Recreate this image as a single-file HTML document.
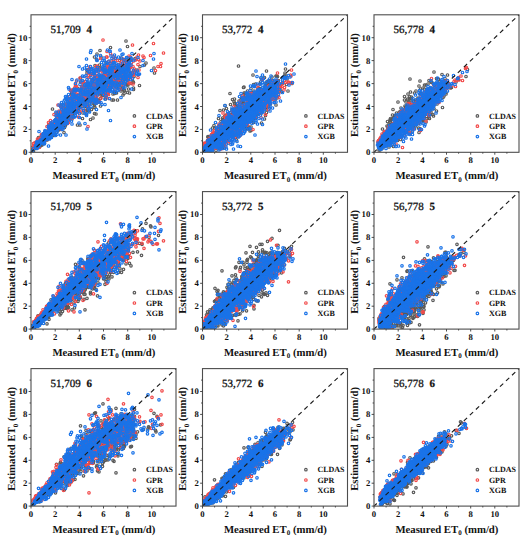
<!DOCTYPE html><html><head><meta charset="utf-8"><style>html,body{margin:0;padding:0;background:#fff;width:528px;height:550px;overflow:hidden}svg{display:block;text-rendering:geometricPrecision}text{font-family:"Liberation Serif",serif;fill:#111}.b{font-weight:bold}.t{font-size:8.7px;font-weight:bold}.g{font-size:8px;font-weight:bold}.l{font-size:10.75px;font-weight:bold}</style></head><body><svg width="528" height="550" viewBox="0 0 528 550"><defs><clipPath id="cp"><rect x="31.0" y="14.8" width="145.0" height="137.5"/></clipPath><marker id="Mk" markerUnits="userSpaceOnUse" markerWidth="10" markerHeight="10" refX="5" refY="5" overflow="visible"><circle cx="5" cy="5" r="2.50" fill="none" stroke="#5a5a5a" stroke-width="2.40"/></marker><marker id="Mr" markerUnits="userSpaceOnUse" markerWidth="10" markerHeight="10" refX="5" refY="5" overflow="visible"><circle cx="5" cy="5" r="2.50" fill="none" stroke="#f24a4a" stroke-width="2.40"/></marker><marker id="Mb" markerUnits="userSpaceOnUse" markerWidth="10" markerHeight="10" refX="5" refY="5" overflow="visible"><circle cx="5" cy="5" r="2.50" fill="none" stroke="#1a73e8" stroke-width="2.40"/></marker></defs><rect width="528" height="550" fill="#fff"/><g transform="translate(0.0,0.0)"><g clip-path="url(#cp)" fill="none" stroke="none"><path transform="scale(.5)" marker-start="url(#Mk)" marker-mid="url(#Mk)" marker-end="url(#Mk)" d="M68 294l1 0-1 3-2 1-1 2 1 0 0 1-4 1 5 0 4-5 0-2 3 0 1-1 4 0-7-1 1-1 1 0 6 0-5-1 2 0 5 0-11-1 4 0 1-2 3 0 2 0 1 0-4-1 2 0-6-1 6 0 3 0-10-1 7 0 2 0 1 0 0-1-1-1-2-1-2-1 3-1-4-5 5-1 14-13 1 1-1 3-2 1 2 2-9 2 3 0 1 0 0 1 4 0 2 0-6 1-3 1 2 0 6 0 1 0-8 1 4 0 2 0-5 1 4 0 1 0-11 1 7 1 5 0-9 1 8 0-11 1 1 0 10 0-7 1 1 0 5 0-6 2-1 1 2 1 0 3-5 1 0 2 14-15 2 0 1-3-3-1 10 0-4-1 3 0 2-1 1-1-6-1 5 0-7-1 2-1 2 0-1-1 1 0 0-2 1 0 3 0-10-2 3 0 5-1 2-1-11-1 6 0 6 0-6-1 4-1-1-2 1-2-1-1-10-1 6 0 5-5-4-26 17-8-1 2 4 2-13 12 10 0 2 0-3 2 2 3-10 1 1 5 11 3-9 1 6 0 3 0-8 1-4 2 5 0-4 2 6 0 5 0-4 1-1 1 5 1-13 1 5 0 7 0-11 1 4 0 4 0-5 3 1 2 2 0 2 0-9 1 8 0 0 1-2 1 4 0-8 1 2 1-3 4 15 0 1-10 1-3-1-1 2-1-4-1 2 0 2-7 4 0-2-4-2-1 8 0-6-2-3-1 6-2-1-2-3-1 7-1-1-2-5-1-5-2 6-1 3 0-3-1-7-2 4-1 1 0 5-1 1-3-8-6 2-10 14-18 0 1-3 5 1 3 6 0 3 11-11 4 5 2-4 2-2 1 4 0 2 2-5 1 9 1 1 1-1 2-4 1 6 0-12 1 5 2-3 4 10 1-9 1 7 0-6 1-2 2-2 2 6 2 0 1-5 1-2 1 4 2 11 12 5 0 5-13 1-11-11-3-1-5 1-1 1 0 8-4-6-1-1-1 3 0-3-3 4-1 1 0 5-1-9-1 4 0-7-1 11-2-12-1 5 0 1 0 4-1 2 0 1-1-10-1-1-2 3 0 3-1 3-3 0-4 2 0-7-7 7 0-11-4 11-1-3-3 3-7-6-2 0-8 16-17-3 2 0 5 2 26-4 1-2 3 2 1 5 3-2 4 1 1 4 1-7 1 8 1-7 2 4 0 1 1 1 1-11 1 11 0-7 2 4 1-3 1 5 0-11 3 5 0 5 1-7 3 8 0-4 8 2 0-8 1 5 6 5 1-5 1 4 1-5 6 8 11 5-3 6-8-3-1-6-8 5-4 2 0-1-6-1-2-4-1 9 0-11-4 6-2 5 0-3-1 4-1-1-1-11-2 2-3 6-1-8-1 2 0 2-3 4-1 0-1-6-3 5 0 3 0-10-1 5-3 0-3 3-2 5-1-10-3 0-1 0-2 0-4-1-2 3 0 7-26-4-3 3-12-4-5 5-6 6-7 2 13-3 16-1 5 4 1 7 6-6 13-6 2 3 1 4 0 1 4-6 1 4 2 0 2 1 4-6 1 11 1-7 3 0 1-5 2 5 1 5 2-1 4-7 1 5 1-2 2 3 1 3 0-7 6-4 5 0 2 4 8 10-14 1-4 3-6-4-3 0-4 1-1-2-1 3-3 10-1-1-1-10-1 6 0-3-1 7 0-1-1-7-2 4-2-6-1 3-4 8-1-7-2-6-1 2 0-1-4 6-2 2 0-8-1-1-2 3-3 7 0 1-1-9-2 5 0-1-2-6-6 8-3-6-7 9-30 10 22-5 8 7 6-5 4-2 1 11 1-9 2 7 0 1 0 1 0-5 2 4 2-8 5 1 3 2 0 2 1 4 0-12 3 1 2 3 0 7 0 0 1-11 2 11 0-9 1 6 0-3 1 7 0-9 2 2 1-6 1 7 1 4 0-11 1 2 0 6 1 2 0 3 1-4 2 0 2-4 9 1 2 3 1-4 1-3 1-2 12 3 0 8 0 11-10 2-3-6-5 7-1-1-1-5-1 4-1-2-2 2-1-9-1 1-3 4-1-4-3 1 0 1-2-3-1 13-2-11-2 7 0-9-3 10-1-6-1 7-2-6-2 7-3-4-10-7-1 11-6-9-3-2-7 10 0-1-1-5-4 9-34 3 11 1 23-4 4 9 0-5 7-4 5 6 5-5 5 8 3-1 5-2 3-3 3 0 1-1 2 1 6 7 2-8 1 0 2 2 0 1 8-2 7 4 1 8-7 0-3 12-5-12-6-1-2 2-10 1-9 5-4-4-23 22 9-3 4-9 3 28 3 1 10"/><path transform="scale(.5)" marker-start="url(#Mr)" marker-mid="url(#Mr)" marker-end="url(#Mr)" d="M67 287l1 4 1 0-2 3-3 1 9 0 5 0-5-3-3-1 2-2 5 0-2-1 0-1-4-1 2 0-3-1 4-1 1 0 1 0 4 0-6-1 1 0 2 0-2-1 2 0 1 0 1 0 3 0-5-1 2 0 2 0 2 0-7-1 2 0 3 0 2-1-8-1 4-1 4 0-1-3 1-3 0-2 14-24-3 8 3 7 0 1-7 2 4 0 3 0-4 1 1 0 1 0 1 1-4 2 1 0-7 1 2 0 4 0 2 0-6 1 2 0 5 0 1 0-11 1 6 0 3 0-2 1 0 1-4 1 1 0 3 0-7 1 2 0-2 1 4 1-5 1 10 1-8 2 5 0-7 2 14-11 3-2 2-2-2-1-3-1 2 0 0-1 1-1 2 0-4-2 9 0 0-1-8-1 7-1 2 0 1 0 1 0-9-1 6 0-7-1 1 0-1-1 4 0 4-1 1 0-1-1-11-1 1 0 3 0 4-2 3 0-2-2-7-1 8 0-3-3-4-3 7-12 8-19 6 3 3 2-7 7 3 1-6 2 4 1-5 4 0 1 0 1 3 0 2 0 3 1 1 0-4 3-3 1 7 0-8 1 1 0 6 0 2 0 1 1-3 1 3 3-4 1-6 1 3 0 1 0-7 1 7 0 6 1-8 1-4 1 6 0 3 0-10 1 5 0 1 0-6 1 4 0-4 1 8 4 2 2 13-11 2-2-5-2-1-2-3-1 4 0 3 0-6-1 9-1-5-1 4 0-6-1 6 0-8-1 6-1 1-1-7-1 4 0 1 0 3 0 2 0-10-1-3-1 13 0-13-1 12 0-9-1 8-1-10-1 4-1 7 0-8-1-4-2 1 0 7 0-7-1 4 0 1 0 5 0 2 0-5-1-7-4 11 0 1-2-4-1 0-3 1 0-3-2 4-8 2-7 14-31-2 7 0 3 2 1-4 3-6 4-2 1 9 1-5 1 3 1 2 2 3 2-4 2-7 6-2 2 9 0-6 1 8 0-3 1 0 2-5 1-1 1 0 1 11 1-1 1 1 0-11 1 2 2 3 0 2 0 2 0-6 1 8 0-13 3 6 1 0 2 4 0-8 1 3 0 7 0-10 2 8 1 3 4-11 1 0 2-2 1 5 7 12-2 3-10-2-1 6-3-9-7 2 0 2 0 0-2-2-2 3 0 7-3-4-1-9-1 4 0 5 0 1 0-4-2-1-2 2-2 5-2-5-2 4 0 2 0-12-1 5-1 2-1-4-2 9 0 0-3-6-2-6-3 9 0-3-2 4-2-2-3 3-2-1-7-2-1-3-8 20-23-2 5-1 8 4 3 0 1-7 4 4 1-8 8 1 0 5 3 0 1-3 3 3 1-6 4 1 0 1 0 2 2 3 1-1 4 5 2-7 1 0 1 3 0 2 1-3 2-8 1 3 2 2 0-4 1 2 0 6 0-5 1 5 0 3 0-12 3 11 0 2 1-12 1 12 0-12 2 9 1-6 2-3 1 0 1-1 1 0 4 9 1-1 3-8 6 8 32 18-48-2-1-9-2 9-2-7-4 8-1-3-2-8-1 3 0 2-2 7 0-9-1 1 0 9 0-5-1-2-2 2 0 1-1 3-2-7-1 3 0 4 0 1 0 0-2-7-3 2 0-2-1 4 0-8-1 4 0-4-1-2-1 1-2 5-2 1-1 4 0-7-1 4-3 0-1-6-1 0-3 6-1-2-1 3-1-1-1-1-1 2-2-2-1 5 0-9-3-3-1 8-3 3-1 0-2-5-1-5-1 9-6 2-1 12-52-5 37 7 18-9 4-1 3 6 0 2 2 3 3 0 3-5 1 2 1-3 1 4 1-10 2 12 1-13 1 7 2-7 1 12 0-10 2-1 2 8 0-3 3 5 0-5 1 1 1 4 1-11 1 1 0 1 0 10 1-3 1 4 0-12 1 5 1-3 1 3 0 2 0 5 0-4 1-2 1-7 4 2 1 2 1-4 1 13 3-7 7-3 7 19-6-6-4 5-4-1-2-3-1-1-7 6 0 4-5-6-1 6-2-4-1 3 0 0-1 1 0-7-1 8-1-9-1 5-1 2-2-4-1 1 0-3-1 5 0 1 0-7-2 3 0-4-1 1-1-4-1 5-2 6-1 0-1-4-1-3-1 6-2-4-1-2-1-2-1 4-1 2-1-8-1 7 0 6-1-11-1 0-2 2 0 2 0 1-4-2-2 3-3 2-3-3-3 5-1-9-8 1 0 7-7-7-4 12 9 4 5-3 2 8 2-7 7 9 1-1 5-2 3 2 0-5 1-7 1 8 1-1 3 5 0-4 1-7 1 7 2-6 1-1 1 6 1 2 0 0 1 2 1-11 1 4 0 1 1 7 0-12 1 7 0-3 1 5 1 1 2-8 2 3 0 2 1 1 2-4 2 1 0 1 1-3 4 2 0-4 1 3 0 2 6 10 0-1-8 8 0-4-2 1-4-5-1 3-2 4-2-8-3 3 0 3 0-3-2 4 0 3 0-8-2 10 0-2-2-7-1 2 0 2 0-6-2 4 0 6-1 1 0-11-1 4-6 4 0-7-3-1-2 7-2-2-2-1-6 6-2-3-4 19-28-7 22 3 2-2 7 4 4-8 1-3 1 4 2 6 2-1 4-2 1-2 4 7 6 0 4-12 1 10 0-3 1-4 2 4 0 5 0-8 1 2 2-3 1 2 0 1 8 2 0 6 2 10-13-9-5-1-3 2-5-1-1 11-1-9-2-3-5 10-4-9-7 4-2 6-1-3-5 3-4 9 2 2 3-8 7 21-11 6-24 9 46 5 0-10 8 11-14 5-21"/><path transform="scale(.5)" marker-start="url(#Mb)" marker-mid="url(#Mb)" marker-end="url(#Mb)" d="M67 297l-5 5 2 0 1 0 9-5 0-1-2-1 1-2 2 0 2 0-3-1 1 0 1 0-5-1 1 0 5 0-1-1 3 0-3-1 2 0-2-1 1 0-2-1 2 0 3 0-5-1 5 0 1 0 1 0-9-1 9 0 1 0-4-1 1 0 2 0 1 0-9-1 9 0-1-1-2-1 2-2-4-16 19-10 0 1-7 7 7 1-7 1 2 0 4 1 1 0-6 1-1 1-3 1 4 0 3 0-8 1 5 1 1 0-3 1 5 0 1 0 2 0-5 1 3 0-11 1 8 0 5 0-9 1 9 0-3 1 2 0-10 1 8 0-8 1 7 0 2 0-8 1 1 0 2 0 1 0 3 0-4 1 5 0-11 1 1 0 3 0 1 0 3 0-6 1 4 0-1 1-5 2 4 0-4 1 3 0-3 1 1 0 3 1 1 0-1 2 9 4 2-14 0-2 0-1 3 0 1 0-2-1-3-1 1 0 12-2-10-1 10 0-12-1 5 0-3-1 5 0-5-1 1 0 4 0-6-1 3 0-3-1 4 0-3-1 5 0-7-2 1 0 9 0-6-1 1 0 3-1 0-1 1 0-8-1 9 0-11-1 3 0 1 0 1 0 6-1 2-1-11-1 3 0 1 0 3 0 3 0-7-1 3 0-8-1 8 0 2 0 2 0-5-1-2-2 6-2-7-1 2-2 7-1-2-2 2-2 12-34-5 5 4 4 1 4-11 6 5 0-1 6 2 0 1 0-7 1 6 0 4 0-4 1 2 0 2 0 1 0-3 4 5 0-13 2 12 0-4 1 3 0-11 2 1 0 8 0 3 1-11 2 4 0 2 0-4 1 6 1-1 1 1 0-3 1-3 2 2 1 1 1 3 0-2 2 2 1 2 0-11 1 6 1-6 1 3 0 9 1-10 2 0 3 0 5 7 1 11 0-6-12 3-5-1-4 0-2 6 0-1-1-7-1 8 0-8-1 5-2-4-1 5 0-6-1 11 0-10-2 1-1 4 0 2 0 1 0-9-1 2 0 1 0 5 0-5-1 1 0 1-1 3-1-3-1-1-1 2 0-6-2 1 0 7 0 2 0-7-1-2-1 10 0-7-1 0-1-2-1 8 0 3 0-13-1 2 0-1-1 12 0-7-1 1 0 3 0-3-2-7-1 10-2-5-1 4-2 3 0 0-1-12-2 1 0 10-1-7-1 8-1-1-1-10-2 11 0-3-1-6-3 5 0 0-2-2-1 2-2-2-1-1-1 6-4 1-11-1-3 7-16 7 8-1 11-2 1 5 0-1 1 1 0-2 1-7 3 4 1-3 4 2 0 4 3 1 0-4 1 1 0-3 1-5 2 3 0 7 0 2 0-12 1 3 2 1 3 4 1 0 1-5 1 8 0-9 1 9 1-9 1 1 0 3 1 1 0 3 0-10 1 6 2 1 0 5 0-13 1 3 0 5 1 1 0-5 1-4 1 1 0 1 2 6 0 0 2-8 1 11 0-6 3 8 0-8 1 3 0 3 2-9 5 9 0-10 2 5 0 3 0-6 8 1 6 14-2 1-11 0-8 8-6-10-1 9-3-8-2 1 0-1-3 1-1 0-1 6-2-7-1 7 0 1 0-10-1 3 0-4-1 4-2-1-1 0-1 4 0-2-1 1-1-1-1 1 0-3-1 8 0-3-1-8-1 7-1-6-3 2 0 9-2-6-1 0-3 3-1-4-2 5 0-5-2-4-1 6 0 2-3-4-7 2-7 3-1-11-1 11-8 0-14-7-5 23-28-8 13 0 13 8 2-12 3 5 3 4 5 1 0-7 7-4 2 6 6 2 3-2 4 2 0 5 1-5 2 5 0-12 1 1 0 5 0-2 1 1 0 3 1-5 2 7 0-1 1-7 4 4 0 5 0-8 2 2 3-3 1 4 0 2 1 4 0-12 1 0 2 6 0-3 1 6 1 3 2-5 4 3 1-11 2 7 0 6 0-3 1-10 1 0 2 6 0 0 1 5 2-8 3-2 1 6 2 3 3-1 2 2 6-9 3 3 1 0 3-3 16 4 11 19-39-11-6 10-6-7-3 6 0-4-3 1 0 4 0-8-2 9 0-1-1-7-2 1-2-1-1 10-3-7-2-1-1-2-1 2 0 2 0 6 0-13-2 1 0 3 0 9-1-12-3 8-1-1-1-1-2 3 0-8-1-1-1 12-4-7-2 7-2-13-1 12 0-6-2-4-2 1 0 10-2-7-1 1-1-7-2 8-4-6-4 4 0 0-2 1-1 3-2-6-1-4-2 2 0 8 0-6-2 9-2-1-14 0-1-1-8-11-11 19 10 7 5-2 5 3 0-6 4 5 5 0 1-2 2-1 4 0 1-7 2 8 0 1 0-10 2 12 3-11 4 0 1 5 0-4 2 6 0-3 1 0 1 6 0-7 1 7 0-7 2 1 0-3 1-2 1 2 1 2 0 5 2 3 0-5 1 3 0-9 1 11 0-10 2 5 3-7 1 3 2 1 0 1 0 3 0 3 0-11 1 12 1-12 1 8 0 2 0 1 0-12 1 8 0 4 1-1 1-7 1 0 1 1 0 7 0-1 1-11 1 1 0 8 0 2 1-9 2 5 0 4 4-11 15 2 0 4 1 2 4 17 32-4-20-7-12 0-11 9-1-7-6-1-7 9-1 2-1-7-1-4-1 4 0 5 0-3-1 2 0 2-3-2-1-8-1 10-2-10-1 1 0 10-1-9-1 0-2 5-2-3-1 1 0-2-1 5 0 1 0 2 0-3-2 4 0-9-2 1-1 1 0 2 0-3-1 6 0 0-3-3-3 5 0-7-4 4 0 0-1-10-2 2-1 9 0-6-1 8 0-12-1 7 0 4-1-12-1 9 0-9-3 9 0 3-1 0-4-9-4 7 0-6-1 4-4 4-10-2-9 0-1-5-2 14 10 8 4-6 2-7 1 3 8 2 0 0 3 4 0 4 2-11 1 8 0 3 2-13 1 1 2 6 0 3 2 3 0-13 3 0 1 11 5-9 1 2 1 8 0-3 1-2 2-2 1-3 1 9 1-4 2 5 0-4 7-8 1 2 0 5 1-7 1 13 0 0 1-4 1-4 1 1 2 6 0-9 2 7 1-9 5 5 0 6 1-9 3 4 1 11 10-4-16 9-3 3-2-11-3 10-3-3-1-3-2 8-1-6-4 5-1-8-2 4 0 0-4 1 0 1 0 3 0-11-2 10 0 1 0-11-1 4-1 7 0-12-3 3 0 6-1-8-1 2 0 5-1-6-1 4 0 5 0-2-1-2-1-3-1 7 0-3-2-2-1-7-1 11-3-9-1 5-5 3-7-6-3 2-7 2-1-6-8 24 7-11 8 1 0 8 1 0 1 1 4-5 1-5 3 5 1 1 0-3 2 1 0-1 1 0 1 6 0-4 2-3 1-1 4 3 0-3 1 1 1 0 1 1 0 2 0-6 4 1 0 6 0 6 2-4 2-8 1 2 0 7 1-10 1 9 0-8 2 7 0-7 1 4 3 8 0-13 2 9 0-7 1 9 18 13-29 1 0-4-1 6 0-6-2 2-4-8-2 1-20 8-5 10 6 0 10 17 10 4-23 1-11"/></g><line x1="31.0" y1="152.3" x2="176.0" y2="14.8" stroke="#1a1a1a" stroke-width="1.15" stroke-dasharray="4.5 3.8" stroke-dashoffset="0.7"/><rect x="31.0" y="14.8" width="145.0" height="137.5" fill="none" stroke="#4d4d4d" stroke-width="1.1"/><path d="M31.0 152.3v2.4M31.0 152.3h-2.4M43.1 152.3v1.4M31.0 140.8h-1.4M55.2 152.3v2.4M31.0 129.4h-2.4M67.2 152.3v1.4M31.0 117.9h-1.4M79.3 152.3v2.4M31.0 106.5h-2.4M91.4 152.3v1.4M31.0 95.0h-1.4M103.5 152.3v2.4M31.0 83.6h-2.4M115.6 152.3v1.4M31.0 72.1h-1.4M127.7 152.3v2.4M31.0 60.6h-2.4M139.8 152.3v1.4M31.0 49.2h-1.4M151.8 152.3v2.4M31.0 37.7h-2.4M163.9 152.3v1.4M31.0 26.3h-1.4" stroke="#3a3a3a" stroke-width="0.9" fill="none"/><text class="t" x="31.0" y="163" text-anchor="middle">0</text><text class="t" x="27.3" y="155.3" text-anchor="end">0</text><text class="t" x="55.2" y="163" text-anchor="middle">2</text><text class="t" x="27.3" y="132.4" text-anchor="end">2</text><text class="t" x="79.3" y="163" text-anchor="middle">4</text><text class="t" x="27.3" y="109.5" text-anchor="end">4</text><text class="t" x="103.5" y="163" text-anchor="middle">6</text><text class="t" x="27.3" y="86.6" text-anchor="end">6</text><text class="t" x="127.7" y="163" text-anchor="middle">8</text><text class="t" x="27.3" y="63.6" text-anchor="end">8</text><text class="t" x="151.8" y="163" text-anchor="middle">10</text><text class="t" x="27.3" y="40.7" text-anchor="end">10</text><text class="l" x="52.4" y="178.9">Measured ET<tspan font-size="7" dy="2.7">0</tspan><tspan dy="-2.7"> (mm/d)</tspan></text><text class="l" transform="translate(14.9,137.0) rotate(-90)" x="0" y="0">Estimated ET<tspan font-size="7" dy="2.7">0</tspan><tspan dy="-2.7"> (mm/d)</tspan></text><text x="50.5" y="32.8" font-size="11" stroke="#111" stroke-width="0.3">51,709</text><text x="86.6" y="32.8" font-size="11" class="b" stroke="#111" stroke-width="0.25">4</text><circle cx="134.4" cy="115.9" r="1.25" fill="none" stroke="#5a5a5a" stroke-width="1.20"/><text class="g" x="145.9" y="118.6">CLDAS</text><circle cx="134.4" cy="126.2" r="1.25" fill="none" stroke="#f24a4a" stroke-width="1.20"/><text class="g" x="145.9" y="128.9">GPR</text><circle cx="134.4" cy="136.6" r="1.25" fill="none" stroke="#1a73e8" stroke-width="1.20"/><text class="g" x="145.9" y="139.3">XGB</text></g><g transform="translate(171.5,0.0)"><g clip-path="url(#cp)" fill="none" stroke="none"><path transform="scale(.5)" marker-start="url(#Mk)" marker-mid="url(#Mk)" marker-end="url(#Mk)" d="M67 287l0 4 2 0-3 5 3 0-4 1-1 1 2 1 1 0-2 1 2 0 0 1-5 1 4 0 8 0-2-2 5 0 2 0-3-1-6-1 2 0 1 0-1-1 2 0 5 0 3 0-12-1 2 0 4 0-6-1 5-2 2 0 5 0-11-1 1 0 1 0 1 0-4-1 1 0 2 0 5 0 0-1 1 0-2-1 3 0 2 0-8-1 8 0-8-1 2 0 3 0-8-1 6 0 0-1-1-1 2 0 0-1 1 0 3 0-5-1 5 0-10-1 3-1 8 0-8-1 6-1-6-2 2 0 5 0-2-1 2 0-9-1 0-1 2 0 7-3 1-2-1-12 15-35-3 16-9 14 10 0 1 0-9 6 8 0-3 1 5 0-3 1 3 0-5 4 2 1 2 0-8 1 6 0-10 1 8 0-8 1 2 0 6 0 5 0-11 1 3 0 5 1 2 0 1 0-8 1 3 0-6 1 4 0-6 1 5 0 4 0-8 1 5 0 6 0-7 2 2 0-6 1 2 0-3 1 3 0 5 0-4 1 2 0-6 2 11 0 2 0-8 1 7 0-12 1 1 0 2 0 3 0 1 0 4 0-3 1 5 0-13 1 4 0 1 0 1 0 2 0-8 1 13 0-13 1 5 0 4 1-1 1 2 0-5 1-5 1 7 0 1 0-7 1 10 3 0 3 1 0-7 4 17-5-4-3 2-2-1-2 1-6 1 0 5 0-7-2 2-1-5-2 10 0-5-2-4-2 9-1-5-1-2-1-4-1 4 0 1 0 7 0-7-1-6-1 7 0 3-1-3-1 6 0-11-3-2-2 7 0 1 0 3 0-11-2 6 0-5-1 1 0 10 0 1 0-11-1 4 0 7 0-12-1 2 0 1 0 1 0 1 0 1 0-6-1 5 0 3 0-9-2 9 0-1-1 3 0-10-1 3 0 7 0-4-1 1-1 5 0-3-2 3 0-8-1-4-3 7-2-3-1 0-1-1-3 6 0-2-2 0-1 2-1 1-2-5-10 6-3-3-6 10-24 5 12 3 4-7 6 3 10 3 3-6 3 1 0 6 0-1 1-1 1-10 2 7 2 3 0-8 2 7 1 3 0-12 1 5 1 1 1 5 0-9 1 7 0-2 1 3 0-6 1 2 1 1 0 1 0 2 0-6 2 2 0 2 0 0 1-9 1 1 0 3 0 1 1 2 0 3 1-6 1 3 0 1 0 3 0-11 1 7 1-3 2-4 1 2 1 5 0-7 2 5 0 1 1 7 1-10 1 7 0 0 1-8 1 4 1 3 0-4 1-1 2 8 0-6 1-5 1 7 0-7 1 7 1-2 2 4 0-4 1-4 14 16-6-2-5 7-2-9-4 0-2 10-1-1-3-7-3 6 0-7-4 4 0-3-2 7-3-8-1 2-1 1 0-4-1 8 0-7-1 1 0 1-3-1-1 11 0-8-1 4 0-4-1 7 0-12-1 3-1 3 0 5 0-7-1 5 0 0-1-9-4 1 0 2 0 7 0-4-1 3 0-2-2-1-3 7-1-2-1-5-1 1 0 0-1 3 0-1-2-2-1 3 0 2 0-12-2 6 0 5-1 2-1-2-1 2-1-10-1 5 0 2 0-6-3-3-2 12-1-13-1 9-4 4-3-13-1 8-66 11 42-1 1 8 7-7 4 2 0-2 3 7 4-8 2 2 0-5 2 5 0 7 2-12 3 11 0-10 1-1 1 3 1 8 0-10 2 2 0 1 1 5 0 2 0-1 2 1 0-2 1-5 1 7 0 1 0-8 1 1 1 7 0-6 2 6 0 0 2-10 1 7 1-4 1 2 0-5 1 1 1 6 1-10 1 12 0-11 1 1 0-2 1 2 0 8 1-4 2 6 0-10 1 4 1 1 2 3 0-9 4 8 2 1 0 2 0-12 1 4 0-2 1 1 0-1 3 5 1 2 0-4 1-3 1 6 0-4 2-3 2 12 2-12 2 5 0 4 0 1 0 1 1-2 1 7 4 2-1-4-7 4 0 5-9-6-2 5-1-8-2 2-1 4-1-4-4 5-1 4 0-12-1 1 0 7 0 2-1-9-1 2 0 2-2 6-2 2 0-4-1 4 0-12-1 2-2 2-2 4-1-7-2 1-1 1 0 2-1-2-2 2-2 5 0-8-1 1 0 6 0 1-2-6-1 5 0 2 0-11-1 1 0 3 0 0-2-3-1-2-2 6 0 4 0-8-1 9-2-10-1 1-1 11 0-1-2-11-1 3-1 0-1 7 0-4-5 0-1 4-3-6-5 5-8-1-19 16 6 2 3-3 5-10 4 9 0-4 8 3 1 2 0 2 1-6 3 2 1 1 1-5 1 6 4-8 2 5 0-6 1 2 1 1 0 6 0-6 2 9 0-7 2 3 0 1 0 3 2-13 1 9 0 2 0-1 1 2 0-7 2 4 0-1 1 2 1-10 1 9 0-9 1 10 0-3 1 3 0 2 2-7 1 3 1-3 2 1 0-5 1 1 0 8 1-1 1 3 1-11 3 1 1 4 1-4 1 4 1 3 1 3 1-11 1 6 0-3 1-1 1-2 5-1 3 12 9 6-8 2-7 2-6-8-3 8-4-4-1 2-1-3-2 9-1-8-2-4-1 10 0-2-5 0-2 3 0-11-1 1 0 10 0 1-2 1-2-9-1 2-1 1-1 4 0-11-1 10-3-10-1 10-1-2-1 5 0-5-1 3 0 1-5-11-1 10 0-3-3 3-2-4-2 0-1 2-1 3 0-6-1 3 0 4-2-4-2-2-1 5-2-3-1 3-1-8-7 4-13 19 10-8 2-4 7 5 0-1 7-2 1 4 1-4 4 0 1 5 0 4 0-5 1-7 1 2 0 2 1-3 2 4 1-3 3-2 2 4 1-2 2-2 1 7 0 4 2-9 4 0 1-2 1 1 0 10 2-9 8 11 2 2-14 1-4-1-8 5-1 4 0-8-2 5-3-5-1 3-1 3-6 4-3-11-6 3 0-2-8-2-1 18-14-1 8 0 4 0 3 4 5-1 11 3 13 8-15"/><path transform="scale(.5)" marker-start="url(#Mr)" marker-mid="url(#Mr)" marker-end="url(#Mr)" d="M66 286l3 0-1 1 1 1-3 3 2 0 1 0-1 1 1 0-1 1-2 1 0 1 3 0-5 1 4 0-3 1 1 0 2 0-3 1 2 2-4 1 7-4 1 0-1-1 5 0 4-1-7-2 6 0-7-1 3 0 7 0-11-1 2 0 8 0-4-1 1 0 4 0-8-1 1 0 3 0 1 0 1 0 4 0-12-1 3 0 7 0-9-1 8 0 3 0-6-1 1 0 1 0 1 0 1 0-7-1 2 0 0-1 2 0 1 0 2 0-5-1 2 0 2 0 3 0-9-1 3 0 1 0 2 0 1 0-8-1 5 0 1 0-6-1 8 0-3-1 1 0 3 0-7-1 1 0 3 0 2-1 1-1 0-1-2-1-1-1 0-1 1-3 2-2 1-3 12-16 0 4 2 2-4 2 1 0-1 1-7 4 1 0 7 1 2 0 1 0-8 2 1 0 2 0 1 0 4 0-5 1 1 0-8 1 12 0-12 2 9 0 2 0-8 1 6 0 1 0-6 1 3 0 4 0-8 1 1 0 2 0 1 0 3 0-2 1 2 0-8 1 1 0 1 0 3 0-3 1 2 0 1 0-7 2 6 0 4 0-9 1-2 1 2 0 5 1-6 1 2 0 3 0-6 1 3 0 1 0 5 0-5 1 3 0 1 0-8 1 1 0 2 0 2 0 5 0-10 1 1 0 5 0 1 0-6 1 3 0-2 1-1 2 3 1-4 1 2 1-2 1 4 4-4 1 15 1 8-6-9-2 9-3-6-2-3-1 2-1 8-1-3-1 1 0 0-2-8-1 6-2-3-1 0-1-3-1 2 0 3 0 2 0 1 0-7-1 9 0 2 0-7-1-3-1 10 0-12-1 3 0 6 0 1 0-8-1 2 0 6 0 2 0-12-1 2 0 9 0 1 0-11-1 6 0 1 0 5 0-5-1-8-1 3 0 0-1 8 0-11-1 1 0 2 0 1 0 5 0 4 0-11-1 3 0 5 0 1 0-11-1 1 0 7 0 1 0-9-1 5 0 2-1 1 0 2 0 3 0-10-1 4 0-2-1 3 0 2 0 1 0 2 0-5-2 5 0-4-1-6-1 1-1 6 0 3 0-3-1-3-1-3-1 9 0-3-1 1 0-1-1 3 0-6-2 5-3-2-2 0-4-1-2-4-7 22-13-3 10 2 3 0 2 1 0-13 1 4 1 9 0-12 1 2 0 4 0 2 0-5 1 8 1 0 1-3 1 0 1 4 0 0 1-4 3 1 0-3 1 5 0-10 1 1 0 4 0 1 0 1 0-2 1 1 0 3 0-6 1-3 1 3 0 3 0-3 1 3 0 2 0 0 1 2 0 1 0-10 1 3 0 2 0 0 1-8 1 1 0 2 0 1 0-3 1 11 0-4 1-4 1 3 0 4 0-4 1 2 1 3 0-10 1 3 0 6 0 1 0-9 1 1 0-1 1 7 0 3 0-13 1 1 2 11 0-12 1 1 0 2 0 5 0 1 0-9 1 2 0 6 0 4 0-9 1 3 0 1 1 2 0-6 1 6 1-7 1 2 1-4 2 4 0 0 1-3 1 7 1-6 9 4 2 8-8 7-4 1-1 4-2-11-2 4 0-4-2 0-1 9-1-2-2-2-2 1-1 5 0-9-1 2-5-4-1 5 0 4 0-7-1 4 0-5-1 9-1-9-1-2-1 6 0 7 0-10-1 3 0 1 0 3 0-9-1 4 0 2 0 6 0-12-1 3 0 1 0 2 0-3-1 2 0 4 0 3 0-8-1-1-1 2 0 4 0 2 0-4-2 2 0-7-1 9 0 1 0-4-2-7-1 1 0 1 0 1 0 7 0-2-1 3 0-8-1 3 0 3 0-10-1 2 0 1 0 7 0-6-1 1 0 1 0 2 0 4 0-8-1 2 0 0-1 3 0-9-1 3-1 6 0 3 0-3-2 3 0-11-2 4 0 1 0 3 0 1 0 2-1-10-2 4 0 2 0 1-2 1-1 1-1-1-4-2-3 2-6 5-12 7 4-5 2 9 0 0 5 0 1-5 5 3 0 1 0-2 1-6 1 6 0 3 3-10 1 7 0-9 1 8 0-2 1 1 0 4 0 1 0-6 1 3 0-4 1 0 1 1 0-2 2 6 0-5 1 7 0-13 1 2 0 0 1 4 0 1 0 3 0 3 1-12 2 9 0-10 2 4 0 5 0 2 1-10 2 4 0-3 1 6 0 5 0-9 1-3 1 0 1 2 0 3 0 7 0-13 1 0 1 1 0 5 0-4 1 11 0-7 1 7 2-8 2-5 1 10 0-7 2 1 1 8 0-5 1 3 1 1 0-7 1-3 3 0 7 22-2-6-15-1-2 3-5 1-1 2-1 5 0-12-2 0-2 9 0-4-1 1 0 4-2 1 0-7-1 1 0 0-1 3 0 2 0-8-1 3-1 3 0 4 0-10-1 1 0 5 0-7-1 8 0 3 0-9-1 1 0 3 0-8-1 1 0 4 0 4 0-4-1 4 0-6-1 5 0-8-1 2 0 2 0 6 0-6-1 7 0-11-1 1 0 1 0 6 0 3 0 1 0-12-1 4 0 4 0 2 0-9-1 6 0-1-1 2 0 2 0-10-1 9-1-4-1 6 0-10-1 9 0 2 0-8-1 2 0 1-1 4 0 1 0-7-1 4 0-1-1 1 0 4-1-13-1 3 0 3 0 6 0-1-1-2-2 0-5-6-1 5 0-3-2 8-1-3-3-6-1 7 0-9-1 17-14-1 7 9 2-2 2 0 1-3 1 4 0-4 1 2 2-2 1 5 0-3 1-6 1-3 1 7 0-5 2 4 1 5 2 1 0-9 1 7 0-11 1 3 0 2 0 3 0 5 0-11 1 5 0 3 1 2 0-7 1 1 0 2 0-2 1 1 0 3 0-7 2 0 1 1 0 2 0 2 0-7 1 0 1 3 0 2 0-2 2 4 2-2 1 2 0-3 1 7 0-4 1 2 0-7 2 4 0-5 1-1 3 7 0 2 0-10 1 1 0-1 2 9 0-2 1 4 11 9-6 6-10-9-2-2-1 2-1 2-3 4 0-9-2 2 0 0-2 6 0-6-2 1 0-1-3 9 0-6-2 4 0 1 0-2-1-5-1 6 0-9-1 7 0-1-1 0-1-2-2 1 0 1 0 2 0 2 0 1 0-7-1-1-2 10 0-7-1-2-1 6 0-10-1 4 0 6 0-7-1-2-1 5 0 3 0 1 0 1 0-11-1 7 0 5 0-6-1 1 0 5-1 1 0 0-4-3-2-3-2 5-3-12-13 18 2 3 6 5 0 0 1-7 1-2 1 8 0-10 2 1 1 1 0 8 0-8 1 10 0-4 1-9 1 6 1 7 0-9 1 2 0 5 0-10 1 5 0 1 0-1 1-6 1 3 0 2 0 2 0 3 5 2 1-7 2-1 1 8 1-10 1 1 0 1 0 0 2 6 1 1 1-6 1-1 2 5 1-8 7 18-12-4-3 4-7-5-5 3 0-3-5 6 0-3-1 5 0-8-1 5 0 6 0-8-4 2-1 5-1 3-1-13-1 2 0-1-4 1-15 14 15 8 3-7 1 6 0 2 1-9 9-1 5 15-14 0-1-1-13-1-2 2-10"/><path transform="scale(.5)" marker-start="url(#Mb)" marker-mid="url(#Mb)" marker-end="url(#Mb)" d="M69 291l-1 1-1 3 2 0-4 1 2 0 2 0-3 1 2 0 1 0-2 1-3 1 3 0-1 1 2 0-3 1 1 0 1 0 2 0-7 1 4 0 1 0 11 0 1 0-1-1 4 0-11-1 2 0-3-1 4 0 5 0 3 0-12-1 2 0 1 0 3 0-6-1 8 0 4 0-7-1 2 0 5 0-8-1 2 0 1 0 2 0 1 0 1 0-11-1 3 0 4 0 3 0 2 0-4-1 1 0-8-1 7 0 2 0 2 0-11-1 4 0 1 0 1 0-4-1 1 0 3 0 2 0 3 0-10-1 1 0 2 0 2 0-4-1 5 0 1 0 2 0-4-1 2 0 1 0 3 0-6-1 1 0 1 0 2 0-5-1 5 0 1 0 1-1-5-1 1 0-7-1 5 0 1 0 2 0 2-1 1 0-9-1 1 0 3 0 1 0 2-1 2-2-2-1 0-1-2-3-1-12 17-29-7 14 9 4-2 4-5 2 0 3 4 1-4 4 5 0 0 1 2 0-6 2 6 0-8 1 6 0 1 0-4 1 1 0 1 0 2 1-2 1-10 1 1 0 3 0 7 0 1 0 1 0-10 1 2 0 1 0 1 0 3 0 2 0 1 0-7 1 6 1-11 1 6 0 5 0-6 1 1 0-6 1 6 0-4 1 3 0 1 0 2 0-8 1 3 0 2 0 1 0 1 0 5 0-13 1 3 1 1 0 1 0 1 0 6 0-12 1 2 0 1 0 6 0 1 0-10 1 2 0 3 0 1 0 1 0 2 0-8 1 3 0 7 0-4 1 1 0 2 0 2 0-12 1 6 0 1 0-4 1 1 0 3 0 2 0 4 0-13 1 1 0 4 0 2 0-7 1 4 0 2 0-3 1 3 0-6 1 2 0 5 0 1 0 1 1-9 1 4 0 1 0 3 0-4 1 2 0 2 0 3 0 2 4-2 2 15-2-11-1 4 0-4-1 10-2-10-3 3 0-3-3 1 0 1 0 9 0-6-2-4-3 7 0-3-1 5-1-8-2 4-1-5-2 1 0 1 0 6 0-7-1 1 0 5 0 1 0 3 0-9-1 4 0-3-1 1 0-5-1 1 0 3 0-4-1 1 0 5 0-4-1 3 0 1 0 1 0 3 0-8-2 1 0 8 0-11-1 1 0 8 0-8-1 1 0 3 0 2 0 4 0-8-1 1 0 5 0 3 0-10-1 7 0-9-1 3 0 1 0 7 0 1 0-10-1 4 0 3 0 3 0-2-1 2 0-11-1 3 0 1 0 3 0 4-1-9-1 4 0 1 0 3 0 1 0-8-1 1 0 6 0-3-1 2 0-11-1 4 0 8 0-3-1 1 0 2 0-9-1 5 0 3 0 1 0-3-4 4 0-4-1 3 0 0-1-8-3 2 0 3 0-2-2 2 0 4-4 0-3-4-24 14 5 2 3-2 3-9 1 12 2-10 1 1 4 1 2 2 0 6 0-5 1 2 1-7 1 9 2-4 1-4 2 2 0 2 0 1 0 2 0 2 0-6 1 2 0 2 0 3 0-10 1 7 0-5 1 5 0-10 1 7 0-2 1 8 0-12 1 7 0-8 1 2 0 8 0 1 0-8 1 9 0-11 1 1 0 5 0 3 0 1 0-7 1 0 1 3 0 2 0-1 1-8 1 1 0 1 0 3 0 6 0 1 0-10 1 9 0-9 1 5 0 2 0-8 1 6 0 5 0-12 1 2 0-1 1 10 0-10 1 1 2 11 0-13 2 1 0 6 0 2 1 1 0 2 0-12 1 1 0 2 0 5 0 2 0-6 1 1 0 8 0-13 1 2 0 1 0 5 0-3 1-3 1 1 0 1 0 2 0-6 1 1 0 4 0 4 0-4 1-5 1 4 0 4 1 2 0-7 1 8 0-11 1 1 0 1 0 8 0 0 4 1 0-7 1 1 1 3 1 3 2-1 4-3 1 5 9 14-5-5-1-2-9-5-3 8-6 0-2 3-1-9-1 2-1 0-1 3 0 1-2 4-1-6-1-1-2 7 0-1-1 2-1-10-2 0-1 3 0-6-1 1 0 5-1-4-1 0-1 3 0 2 0 2 0 1 0 3 0-11-1 5 0 1 0-5-1 1-1 1 0 6 0-5-1 4 0-10-1 1 0 5-1 6 0-5-1-7-1 6 0 2 0 2 0-7-1 3 0 1 0 3 0 1 0-3-1-6-1 7 0-8-1 10 0-11-1 3 0-3-1 3 0 9 0-11-1 1 0 1 0 5 0 1 0 4 0-13-1 6 0 5 0-11-1 3 0 3 0-3-3 7 0 3 0-10-1 5 0 0-1 1 0-1-1 4 0-1-1 2 0-12-1 12 0-13-1 11 0-9-1 4 0-6-1 11 0-7-1 2 0 4 0 1 0-11-1 13 0-8-1 6 0-11-3 9 0 3-1-9-1 6 0 3 0-5-3 3-1 1-4-5-2 5-3-1-11 3-6 11-1 2 0 0 3-1 3 2 2-10 1 8 0 1 0-5 2 3 0-8 1 9 0 2 0-11 1 5 0-3 1 7 3-1 5 1 0-5 1 4 1-9 1 12 0 0 2-1 1-10 1 6 0-1 2 2 0-5 1 0 1 6 1 2 0-11 1 5 0 2 0 4 0-12 1 5 0 1 0 1 0 3 0-8 1 3 0-2 1 8 0-4 1-7 1 2 0 1 0 9 0-12 1 2 0 3 0 2 0 1 0-8 1 3 0 5 0 5 0-13 1 3 0 4 0 5 0 1 0-8 1 7 0-12 1 4 0 2 0 1 0-7 1 4 0 2 0 7 0-1 1-11 1 1 0 9 0-10 1 4 0-2 1 6 0 1 0 3 0-13 1 2 0 3 0 3 0 1 0-4 1 3 0 2 0-6 1 1 0 4 0 3 0-10 1 1 0 3 0 1 0 1 0-8 1 3 0 4 0-4 1 3 0 5 0-8 1 5 0 4 0-11 1 10 0-9 1 8 0-6 2-2 1 8 1-6 1 3 1-2 1-3 1-1 1 0 1 7 0-6 2 4 2 1 3-1 2-2 3-4 1 27 2-13-12 3-1 4-10-7-3 2 0 6-2-8-2 1 0-1-1 0-1 3 0 3 0 2 0-2-1 1 0 4-2-6-1 2 0 3 0 1-1-8-1 7-1-7-1 3 0 2 0-5-1 5 0 3 0-8-1 4 0-6-1 4 0 7 0 1 0-4-1-6-1 3 0 2-2-2-1 1 0 6 0-13-1 1 0 4 0 5-1 1-1 2 0-12-1 3 0 3 0 4 0-7-1 9 0-13-1 7 0 2 0-7-1 3-1 4 0 2 0-11-1 6 0 4 0-10-1 12 0-10-1 5 0 5 0-11-1 2 0 2 0 6 0-5-2 2 0 3 0-11-1 8 0-7-1 1 0 7 0 1 0-4-1-3-1 2 0 4 0-5-2 2 0 3 0-5-1 7 0-5-1 5 0 1 0-12-1 7 0 2 0-3-1 0-1 1 0 5-1-12-1 7-1 5 0-4-1 1-1-7-2 4 0 4 0 1 0-10-1 11-4 0-1-9-3 8-8 1 0-8-1 6-1 5-29 2 11 8 2 2 5-10 8 6 0 2 0-5 11 1 0 5 0-8 1 0 3 1 1 6 0-10 1 9 0 1 0 2 0-3 1-8 1 9 0 2 0-7 2 6 0-9 1-2 1 7 0-5 1 5 2-8 1 1 0 4 0 1 0 4 0 2 1 1 0-11 1 5 0-7 1 3 0 5 0 4 0-3 1 3 1 1 0-13 1 2 0 6 1-6 1 8 0-4 1-6 1 2 0 2 0 1 1 6 0-5 1-6 1 6 0 7 0-4 1 1 0-8 1 4 0 2 0-7 1 3 0 1 0-3 1 4 0 5 1 1 0-3 1 2 0-8 1 1 0 6 0-5 1 8 0-9 1 6 0-1 1-7 2 5 0-7 2 3 0 10 0-12 2 3 0 9 0-6 1-2 4-2 1 7 0-8 5 5 2-6 4 0 3 3 4 10 1 0-11 1-14-1-4 0-1 4 0-4-1 0-4 4 0-1-3 1 0 0-2-3-1 5-1-1-1 8-1-2-1-9-1 10 0-1-1-6-3-4-1-1-1 3 0 1 0 2 0 4 0-7-1 1 0 9 0-8-1 7-1-1-1-10-1 5-1 7-1-12-1 7 0 2 0-1-1 1 0-7-1-3-3 6 0-5-1 5 0 6 0-12-1 4 0 1 0 5 0 2-1-8-1 7-1-1-1-5-1-5-2 4 0 3 0 6 0-9-1 1-4-5-5 7 0 4-3-9-5-2-7 17 2-3 6 13 0-6 3 4 1-10 1 12 1-9 1-1 4 5 0 3 0-2 2-7 1 7 0-9 1 9 1 1 0-5 1 3 0 4 0-12 1 9 1 2 0-9 1 10 1-10 2-1 1 6 0 5 0-12 1 4 0 7 0-8 1 2 0-1 1 5 0 1 0-9 1 7 1-8 1 1 0-1 1 7 1-1 1 3 0-8 1 3 0 9 2-2 3-8 1-3 4 0 1 1 0 12 1-4 1 1 0-9 1 0 1 0 5-1 4 6 0-5 6 21-20-8-11 4-2-4-3 2-1 10 0-11-6 5 0-4-5-2-5 6-1-5-1 0-1 11-1-9-2 9-3 0-5 6-27 6 23-10 3 13 0-9 1 3 1-4 1 8 13 7-5 3-17"/></g><line x1="31.0" y1="152.3" x2="176.0" y2="14.8" stroke="#1a1a1a" stroke-width="1.15" stroke-dasharray="4.5 3.8" stroke-dashoffset="0.7"/><rect x="31.0" y="14.8" width="145.0" height="137.5" fill="none" stroke="#4d4d4d" stroke-width="1.1"/><path d="M31.0 152.3v2.4M31.0 152.3h-2.4M43.1 152.3v1.4M31.0 140.8h-1.4M55.2 152.3v2.4M31.0 129.4h-2.4M67.2 152.3v1.4M31.0 117.9h-1.4M79.3 152.3v2.4M31.0 106.5h-2.4M91.4 152.3v1.4M31.0 95.0h-1.4M103.5 152.3v2.4M31.0 83.6h-2.4M115.6 152.3v1.4M31.0 72.1h-1.4M127.7 152.3v2.4M31.0 60.6h-2.4M139.8 152.3v1.4M31.0 49.2h-1.4M151.8 152.3v2.4M31.0 37.7h-2.4M163.9 152.3v1.4M31.0 26.3h-1.4" stroke="#3a3a3a" stroke-width="0.9" fill="none"/><text class="t" x="31.0" y="163" text-anchor="middle">0</text><text class="t" x="27.3" y="155.3" text-anchor="end">0</text><text class="t" x="55.2" y="163" text-anchor="middle">2</text><text class="t" x="27.3" y="132.4" text-anchor="end">2</text><text class="t" x="79.3" y="163" text-anchor="middle">4</text><text class="t" x="27.3" y="109.5" text-anchor="end">4</text><text class="t" x="103.5" y="163" text-anchor="middle">6</text><text class="t" x="27.3" y="86.6" text-anchor="end">6</text><text class="t" x="127.7" y="163" text-anchor="middle">8</text><text class="t" x="27.3" y="63.6" text-anchor="end">8</text><text class="t" x="151.8" y="163" text-anchor="middle">10</text><text class="t" x="27.3" y="40.7" text-anchor="end">10</text><text class="l" x="52.4" y="178.9">Measured ET<tspan font-size="7" dy="2.7">0</tspan><tspan dy="-2.7"> (mm/d)</tspan></text><text class="l" transform="translate(14.9,137.0) rotate(-90)" x="0" y="0">Estimated ET<tspan font-size="7" dy="2.7">0</tspan><tspan dy="-2.7"> (mm/d)</tspan></text><text x="50.5" y="32.8" font-size="11" stroke="#111" stroke-width="0.3">53,772</text><text x="86.6" y="32.8" font-size="11" class="b" stroke="#111" stroke-width="0.25">4</text><circle cx="134.4" cy="115.9" r="1.25" fill="none" stroke="#5a5a5a" stroke-width="1.20"/><text class="g" x="145.9" y="118.6">CLDAS</text><circle cx="134.4" cy="126.2" r="1.25" fill="none" stroke="#f24a4a" stroke-width="1.20"/><text class="g" x="145.9" y="128.9">GPR</text><circle cx="134.4" cy="136.6" r="1.25" fill="none" stroke="#1a73e8" stroke-width="1.20"/><text class="g" x="145.9" y="139.3">XGB</text></g><g transform="translate(343.0,0.0)"><g clip-path="url(#cp)" fill="none" stroke="none"><path transform="scale(.5)" marker-start="url(#Mk)" marker-mid="url(#Mk)" marker-end="url(#Mk)" d="M72 300l2 0 0-3 4 0-5-3 6-1 2 0-9-1 0-1 3 0 1 0-5-2 3 0 2 0-1-1 1-1-4-1 3 0 3 0-4-1 2 0 4 0 1 0 1 0-11-1 1 0 1 0 5 0 1 0-5-1 4 0 3 0 1 0-9-1 2 0 1 0 1 0 2 0 2 0 1 0-10-1 7 0 2 0-1-1 3 0-9-1 4 0 4 0-5-1 1-2 4 0-3-1 2 0 2 0-3-1 2 0-2-4 2-2 0-3-3-7 16-21 2 2-3 1 1 1-6 2 5 1-2 4 1 2 3 0-8 2 5 0-3 1 2 0 0 1 1 1 4 1-3 1 1 1-6 1 6 0-6 3 8 0-10 1 1 0 1 0 4 0-1 1 5 0-13 1 8 0-6 1 5 0 1 0 2 0-3 1 3 0 1 0 1 0-6 1-1 1 1 0 3 0 1 0-8 1 3 0 4 0 2 0 2 0-12 1 1 0 1 0 1 0 1 0 1 0 1 0-4 1 1 0 3 0 6 0-11 1 1 0-3 1 0 2 4 0 3 0-6 1 11 0 1 0-8 1 1 0-3 1-1 1 9 1-11 2 3 0-2 1 1 0 4 2 3 0-7 3 1 1-3 1 2 0 6 3 9-1 0-11 8-1-10-7 2 0 4 0 6 0-13-2 3 0-3-1 8-2 2 0 2-1-10-1 10 0-11-1 5-1-2-3 3 0-2-1 8 0-12-1 3 0-4-1 9 0-7-1 8 0 1 0-11-1 3 0 2 0 4 0-5-1 4 0-3-1 1 0-6-1 2 0 4 0 4 0-7-1 2 0 2 0 2 0-8-1 9 0-10-1 9 0 1 0-10-2 8 0 2-1 1 0-10-1 10-1-4-1 1 0 0-1 5 0-1-1 1 0-5-1 0-2-1-1-6-1 2-1 8-1-7-1 8 0-6-1 7 0-8-3 2 0 2 0-8-1 8-4 4 0-11-7 10-15 13-11 0 7 1 12 1 2-9 2 7 3 1 0-1 1 1 1-1 1 1 0-10 1 5 0-3 1 4 1 3 0-6 1-1 3 7 1 2 0-7 1-2 2 3 0 1 0 4 0-2 3-7 1 8 1-5 2 2 1 3 0-11 1 5 0 3 0 4 1-2 1 0 1-6 1 3 0 1 0 3 0-5 1 3 0 1 0 1 0-2 2-1 1-6 1-2 1 2 0 3 1 8 0-11 2 9 0-4 1 4 0-10 1 9 0-2 1-5 1 4 0-5 1 3 0-4 1 3 1-2 2 8 0-3 2-6 5 1 0 3 1-2 7 23-15-8-2-2-3 3-2-3-3 2 0-3-2-1-3 8 0 2-1 1 0 1 0-6-2 4 0 1 0-8-1 6 0-4-2 7 0-8-3 4 0-4-1-1-3 0-1 1 0 2 0-6-2 12 0-12-1 6-1-6-1 3-1 9 0-8-1 4 0 4 0-9-1 5 0-8-3 2 0 4 0-3-2 4 0 1 0 5 0 0-1-13-2 1-1 5 0 3 0 2 0-3-1 0-1 3 0-3-1-5-2 6 0 0-1-7-1 5-1 0-2 0-1-7-3 6 0 2-2-4-2-1-2 7-1 1 0-2-1 2-2-4-1-3-5 5-4-1-26 18 14-6 10-3 4 7 10 0 2 0 1 2 0-7 1 7 1-11 1 7 0-3 1 6 0-6 3-4 1 3 0 2 0 3 0-9 1 5 0 2 2 1 0 0 1 1 1-7 1 2 0 6 0-9 1 3 0 4 1-8 1 3 1 1 0 4 0-2 1-2 2 2 0 2 0-4 1 2 1 3 0-5 1-2 1 2 0-1 1 2 0 2 0 1 0 5 0-7 1-1 1 7 0-11 1 4 1 1 0 5 0 2 0 0 1-7 2 2 0-7 1 5 0 1 0 1 1-8 1 2 0 3 0 1 0 6 1-12 1 4 0-4 1 1 1-1 2 6 1 5 1-7 2 7 2-11 2 5 0 0 3-4 3 10 1 1 9 2-8 3-13 9 0-6-3 0-1-3-1 4 0-7-4 1 0 6 0-1-1 7-1-4-5-9-2 4 0-2-1 7 0 2 0-10-1 2 0 3-1 2 0 4 0-9-1 2 0 6 0 2 0-9-1 8 0-8-1 4 0 5 0-2-1-3-1-1-1-5-1 3 0 4 0-8-1 5-1 4 0-9-1 7 0 2 0-9-1 1 0 9 0-6-1 3 0 3 0-6-1 2 0-3-1-1-1 7 0 1 0-11-1 1 0 6 0 4 0-7-2 1 0 5 0-10-2 2 0 6 0-8-1 3-1 10-1-7-1-6-1 2 0-2-1 3 0 1 0 4 0 2-5 0-1-9-3 2 0 6 0-8-1 0-9 8 0-3-2 3-6 3 0-12-8 18-1 4 3 1 0 1 1-8 3 4 9-6 3 8 0 1 0-1 2 1 0-3 1 0 1 7 1-13 3 10 0-10 1 3 1 7 0-9 3 11 0-9 1 8 0-8 1 5 1 5 0-10 2 1 1 6 0-8 1 3 1 1 0 4 0 1 0-5 1 3 1 3 1-6 1 4 1-10 2 9 0-9 1 2 0 5 0-7 2 1 0 1 0 6 0-2 1 4 0 2 0-10 1-2 1 1 0 5 0 1 0 2 0 2 0-11 1 4 0 6 0-5 4 1 0-6 1 6 1-5 1 2 0 5 2-3 3-5 1 7 1 5 0 1 3-9 4-4 1 5 0 14-15-5-5 6-9 3-4-7-1 1-1 6 0-8-2 6-2 3-5-8-1 6 0 1 0 4-1-8-2 1 0 2 0-4-1 7 0-4-1 4-1-2-2 2-1-7-1 5 0 3 0-1-1-8-2-1-1 7 0-1-1-8-2 2 0 8 0 2-1-7-1 3 0 5 0-12-1 5-1 3-3-2-2 5 0-1-3-2-5-4-1-5-13 16 5 11 1-5 7-3 7 2 0 3 2-9 2 0 1 1 0 1 0 2 3 1 0-3 1 3 0-2 2-3 1 1 1 2 0-2 1-1 3 5 1 4 3 0 3-4 4-2 3-1 20 16-39 2-1-6-1 0-7 20-8-5 5 20-11 3-14"/><path transform="scale(.5)" marker-start="url(#Mr)" marker-mid="url(#Mr)" marker-end="url(#Mr)" d="M71 289l2-1 1 0 9 0-8-1-2-1 1 0 3 0 5 0-11-1 6 0 3 0 2 0-7-1 1 0 2 0-8-1 6 0 1 0 2 0 1 0-7-1 1 0 2 0 3 0 2 0 2 0-12-1 4 0 2 0 1 0 1 0 2 0 2 0-9-1 2 0 1 0 1 0 1 0 1 0 1 0 1 0 1 0-4-1 1 0 1 0 1 0-1-1 1 0-8-1 7 0-5-1 2 0-1-1 1 0 3 0 1 0 1 0-7-1 3 0 4 0-4-1 4-1-3-1 1-2-3-1 5-5 13-10-5 1 4 1 1 1 1 0 0 2-3 1-5 1 7 0 1 0-3 1 3 0-8 1 2 0 2 0 1 0 1 0 2 0-9 1 7 0 1 0-10 1 6 0 2 0 1 0 1 0-12 1 1 0 4 0 4 0 3 0-11 1 2 0 2 0 1 0 3 0 1 0 1 0 2 0-5 1 1 0 2 0 2 0-3 1 1 0-10 1 2 0-2 1 3 0 3 0 5 0-12 1 1 0 1 0 2 0-4 1 1 0 1 0 1 0 3 0 1 0 5 0 1 0-12 1 9 0-10 1 2 0 1 0 4 0 5 0-10 1 1 0 1 0 3 0-4 1-1 1-2 1 1 0 2 0 6 0 1 1-10 1 4 0 4 0 1 0-3 1-3 1 8 6 11 0-8-7 2-6-2-2 3 0 5-1-2-1 4 0 3 0-4-1-5-2-4-1 1 0 3 0 4 0-7-1 6 0 1 0 1 0-6-1 10 0-13-1 5 0 5 0 1 0-11-1 2 0 1 0 5 0 2 0 1 0-10-1 1 0 2 0 5-1-9-1 2 0 2 0 2 0 2 0 2 0-9-1 5 0 2 0-4-1-3-1 4 0-4-1 8 0 3 0-5-1 3 0-9-1 1 0 1 0 7 0-9-1 2 0 1 0 1 0 4 0 1 0 2 0-10-1 7 0 1 0-4-1 4 0 3 0-11-1 8-1-8-1 6 0 3 0 0-2 1 0-7-1 8-1-5-1 3 0-4-1 6-1-4-2 2 0-2-4 1-1 15-15-3 2-3 1 5 1-7 3 4 0-6 2 1 0 9 0-4 1 1 0 1 1-1 1-8 1 4 0 5 2-8 1 2 0 1 0 7 0 1 0 1 0-7 1-2 2 2 0 3 0 3 0-6 1 5 0-5 2 6 0 1 0-2 1-10 1 5 0 1 1 2 0 1 0-7 1 2 0 8 0-5 1 2 0-7 1 7 0-7 1 5 0 4 0-10 1 1 0 5 0-6 1 7 0-3 1 6 0-11 1 4 0 1 0 3 0 4 0-12 1 1 0 2 0 3 1-6 1 1 0 3 0 1 0 6 0 1 0-11 1-2 1 2 1 5 0 0 1 1 0-6 2 2 0 2 0-5 1 1 0-1 1 4 0 6 1-10 1 0 2 10 3-10 1 3 3-3 1 6 20 15-28-5-4 6-3-9-2 5 0 1-1-5-1 5 0 3 0-9-1 1-1 4 0-4-3 0-2 6 0-7-1 7 0-4-1 2 0 3 0 2 0-10-1 3 0 2 0-5-1 4 0 1 0 3 0-8-1 2 0 6 0-8-1 3 0 4 0 1 0-8-1 2 0 2 0 1 0-4-1 2 0 2 0 4-1 1 0-10-1 2 0 2-1 6 0-9-1 2 0 4 0-5-1 3 0-5-1 7 0 2 0 3 0-7-1 2 0 5 0-10-1 1 0 2 0-4-1 3 0 1 0 1 0 1 0 1 0-8-1 9-1-7-1 6 0-4-1 3 0 2 0 2 0-5-1 2 0-6-1 2 0 5 0-3-2 2 0 1 0 4 0-8-2-5-1 9 0-4-2 7-1 1 0-12-1 10-1 1-2 1-1-5-1 5-4-8-1 3 0 17-8 2 3-5 2-1 2 3 0-10 3 10 0 3 0-12 1 2 0 7 0-10 3 6 0 3 0 4 0 0 1-1 1 1 0-13 1 5 1 3 0-1 1 2 0 3 0-6 1 1 0 4 0 1 0-10 1 3 0 2 0 2 0 3 1 1 0-11 1-1 1 3 0 1 0 1 0 2 0 3 0 2 0-13 1 3 0 7 0 3 0-12 1 1 0 5 0 1 0-6 1 6 0 1 0 1 0-5 1 8 0-8 1 1 0 1 0 2 0 2 0-10 1 6 0 6 1-12 1 4 0 2 0 2 0-6 1 5 0 1 0-6 1 2 0 3 0 5 0-13 1 1 0 5 1-6 2 11 2 2 0-13 2 9 0-5 1 8 1-9 1 7 2-5 3-4 9 14 3 1-2 10-17-12-6 7 0-5-1 1 0 1-3-3-1 3 0-4-1 8 0-8-1 3-1 0-3 2-1 5-1-6-1 1 0 7 0-10-1 1 0 6-1-6-1 0-1 1 0 2 0 2 0-5-1-2-1 2 0 7 0 3 0-13-1 10 0 2 0-10-1 4 0 1 0 2 0 2 0-8-1 1 0 9 0-6-1-7-1 3 0 4 0-1-1 3 0 1 0-9-1 10 0 2 0-11-1 2 0 1 0 2 0 3 0 1 0 2 0-11-1 1 0 2 0 3 0-8-1 3 0-2-1 5 0 6-1 1 0-3-1-4-1 4 0 1 0 1 0-8-1 4 0 3-1 1 0 0-1-1-1 1 0-2-1-5-2 8 0-11-3 8 0 1 0 1 0-3-1-4-1 5 0 3-1-4-5 14-27 4 12-6 7-5 2 8 3 2 0-7 1 5 0-5 1 1 0 7 1-4 1-5 1-1 1 4 0-3 1 8 0-11 2 2 0 8 0 1 0-10 1 2 0 5 0-9 1 1 0 3 0-4 1 10 0 2 0 1 0-11 1 6 0 1 0-9 1 4 0 3 0 3 0 2 0-7 1 4 0 3 0-11 1 11 0-12 1 13 1-13 1 4 0 5 0-2 1-4 1 4 0 0 1-7 1 2 0 2 0 4 0-7 1 1 1 1 0 2 0 4 0 1 0-9 1 4 0 2 0 1 0 5 0-7 1 1 0 4 0-11 1 11 0-11 3 1 0 5 1-4 1-1 1 1 0 2 0-4 1 3 0-1 5 1 0-3 4 4 1 0 5 10-21 10-5-3-1-7-4 1 0-1-1 2-1 3 0 1-2-6-1 3 0 2 0 1-2 3-1 3 0-8-1 1 0 5 0-5-1 8 0-11-1 4-2 7 0-12-1 5 0 1 0 1 0 4 0-12-1 3 0 3 0-6-1 12 0-4-1 2 0 2 0-9-1 7 0-9-1 3 0 7 0-7-2 1-1-4-1 2 0 1 0 3 0 4 0 1 0-5-2 0-1 5 0 1 0-4-1-2-1 1 0 5-1-4-1 1-1 2-1 14-7-2 2-6 2 4 3-3 3 6 0-11 1 2 0 0 1 6 1-8 2 6 0 3 0 3 1-8 2 4 0-2 2-4 1-2 1 6 1-5 1 4 1-4 1 1 0 2 0-3 3 2 0-2 1 15-17 6-3-7-3 11-5 14-11-5 3-7 5 8 0-5 1-2 12 14-12 6-24 2-2"/><path transform="scale(.5)" marker-start="url(#Mb)" marker-mid="url(#Mb)" marker-end="url(#Mb)" d="M69 290l5 8 3 0-3-1 1 0-4-2 1 0 5 0-3-1 4 0-5-1 3 0 6 0-9-1 3 0 2 0 2 0 3 0-10-1 4 0 2 0 1 0-8-1 1 0 1 0 5 0 4 0-8-1 1 0 1 0 1 0 1 0 2 0-8-1 3 0 2 0 1 0 3 0 1 0-10-1 2 0 1 0 1 0 6 0-13-1 6 0 3 0 1 0 3 0-8-1 5 0 1 0 2 0-6-1 2 0 2 0-5-2 1 0 2 0 1 0-1-1 3 0 1 0-7-1 1 0 5 0-1-1-1-1 1 0 1 0 1-1-1-1 1 0-4-1 0-1 2-1 1 0-3-1 4-2 0-1 10-18-1 5 3 0 1 0 1 2-4 1 4 0-3 1 1 0 0 1-7 1 4 0 5 0-8 1 1 0 2 0 1 1 3 0-8 1 4 0 1 0 4 0-8 1 1 0 1 0 2 0-9 1 4 0 7 0-7 1 6 0-2 1 4 0-11 1 6 0 1 0 4 0 1 0-12 1 2 0 6 0-6 1 2 0 4 0 3 0-2 1 2 0-7 1 3 0 5 0-13 1 2 0 3 0-5 1 2 0 1 0 2 0 2 0 1 0 1 0 3 0-10 1 5 0 1 0 2 0 2 0-11 1 4 0 1 0 1 0 1 0 1 0-6 1 4 0 5 0-10 1 1 0 1 0 6 0-10 1 1 0 5 0-6 1 2 0 2 0 1 0 1 0 1 0 5 0-9 1 2 0 2 0 1 0-7 1 2 0 2 0-5 1 5 0 5 0-5 1 7 0 1 0-11 1 1 0 1 0 6 0-10 1 0 1 3 0 1 0 4 0-8 1 1 0 3 0-4 1 1 0 7 0 3 0-9 6 20-4 5-1-8-2-1-5 2-3 3-1-6-1 4 0-4-1 0-1 2 0 1 0 2 0-1-2 3-1-9-1 8 0 4 0-4-1 1 0-7-1 1 0 1 0 8 0-9-1 7 0 2 0-13-1 5 0 4 0 4 0-12-1 2 0 8 0-11-1 1 0 1 0 2 0 1 0 2 0 2 0-9-1 1 0 2 0 2 0 2 0 3 0-10-1 3 0 1 0 5 0-6-1 3 0 1 0 6 0-11-1 3 0 3 0-7-1 3 0 5 0 1 0 3 0-12-1 2 0 3 0 1 0 1 0 1 0 2 0-11-1 6 0 6 0-8-1 2 0 1 0 1 0 2 0 1 0-7-1 6 0 3 0-1-1-12-1 2 0 1-1 3 0 2 0 2 0 2 0-8-1 4 0 1 0-7-1 7 0 2 0-10-1 3 0-3-1 3 0 3 0 6 0-7-1 1 0 3 0-10-1 4 0-2-1 1 0 2 0 2 0 1-1-2-1 6-2-3-1-3-1 7-1-9-2 4-1 1 0 3 0-7-2 2-1 1-6 5-1 7-11 5 2-3 4-4 1 2 0 6 4-12 1 7 0 2 0 2 0-7 1 4 0 4 0-11 1 4 1 5 0 1 0 2 0-8 1 1 0 4 0 1 1-3 1 3 0-10 1 4 0-2 1 2 0 4 0 1 0 3 0-4 1-7 1 6 0 2 0 2 0 1 0-13 1 1 1 1 0 2 0 6 0 3 0-12 1 5 0 1 0 4 0-6 1 5 0 3 0-13 1 4 0 3 0-4 1 10 0-12 1 2 0 8 0-8 1 2 0 3 0 1 0 1 0 3 0-10 1 4 0 5 0-4 1 2 0-7 1 4 0 1 0 3 0-4 1-5 1 3 0 3 0-6 1 1 1 2 0 2 0 1 0-6 1 2 0 2 1 7 0-11 1 3 0-5 1 3 0 7 1-9 1 1 0 4 0 1 0-7 1 3 0 1 0-3 1 2 0 5 0 1 0-8 1 9 0-9 1 2 0 8 1-11 1 10 0-10 2 1 2 4 0 1 1 1 0 5 0-12 2 2 1 7 1 0 7 16-5-11-2 8-7 5 0-11-1 4 0-6-3 1-1 12-1-12-1 0-1 5-2-2-2 1 0 4 0 4-1-7-1 1 0 5-1-8-1-4-1 8 0-8-1 6 0-5-1 5 0 4 0 3 0-11-1 1-1 1 0 2 0-4-1 3 0 1 0 1 0 1 0-7-1 2 0 7 0 1 0-9-1 4 0 2 0 5 0-8-2 3 0 1 0 4 0-6-1 1 0 3 0-8-1 2 0 1 0 5 0-4-1 2 0 3 0-7-1 3 0 4 0-2-2-6-2 3 0 2 0 1 0-7-1 3 0 1 0 2 0 1 0-8-1 1 0 2 0 5 0 1 0 1-1-8-1 6 0-10-2 5 0 5 0-2-1 4 0 1 0-1-1 1 0-12-1 6 0 6 0-7-1-6-1 12 0-3-1 2 0 2 0-5-2 3 0 2 0-10-2 7 0 1 0-9-1 0-1 11-1-11-1 7 0 3 0 1-2-7-1 7 0-11-2 25-29-1 4 1 3-8 2 8 6-13 1 13 1-5 1 3 2-11 2 12 0-3 2-5 2 5 0 3 0 0 2-4 1 5 0-9 1 3 0 2 0-6 1 9 0-4 1-3 1 6 0-9 1 2 0 2 0 5 0-9 1 2 0 1 0 2 0-7 1 1 0 11 0-4 1-2 1 2 0 2 0-10 1 4 0 8 0-11 1 2 0 2 0 7 0-7 1 5 0 3 0-12 1 4 0 2 0 2 0 3 0-9 1 5 0 1 0 2 0 2 0-4 1-6 1 3 0 1 0 2 0-3 1-6 1 1 0 3 0 5 0 2 0-8 1 4 0 2 0 1 0 2 0 1 0-9 1 2 0 3 0 3 0-9 1 1 0 4 0 4 0-11 1 6 0 2 0 3 0-10 1 3 0 1 0 2 0 1 0-5 1 3 0 5 0-12 1 8 0-7 2 2 0 2 0 0 1 3 1 2 0-3 1 6 0-12 1 0 2 7 0 1 1-3 2-6 3 7 0-2 1-2 8 10 1 4 0 6-7 1-3-10-1 6-1-6-3 0-4 4-3 4 0-3-1-5-3 2-1 5 0-4-1 2 0-5-1 0-1 6 0 4 0-7-1 7 0 1 0-8-1 1-2 7 0-9-1 5-1 5 0-11-1 2 0 2 0-5-1 1 0 2 0 1 0 1 0 1 0 1 0-6-1 7 0 1 0-9-1 6 0 1 0 1 0-2-1-6-1 5 0 8 0-4-1-6-1 1 0 2 0 4 0 2 0-12-1 2 0 4 0 4 0 0-1-5-1 1 0-4-1 4 0 3 0 2 0-10-1 2 0 9 0-5-1 1 0 4 0 1 0-9-1-2-1 2 0 1 0 5 0 1 0-5-1 4 0-2-1 3-1-11-1 2 0 4 0 2 0 2 0 2 0-12-1 1 0 3 0 1-1 6 0-11-1 6 0 5 0 1 0-5-1 6 0-1-1-2-1-3-3 3 0-5-1 6 0 2 0-8-3 0-1 7 0-8-1 8 0 0-1-4-2 5-1-8-2 8-1 9-20 5 7-11 5 5 2-1 2 1 0-6 1 3 0 8 0 1 0-13 1 2 2 1 0 8 0-11 1 13 0-9 3 4 0 3 0-1 1-10 1 0 1 3 0 2 0 7 0-7 1-3 1 3 0 2 0 1 0 1 0 2 0 2 0-6 1 4 0 2 0-8 1 2 0 4 0-10 1 6 0 3 0 3 0-11 1 9 0-11 1 2 0 2 0 3 0 5 0-11 1 2 0 2 0 5 0 1 0 1 0-2 1-10 1 3 0 5 0 2 0 3 0-13 1 11 0 0 1 2 0-12 1 3 0 3 0-4 1 2 0-5 1 5 0 3 0-6 1 11 0-13 1 6 0-5 1 1 0 2 0 7 0-11 1 12 0-12 1 1 0 3 0 1 0 8 0-10 1 2 0 1 0-4 1 5 0-6 1-1 1 7 0-5 1 1 0 9 0-10 1 1 0 3 0 6 0-11 1 2 0 5 1-6 1-2 1 12 0-4 1-6 4 1 0 1 0 1 7 13-4-4-15 2-3-2-4 8 0-4-1 1 0 5 0-3-3-7-1 3 0-3-1 3 0 3 0 6 0 1 0-12-1 3 0-2-1 2-2 4 0-2-1 2 0 5 0-12-1 2 0 3 0-2-1-1-1 2 0-4-1 2 0 4 0 5 0-11-1 2 0 5 0 1 0-5-1 2 0 2 0 3 0-3-1-4-1 8 0-9-1 6 0 2 0 1 0-1-1 2 0-7-1 5-2 1 0 1-1-5-1-2-1 5 0 2 0-5-1 2 0 2 0-2-1-9-1 9 0-1-1 3-1-2-1-8-1 9-2-10-1 6 0-2-1 1-3 1-7 13-3-4 6 0 1 11 1-7 2-5 1 0 1 8 0 3 0-5 1-7 1 1 0 6 1 2 0-1 1 3 0-9 1 2 0-2 1 3 0 4 2-4 2 7 0-11 1 2 0 2 0 1 1-6 1 3 0-2 2-1 1 1 0 7 1 5 0-13 1 1 0 5 0-3 2 4 1-7 1 3 0 1 0 0 2-4 3 1 0 1 9 12-26 4-2-4-4 7-1 1-1 3-16 9 5-1 1-5 12 15-24 9-2"/></g><line x1="31.0" y1="152.3" x2="176.0" y2="14.8" stroke="#1a1a1a" stroke-width="1.15" stroke-dasharray="4.5 3.8" stroke-dashoffset="0.7"/><rect x="31.0" y="14.8" width="145.0" height="137.5" fill="none" stroke="#4d4d4d" stroke-width="1.1"/><path d="M31.0 152.3v2.4M31.0 152.3h-2.4M43.1 152.3v1.4M31.0 140.8h-1.4M55.2 152.3v2.4M31.0 129.4h-2.4M67.2 152.3v1.4M31.0 117.9h-1.4M79.3 152.3v2.4M31.0 106.5h-2.4M91.4 152.3v1.4M31.0 95.0h-1.4M103.5 152.3v2.4M31.0 83.6h-2.4M115.6 152.3v1.4M31.0 72.1h-1.4M127.7 152.3v2.4M31.0 60.6h-2.4M139.8 152.3v1.4M31.0 49.2h-1.4M151.8 152.3v2.4M31.0 37.7h-2.4M163.9 152.3v1.4M31.0 26.3h-1.4" stroke="#3a3a3a" stroke-width="0.9" fill="none"/><text class="t" x="31.0" y="163" text-anchor="middle">0</text><text class="t" x="27.3" y="155.3" text-anchor="end">0</text><text class="t" x="55.2" y="163" text-anchor="middle">2</text><text class="t" x="27.3" y="132.4" text-anchor="end">2</text><text class="t" x="79.3" y="163" text-anchor="middle">4</text><text class="t" x="27.3" y="109.5" text-anchor="end">4</text><text class="t" x="103.5" y="163" text-anchor="middle">6</text><text class="t" x="27.3" y="86.6" text-anchor="end">6</text><text class="t" x="127.7" y="163" text-anchor="middle">8</text><text class="t" x="27.3" y="63.6" text-anchor="end">8</text><text class="t" x="151.8" y="163" text-anchor="middle">10</text><text class="t" x="27.3" y="40.7" text-anchor="end">10</text><text class="l" x="52.4" y="178.9">Measured ET<tspan font-size="7" dy="2.7">0</tspan><tspan dy="-2.7"> (mm/d)</tspan></text><text class="l" transform="translate(14.9,137.0) rotate(-90)" x="0" y="0">Estimated ET<tspan font-size="7" dy="2.7">0</tspan><tspan dy="-2.7"> (mm/d)</tspan></text><text x="50.5" y="32.8" font-size="11" stroke="#111" stroke-width="0.3">56,778</text><text x="86.6" y="32.8" font-size="11" class="b" stroke="#111" stroke-width="0.25">4</text><circle cx="134.4" cy="115.9" r="1.25" fill="none" stroke="#5a5a5a" stroke-width="1.20"/><text class="g" x="145.9" y="118.6">CLDAS</text><circle cx="134.4" cy="126.2" r="1.25" fill="none" stroke="#f24a4a" stroke-width="1.20"/><text class="g" x="145.9" y="128.9">GPR</text><circle cx="134.4" cy="136.6" r="1.25" fill="none" stroke="#1a73e8" stroke-width="1.20"/><text class="g" x="145.9" y="139.3">XGB</text></g><g transform="translate(0.0,176.8)"><g clip-path="url(#cp)" fill="none" stroke="none"><path transform="scale(.5)" marker-start="url(#Mk)" marker-mid="url(#Mk)" marker-end="url(#Mk)" d="M69 294l-4 3 4 0 0 1-5 3 6 0 2-3 0-3 0-1 8 0-8-1 3 0 4 0 3 0-4-1-5-1 4 0 2 0-3-1-1-1 1 0 5 0-7-1 2 0 1 0 5-1 1 0-5-1 2 0 2 0-2-1-2-1 4 0-2-1 2-3 1-1-7-1 5-2 16-17-1 2 1 1 0 3-6 2 5 1 0 1 1 0-7 1 3 0 2 0-4 1 1 0 2 0 3 1-10 1 3 0 1 0 1 0 5 0-5 1 1 0 4 0-12 1 5 0 4 0-7 1 10 0-10 1 10 0-13 1 5 0-5 2 2 0 4 0 4 0-10 1 5 0 1 0 2 0 5 0-7 1 5 0-8 1 3 0 0 1-6 1 1 0 2 0-2 1 1 2 8 6 4-9 1-8 4-1 1-2-5-1 3-4 2-1 1 0 1 0-5-2 4 0 1 0 0-1 0-1-1-1 2 0-3-1 0-1 2 0 1 0-4-1 1 0-2-2-4-1 1 0 11 0-7-1-2-1 5-1 1 0 2-1-3-1-4-6 18-16 5 2-3 2-2 2 2 0 0 1 1 1 0 2 2 0-11 1-1 1 8 0-4 1 3 3-6 2 1 1 4 0 1 0 2 0 1 1 1 0 1 1-2 1-7 1 1 0-5 2 1 0 11 2-9 1 1 0 9 1-4 1 2 0-9 1 1 0 10 0-6 1-4 1 1 0-2 1 9 1-10 1 4 0 1 3 7 0-3 4-2 3 9-13 4 0 1-1-2-1 5 0-8-1 0-1 6 0-9-2 2-1 7-1-9-1 1-3 5-1 1 0-7-2 6-2 1 0-4-1 4-1 1 0-1-1-5-3 9 0-6-2 8 0-9-1 1 0 7 0-2-2-3-1 0-2-7-4 12 0-8-1 8 0-8-2 6-1-9-5 6 0 1-1 5-4-8-1 8-4 12-34-8 26 6 1-7 2 8 2 1 1-10 4 6 5 2 0 2 0 2 0-1 1-11 3 0 4 7 0 1 0-5 1-3 1 7 0-7 1 4 0-4 4 9 1 1 1-9 4 0 1 1 0 4 0-1 6-3 2 10 0-12 1-1 5 8 0 1 10-5 4 12-17 2-4 3-4-6-2 3-3 1-2-3-2-1-1 11 0-4-1 2 0-8-1 3 0 1-1-2-1 4 0-5-4 1 0 3 0 2 0-6-1-1-1 3 0 5 0-4-3 6-2-9-1 9 0-10-6 0-3 5-2 4-2 1 0-9-1 3-1 7-1-10-1-2-2 4-2 3-2-3-3 4-3-4-5 5-14 12-4 0 2 1 12-2 4-5 1 7 2 3 1-1 2 2 5-11 3 4 1 6 0 1 0-2 2-10 1 4 1-5 2 8 3 3 0-11 1 3 1 4 4-7 1 10 0-7 1 7 1-3 1 2 2 2 0-7 1 1 0 3 0-3 2 4 1-6 3-1 2-2 4 13 1 0 3-13 1 2 0 4 8-6 2 2 21 25-28-3-13-7-1 3-1-5-2 6-2-6-1 4 0-3-4 6 0-8-1 2 0 3-1-5-3 2-1 6-1-4-1 3-2-4-1 3 0 5 0 1 0-7-1 7 0-12-2 13 0-3-1-2-1-8-1 4 0 7 0-11-1 9 0-1-2 4-1-11-4 2 0 3 0-2-1 0-1 4 0 0-1 5-1-12-1 12 0-1-2-10-3 6 0 4-3 1-5-9-4 9-4-5-1 3 0 2-3-7-4 14 7 2 2-3 2 7 0-6 3 1 0-5 2-2 1 2 0 9 3 2 1-5 1-7 1 1 1 1 1-2 1 4 0-3 1 7 1 1 0-1 3-3 4 3 0-4 1-5 1 2 2 2 0-4 1 12 0-4 1-7 2 12 0-13 2 2 1 10 2-11 1 10 0-11 8 14 3 2-6 0-4 6-1-5-4 4 0-4-1 6-3 2-5 1-1-9-3 10 0-8-2 5-1-9-1 5-2 4-1-2-1-3-1-5-1 10-2-10-3 9 0-3-1-5-1 1 0 0-2 10 0-9-1 2 0-1-2 4 0-4-2 8-1-12-1 9 0-6-2 2-3 2 0 5 0-4-3 2-4 0-1-3-16 11-4 1 4-3 1 3 1 2 7-3 1 8 0-6 4 4 3-8 3 11 0-2 1 2 0-9 1 1 0-1 1 1 2 2 0-6 3 9 0-5 1 8 1-5 1-4 1 0 2-3 2 5 1-5 1 5 0 4 3 3 0-11 1 0 3 10 0-2 2-10 2 5 0-2 10 10 0-13 9 19-9 4-6-7-1 7-17 0-1 1 0-6-2 3-1 0-3 5-1-5-2 3-3-4-1 7 0-8-2 7-2-11-2 2 0-1-1 9-4 1-1-10-3 5-1-6-1 9 0-5-3 8 0-2-3-1-6-10-1 20-10-4 10-2 11 5 7-2 6 2 12-1 1 0 3 3 10-7 1 10 4 4-27 9-1 4-17-5-7 18-33-7 11-1 31-1 22 15-36 4-21-1-2 16 19"/><path transform="scale(.5)" marker-start="url(#Mr)" marker-mid="url(#Mr)" marker-end="url(#Mr)" d="M67 290l4 1 0-3 3 0-3-1 3 0 0-1 2 0 1 0 5 0-9-1 4 0 1 0 2-1-7-1 2 0 2 0 4 0-5-1 3 0-3-2 4 0-4-1 4 0 1 0 1 0 0-2 1 0-1-1 1-4 13-15-1 1-2 1 1 1 2 2-4 1 3 0-1 1 3 0-4 1-7 1 7 0 3 0 1 0-1 1 0 1-7 1 1 0 4 0-7 1 8 0-8 1 2 0 4 0-9 1 4 0 2 0 1 0 1 0-4 1 7 0-11 1 3 0 1 0-3 1 1 0 1 0 3 0 1 0-7 1 3 1-2 1 2 0-3 1 1 0-1 4 14-8 11-1-4-3-5-3 3-4-3-1 4-1 2 0 3 0-8-1 4 0 3 0-7-1 8 0-8-1 2 0 6 0-8-1 9 0-11-1 6 0 1 0 1 0 0-1-7-1 7 0-8-2 1 0 3 0 1 0 1 0 4 0 1 0 0-1-3-1 2-1-2-1 3-3-1-1 0-1 2 0-4-5 11-20 4 7-2 1 4 0-7 1 3 2 4 0-7 1 8 0-3 1-8 2 9 0 2 0-7 2 4 0-6 1 8 0-8 1 4 1-5 1 8 0 1 1-10 1-1 1 4 0 1 0 5 0-8 1 5 0-2 1-6 1 3 0 1 0 4 0-8 1 4 2 6 0-7 1 1 0 4 1 3 0-11 2 5 0-3 1 5 0-7 1 4 3-4 2 25 8-10-6 1-7 7-2-1-1-2-3-2-1-4-2 1 0 8-2-7-1 4-2 3 0 2 0 1 0-7-1 0-1 7-1-2-1 3 0-10-1-2-1 3 0 3 0 1 0-1-1 1 0 2-1-4-1 6 0-9-2 2-1 1 0 1 0 1 0 5 0-6-1 2 0-2-1-1-1 0-1 5 0-9-1 10 0-6-1 3 0-4-1 6 0-5-1 2 0 3-1-8-2 1 0 5-7-3-2 7-2-3-1-1-11 17-7-4 2 2 3 1 7 0 3-6 1 1 0 4 0 2 1-4 2 2 0-3 2-6 1 3 0 9 0-10 1 1 0 2 0 7 0-6 2 4 1-8 3 3 0-1 1 5 2 1 1-10 1 5 0-3 1 2 2-4 1 6 0-3 1 4 0-4 1 5 1-8 1 8 0-3 7-6 2 10 1-6 1 1 2-5 1 0 1 11 4-8 6 5 15 18-23-6-8-2-8 7-3 1-1-12-4 9-2 4 0-11-2 4 0 3-1-2-1-5-1 1-3 2 0-3-1 1 0 6 0 2 0-11-2 4 0-4-1 0-1 8 0 2 0 3 0-13-1 4 0 5-2 1 0-7-1 5 0 3-1-7-1 2-1 6-1-5-1 4-1-11-1 8 0-2-1 6 0-6-4 1 0 5 0 0-2-2-4-6-2 4-1-4-8 9-1 13-10-2 2-2 6 5 0-13 1 1 2 8 2 3 1-3 1 2 1-2 1 4 0-13 1 2 2 9 0 0 2-10 1 8 1 1 1-10 1 12 1-12 1 1 1 10 0-1 1 2 0-11 1 10 0-10 1 2 0 2 0 0 1 1 1 3 3-9 1 5 0 4 0 1 0 3 0-5 1-8 1 9 0-1 1 5 0-13 2 8 0-7 3 8 1-3 1-4 2 7 0-9 2 0 2 19 16-3-14 6-5-6-7 0-3 3-1-5-8 3-2 6 0 0-1 4 0-3-1-7-1 7 0-8-3 2-1 0-2 8 0-1-1 1 0-8-3 5 0-6-1 1 0 6-1-9-1 8 0-7-1 8 0-10-1 8 0 2-1-1-2-5-2 5 0-4-1 6 0-9-1 3 0 2 0 5-1 1 0-8-4-2-1 1-2 6 0-8-6 8-3-3-5 7-17 7 9-3 6 8 4-2 1 3 1-4 3-5 1-3 1 12 3-11 1 3 1 1 1 2 0-8 1 11 0-4 2 3 0-8 1 7 0-7 1-1 1 1 0 0 1 3 1-2 1 2 0 3 1 5 0 0 1-10 1 2 0-2 2 3 1-6 2 10 2-9 1 3 3 2 0 3 0-1 1-8 1 11 2-8 5-3 2 6 0 5 0-9 1 4 0 0 1 12 15-1-22 10-2-10-3 2-3 6-1-7-4 7 0 1 0-9-1 3 0 2 0-5-2 7 0-2-1-8-3 1 0 10 0 2-2-12-3 7 0-5-1 5 0 2-1-9-1 9 0 2 0-8-2-3-1 1 0 1 0 0-1 4 0 6 0-8-1 6 0-8-2 3 0 3 0 4 0-8-3 8 0-6-1 4-3-4-1 6 0-11-1 5 0 5 0 0-5-7-2 0-2 4 0 0-10 3-4 6 4-1 1 0 3 7 3 0 4 3 0-12 1 9 1-6 1 6 1-3 2 4 0-2 1-5 1 4 0-4 1 6 0-9 2 5 1-4 1 2 0 0 1 1 0 2 1 2 1-8 1 2 0 5 0 3 0-3 1 1 1 4 2-7 1-4 1-1 2 3 0 2 0 4 0-10 2 13 2-1 2-11 3 9 0-9 1 0 4 11 1 12-17 3 0-10-2 2-1 0-2-3-1 2-3-3-1 5 0 1 0-6-1 10 0-11-1 9 0 3-1-10-2 1 0 2 0-1-1 2 0-2-1 9 0-11-1 8 0-9-1 1 0 0-1 6 0-8-1 8 0-8-1 2 0 8 0 3 0-12-1 10-1 2-1-12-1 6 0 4 0-11-1 2 0 1 0 8 0-11-2 10-4-4-1-2-1 8 0-4-1-1-1 3-2 3 0-9-3-1-26 14 19 7 0 1 0-11 3 2 1 5 1 3 3-10 5 1 6 1 1 2 2-1 1 4 0-6 5 5 1-5 1 3 2-3 7 1 0-1 1 6 0-5 1 7 7-8 8 19-29-6-5 8-2-3-6 3 0-5-3 6 0-3-1-2-6-3-3 4-2 4-4-7-1 23 13-5 4 2 0-4 9 4 10 18-8-10-5 6-1-4-2 0-10 20-35 2 11-3 16-4 25 2 0 12-6"/><path transform="scale(.5)" marker-start="url(#Mb)" marker-mid="url(#Mb)" marker-end="url(#Mb)" d="M69 291l-1 5 1 1-1 1-2 1 1 0 1 0-5 1 1 0 2 0 1 2 7-3 2 0-4-1 7-1-8-1 1 0 4 0 1 0-7-1 5 0-3-1-2-1 2 0 1 0 2 0-1-1 1 0 7 0-9-1 3 0 1 0 2 0 3 0 1 0-10-1 2 0 4 0 3 0-10-1 1 0 4 0 2 0 1 0 1 0-2-1 2 0-4-1 2 0 1 0-4-1 4 0 2 0-5-1 1 0 2 0 1 0 1 0 1 0-6-1 1 0 1 0 1 0 1 0-3-1 1 0 1 0 1-1 2 0-1-1 1 0-1-1 15-25 0 5-5 3 2 0 3 0-4 2 1 1 3 1-5 1 2 0 2 0-7 2 3 0 1 0 0 1 2 0-2 1 2 0-8 1 2 0 5 0 1 0 1 0 1 0-6 1 3 0-2 1 5 0-6 1 4 0-10 1 8 0-9 1 1 0 3 0 2 0 4 0-8 1 2 0-4 1 1 0 2 0-2 1 1 0 1 0 4 0 1 0-8 1 1 0 2 0 2 1 0 1 4 0-8 1-1 1 5 0-5 3 3 4 14-17 4 0-7-1 6 0-6-1 3-3 0-1-2-1 1 0 1 0-2-1 1 0 4 0-6-1 2 0 1-1 2 0 1 0 1 0-4-1 6 0 2 0-11-1 6 0 2 0 2 0 1 0-1-1-8-1 3 0 1 0 5 0-8-1 2 0 1 0 3 0 1 0 3 0-9-1 3 0 6 0-4-1-7-1 2 0-3-1 8 0 3 0-4-1 1 0 3 0-7-1 3 0-7-1 0-1 9 0 1-1 1 0-2-1 1 0-1-1-4-2 7 0-1-2 0-1-4-1 4 0-3-1-1-5 15-25 3 7-8 1 8 8-4 4 5 0-6 1 3 0 2 1-2 2-2 1 2 1 1 0-7 1 1 0 2 0 4 0-5 1 3 1 4 1-12 1 8 0-8 1 9 0-9 1 5 0 6 0-12 1 2 0 1 0 1 0 6 0-5 1 4 0-8 1 0 1 2 0 1 0 4 0 4 0-4 1 2 1 3 0-12 2 2 0-2 1 4 0 7 0-8 1 1 0-5 3 2 0 9 0-11 2 12 1-10 2 3 0-3 6 12-12 4-4-1-3 6-2-5-1 4 0 3 0-9-2-2-1 1 0 5 0 6 0-3-3 4 0-9-1 7 0-11-1 4 0 1 0 2 0-5-2 3 0 7 0-4-2 2 0-8-1 11 0-13-1 6 0 4 0 1 0-10-1 1 0 1 0 9 0 1 0-12-1 2 0 2 0-1-1 0-1 3-1 1 0 3 0-5-1 2 0 5 0-11-1 2 0 7 0 2-1-10-1 7-1-9-2-1-1 2 0 7-1 1 0 3 0-12-3 11-1 0-2-5-3 5-7 14-23-1 1 1 6-8 3 9 5-11 1 0 4 9 1-11 2 7 0 6 0-9 1-2 1 10 0-5 2 1 0 4 0-8 1-1 1 3 0-3 2 3 1 1 0-5 1 2 0 1 0 8 0-13 2 7 0 1 0 3 0-11 1 4 0 1 0 2 0 5 0-12 2 11 1-11 1 1 0 6 0 1 0 4 0-9 1 8 0 1 0-11 1 6 0 1 1-8 1 8 0 4 0-11 1 1 1 1 0 1 1 3 1-6 1 4 1 4 0-4 3-5 4 2 0 9 3 2 0-13 1 1 5 9 10 10 13-2-27 0-8-2-4-1-2 8-1-7-2 3-2 0-1 7 0-6-2 2 0-6-1 11-1-11-3 2 0 3 0-4-1 7 0-4-1 3 0-9-1 4 0 1-1 7 0-7-2 5 0-10-2 7 0 2 0 3 0-11-1 5-1 1-3 4-1-3-2 4 0-11-1 3-1 1 0 5 0-2-1 0-2-7-2 3-2 9-1-3-4-4-1-2-6 3-5 5-1-5-1-3-1 3-5 1-1 19-7-5 1 4 7-2 2-3 1 2 1-9 1 0 1 3 1 2 0 8 1-9 2 4 0 2 2 3 1-8 1 5 0-3 1 5 1-2 2-4 1 3 0-1 1-1 3 4 0-11 1 3 0 7 0-3 1 4 0-4 2 2 0-6 2 3 0 5 0 1 0-9 1 6 0 2 0-10 1-1 3 2 0 1 0 4 0-7 1 3 0 10 1-7 5-5 1 1 0 5 0-2 1-1 2 3 0-7 1 1 0 1 1-2 2 13 1-12 1 2 2 8 1 14 7-11-5 1-4-1-2 4-1-3-1-1-1 6-2-3-1-3-2 9 0-3-1-4-3 1 0 2 0 8-1-10-2-3-1 4-1 6-2-1-2-3-2-6-1 2 0 3 0-1-5-1-1 8 0 2-1-5-3-5-2 3-1 2 0 1 0-9-1 5 0-5-1 7 0-5-2 9 0-1-1 1-1 1 0 0-1 1 0-13-1 1 0 4-1-4-1 4 0 4-3 1 0 2 0-5-1 5-2-3-1 0-2 2 0-11-1 13 0-12-1 10-1-8-1 2-1-1-1 6 0 3-6-8-4 22-27 0 10-2 9 1 2-7 5 8 1-13 3 11 0-9 3 1 0 7 0-4 1 6 0-2 2-6 1 2 0 3 1-9 1 3 0 2 0 3 0-5 1 5 0-8 1 9 0 1 3 2 0-7 1 1 0 3 0-1 1 4 0-5 1 2 1 1 0 1 0-3 3 1 2-1 3-7 1 1 0 4 0 5 0 2 0-3 1-10 1 1 0 3 0 4 0 4 0-5 1 4 2-10 1 10 0-4 1 2 3 4 0 0 1-5 1 2 0-4 1 1 2 3 0-5 3 6 2-1 2 2 6-8 13-4 2 4 24 16-31-5-17 12-5-13-2 5 0 3 0-1-2 1 0-1-4-7-1 8-1-1-1 4 0-2-1 4-1-5-1 3-2-4-2 6-1-8-1 1 0 6 0-12-1 3 0 4 0-6-1-1-1 8 0 1 0 1 0-9-1 1 0 2-1 7 0 1 0-12-2 9 0 1 0 1-2 2 0-1-1-9-1 3 0 6-1-4-1 1 0 1-1 2 0-7-2 3 0 4 0 1 0-13-5 12 0-11-3 9-1 1 0-3-2-7-1 1 0 7 0-1-1 2 0-2-1-4-2 9-5-2-1 2 0-1-5-9-34 18 23 2 1 0 1-3 1-2 3 6 0-2 2-3 1 4 0 0 1-9 2 8 0 2 0 1 0-10 1-1 2 0 1 2 1 2 0 2 1 7 0-7 2 7 0-10 1 2 0 6 0-7 2 3 0 0 1 5 3-5 1 2 0-4 2 1 0 4 1-7 1-1 1 1 0 0 2 6 0 2 0 1 0-10 2 6 0-3 2 1 0-5 1 1 1 5 0 4 0 1 0-11 1-1 1 9 3 3 2-12 2 7 0-2 1-4 4 1 0 0 2 4 0 2 0-7 1 10 5-5 4 3 0-5 5 7 1-5 2 4 4 5-16 5-5 2-5-5-2-2-1-1-2 13-1-11-6 7 0-4-3 5 0-5-2 2 0-2-1 2 0 5 0-12-2 3-2-2-2 6-1 1 0-6-1 7 0-9-1 3-1 1 0 6 0 1 0 1 0-12-3 10-1-9-1 1 0 11-1-12-1 11-1 1-1-7-3-4-3 6 0-4-1 4-1-2-3 7-2-8-2 6-2-6-13-1-5 5 0 12 1-1 2 1 2-1 4 5 6-5 2 3 0-8 3 10 1-9 2 11 2-4 5-2 2-5 1-1 1-1 3 4 0 9 1-10 2 1 0-4 2 10 2-7 2 2 3-5 1 5 3-3 12 0 1 18-30-3-21 5-29 8 11 2 15 5 1 4 11 11 13-4-19 16-29 0 4-6 13 11 8-12 4 1 12 8 21 4-40"/></g><line x1="31.0" y1="152.3" x2="176.0" y2="14.8" stroke="#1a1a1a" stroke-width="1.15" stroke-dasharray="4.5 3.8" stroke-dashoffset="0.7"/><rect x="31.0" y="14.8" width="145.0" height="137.5" fill="none" stroke="#4d4d4d" stroke-width="1.1"/><path d="M31.0 152.3v2.4M31.0 152.3h-2.4M43.1 152.3v1.4M31.0 140.8h-1.4M55.2 152.3v2.4M31.0 129.4h-2.4M67.2 152.3v1.4M31.0 117.9h-1.4M79.3 152.3v2.4M31.0 106.5h-2.4M91.4 152.3v1.4M31.0 95.0h-1.4M103.5 152.3v2.4M31.0 83.6h-2.4M115.6 152.3v1.4M31.0 72.1h-1.4M127.7 152.3v2.4M31.0 60.6h-2.4M139.8 152.3v1.4M31.0 49.2h-1.4M151.8 152.3v2.4M31.0 37.7h-2.4M163.9 152.3v1.4M31.0 26.3h-1.4" stroke="#3a3a3a" stroke-width="0.9" fill="none"/><text class="t" x="31.0" y="163" text-anchor="middle">0</text><text class="t" x="27.3" y="155.3" text-anchor="end">0</text><text class="t" x="55.2" y="163" text-anchor="middle">2</text><text class="t" x="27.3" y="132.4" text-anchor="end">2</text><text class="t" x="79.3" y="163" text-anchor="middle">4</text><text class="t" x="27.3" y="109.5" text-anchor="end">4</text><text class="t" x="103.5" y="163" text-anchor="middle">6</text><text class="t" x="27.3" y="86.6" text-anchor="end">6</text><text class="t" x="127.7" y="163" text-anchor="middle">8</text><text class="t" x="27.3" y="63.6" text-anchor="end">8</text><text class="t" x="151.8" y="163" text-anchor="middle">10</text><text class="t" x="27.3" y="40.7" text-anchor="end">10</text><text class="l" x="52.4" y="178.9">Measured ET<tspan font-size="7" dy="2.7">0</tspan><tspan dy="-2.7"> (mm/d)</tspan></text><text class="l" transform="translate(14.9,137.0) rotate(-90)" x="0" y="0">Estimated ET<tspan font-size="7" dy="2.7">0</tspan><tspan dy="-2.7"> (mm/d)</tspan></text><text x="50.5" y="32.8" font-size="11" stroke="#111" stroke-width="0.3">51,709</text><text x="86.6" y="32.8" font-size="11" class="b" stroke="#111" stroke-width="0.25">5</text><circle cx="134.4" cy="115.9" r="1.25" fill="none" stroke="#5a5a5a" stroke-width="1.20"/><text class="g" x="145.9" y="118.6">CLDAS</text><circle cx="134.4" cy="126.2" r="1.25" fill="none" stroke="#f24a4a" stroke-width="1.20"/><text class="g" x="145.9" y="128.9">GPR</text><circle cx="134.4" cy="136.6" r="1.25" fill="none" stroke="#1a73e8" stroke-width="1.20"/><text class="g" x="145.9" y="139.3">XGB</text></g><g transform="translate(171.5,176.8)"><g clip-path="url(#cp)" fill="none" stroke="none"><path transform="scale(.5)" marker-start="url(#Mk)" marker-mid="url(#Mk)" marker-end="url(#Mk)" d="M69 289l-3 3 1 1-2 2 2 1-3 2 2 0-1 1 2 0-2 1 3 0-4 1 9-1 5-1-4-1 8 0-11-1 5 0 3-1-8-1 6 0 1 0-5-1 2 0 1 0 2 0-2-1-3-1 6 0-3-1 2 0-8-1 5 0 3 0-4-1 5 0-7-1 9 0 2 0-12-1 7 0 3 0-10-1 7 0 2 0-9-1 6 0-2-2 6 0-5-1 2 0 3 0 1 0 1 0-2-1 1-1-7-1 2 0-4-2 2 0-5-1 4-1 1 0 8 0-6-1 2-3 4 0-11-1 4 0 1 0 2-1-2-3 5-1 1-3 4-39 6 4-2 2 2 5-1 2 5 1-1 3 0 3-5 2-2 2-1 1-2 1 8 0-2 1 2 4 0 1-6 2 8 0-8 3 7 0-6 1-4 1 4 0 4 0 4 0-9 1-2 1 7 0 1 0-6 1 4 1 1 0 4 0-3 2 2 0-12 1 3 0 4 0 0 2 5 0 1 0-10 2 1 0 4 0 1 0-2 1-4 1 2 0 7 1 1 0-13 1 1 0 3 0 1 0 1 0-5 1 6 0-3 1 5 0-4 1 5 0 2 0-8 1 2 0 6 0-11 1 12 0-11 1 2 0 5 0-7 2 2 0 1 0 7 1-10 2 1 0 0 1 7 0-7 2-1 1 1 0 5 0 5 0-11 2-2 2 2 0 5 1-6 1 8 0-6 3 17-3-3-2 5-3-2-1-3-1 1-4 9 0-10-5 6-1-4-1-4-1 7 0-4-1 5-1-1-2-3-2 7 0-9-1 7 0-8-1 2 0 7 0-10-1 1-1 6-1 3 0-10-2 3-1 1 0 1 0 1 0 3 0-2-2 3 0-4-1-7-2 5 0 1 0 5 0-4-1-7-1 1 0 5 0 2 0 2-1 2 0-11-2 9 0-7-1 10 0-6-3 3 0 2 0-3-1 1-1 1-1-6-1 0-2-2-1 6 0-3-3-3-1 8 0-1-1 3-1-11-2 2 0 6-1-6-1 2 0 5 0-2-1-1-1 5 0-2-1-5-1 7-9-10-33 20 10 4 9-8 5 6 0 1 2-11 1 7 1 5 2-10 2 6 1 4 2-12 1 11 1-1 2-4 2 4 1-9 5 3 2 0 3-5 1 3 0 9 0-1 2-3 1-5 3 2 0 3 0 0 1 5 0-10 2-1 1 3 0 2 0-1 1-1 1 7 1-7 1 7 0-5 2-7 1 2 0 4 0 6 0-7 2 0 1 0 1-1 1 2 0 7 0-7 1-1 4-4 3 3 4 6 2-2 3 13 8-4-11-2-1 7-1 3-1-11-9 8 0-1-1 1-4-1-2 3-4-6-1-1-1 1-1-2-1 9 0-10-1 2 0 7-2-8-2-2-1 9 0 3 0-1-1-7-3 4 0-5-1 4 0-5-2 7 0-9-1 8-1-2-1-3-2 5-1-3-2 5 0-2-1-5-1 3 0 4-2-6-1 3 0-4-3 8 0-5-2-1-1 3-3 4 0-12-2 11-5-6-1-1-1-1-4-1-6 9-11-9-3 10-1-9-1 6-9 14-19 3 13-1 2-8 4 8 0-6 5 7 5-5 2 5 4-2 4-5 1 1 1 2 4-7 2 0 1 10 0 1 0-9 1 1 1 3 0 1 1-7 1-1 2 10 0-8 1 3 0 2 0-2 1 5 0-9 1 0 1 7 0-5 1 9 0-5 1 0 3-3 2 1 0 6 4-7 2 9 0-4 2-9 2 1 0 3 0-1 2-3 4 3 0 5 0-8 1 3 0 5 0 0 4-1 1 4 0-5 1 3 4 3 0-9 1 8 0-2 5-9 1 7 2-3 2 1 4-3 9 8 0 15-4 0-7-1-12-8-3 2-1 6-1 0-4-8-1 4 0 3-1-9-1 5-2 8 0-13-1 7-1-4-3 10-3-9-1 5 0-5-4 3 0-1-1 1 0-6-1 0-1 7-1-5-1 8 0-11-2 9-1 4 0-9-1 1-2 6-1-8-2 3 0-6-2 3 0 5 0 2 0-2-1 5 0-3-1-5-2-4-2 8-1 2 0-5-1 7-1-11-1 2 0 7 0-9-1 1 0 8-1-1-1-8-1 11 0-4-1-9-2 3-1-2-2 11 0-1-1 2-2 0-1-8-1 6 0-1-2 2-7-6-6-2-2 4-9-5-12 20-4 4 0-11 6 4 9 0 6 0 3-1 5-3 2 9 1 2 0-12 1 1 0 6 2-2 1 1 0 3 0-5 1 1 0-3 1-1 2 10 0-7 1 8 1-9 2 6 0-9 1 11 0-9 3 4 1 4 0-5 1 3 0 4 0-2 1 1 0-7 1 4 0-5 1-1 1 4 1-5 2 5 0 2 1-4 4-1 1 0 1 9 0-3 1 1 0-11 2 8 0 1 0-5 1 7 0-11 1 3 1 4 0-2 1 7 0-9 2 1 0 5 0-6 1 10 2-10 1 4 1-1 1 4 0-1 1-4 1 7 0-9 1 3 0 0 1 3 2-2 2 1 1-3 6 8 3-6 5 5 3-10 8 3 0 19-11-6-2-2-1 5-2-7-6 1-13 0-1-1-1 5 0 0-6 5-1-8-1 0-2-2-1 5 0 6-1 1-1-6-5-3-2-2-1-1-1 4-2 2 0-3-1 4-2 5 0-2-2-7-1 4 0-1-1-4-1 7-2 3 0-11-1 11 0 1 0-9-1 1 0 4-2-1-3 5 0-13-1 6 0 0-1 2 0-2-2-6-1 5 0 3-2 4-3 0-4-9-4 3 0 3 0-9-1 4 0 2 0-6-5 10-17 9-6-2 28-2 2 6 0 4 4-6 1 5 0-5 1-5 1 1 3-1 3 7 0 2 1-1 3 1 0 1 0-3 2-4 2 6 1 4 1-7 6 3 0-2 1-1 1 1 0-2 9 1 0 1 0 3 1-6 1 5 2-4 1-5 1 1 3 3 2 20-12-4-5-3-7 2-3 6 0 2 0-3-1-7-4 7 0-5-2 0-5 6-1-9-1 3-1 1 0-1-3-5-2 4-1-3-1 6 0 2-2-7-2 10-1 1-1-10-12 3-30 10 36 10 5 1 11-9 5 12-25"/><path transform="scale(.5)" marker-start="url(#Mr)" marker-mid="url(#Mr)" marker-end="url(#Mr)" d="M68 282l0 3 1 1-1 1-1 1 0 1-1 1 2 0-2 1 3 0-5 1 3 0 1 0-3 1 2 0 2 0 0 1-5 2 5 0-4 1-2 1 4 0-3 1 2 0-1 2 16-4-10-1 4-1-5-1 4 0 2 0-6-1 2 0 4 0 1 0-7-1 8 0-8-1 2 0 8 0-9-1 2 0 4 0 2 0 2 0 2 0-13-1 1 0 2 0 5 0 1 0 1 0-2-1-3-1 3 0 3 0 1 0-8-1 3 0 2 0 3 0-11-1 4 0 1 0 1 0 1 0-3-1 1 0 7 0-13-1 3 0 2 0 2 0 1 0-1-1 1 0 4 0-8-1 2 0 1 0 1 0 3 0 1 0-2-1-8-1 1 0 2-1 8 0-5-1 2 0 0-1 2 0-2-2 2 0-2-4 11-26 4 10-2 2 4 0-1 1-9 1-1 2 6 0 1 0 1 0-5 1 4 0 2 1-9 1 9 0 2 0-11 1 2 0 1 0 2 0 1 0 1 0-4 1 6 0-7 1-2 1 1 0 2 0 1 0 6 0-11 1 12 0-12 2 2 0 2 0 2 0 4 0-11 1 11 0 1 0 1 0-8 1-3 1 7 0 1 0 3 0-9 1 2 0 1 0-6 1 3 0 1 0 3 0 1 0 3 0 1 0-11 1 1 0-1 1 2 0 7 0-11 1 2 0 2 0 3 0-4 1 2 0 1 0-6 1 4 0 1 0 3 0-3 1-3 1 4 1 7 0-11 1 4 0 1 0-5 1 6 0-5 1 3 0 0 1 1 1 1 0-7 2 4 0-4 1 1 4 15-6 10-2-13-1 7-1 0-2 1-1-7-1 6 0-5-3 9 0-10-1 3 0-4-1 7-1-6-2 3-1 4 0-7-1-1-1 4 0 0-1 5 0-1-1-8-1 2 0 4 0-6-1 1 0 5 0 5 0-11-1 3-1 5 0-8-1 4 0 6 0 2 0 1 0-10-1 4 0-3-1 0-1 2 0 3 0-9-1 4 0 9 0-4-1-5-1 3 0 1 0 1 0 4 0-10-1 4 0 3-1-5-1 3-1 5 0-3-1-5-1 5 0-3-1 2 0 4 0-1-1-8-1 9 0-10-1 1-2 8-1-1-1 1 0-9-4-1-3 10-4 15-7-13 4 2 0 4 1 2 0 1 1 2 0 0 2-5 1 1 1 2 0 2 0 1 0-3 1-5 1 9 0-6 1-1 1-6 1 3 0-3 1 3 0-1 1 9 0 2 0-6 1 6 0-9 1 1 0 5 0 1 0-11 1 1 0 1 0 8 0-9 1 6 0-4 1 2 0 2 0-5 2 5 0 6 0-5 1 2 0 1 0 2 0-13 2 3 1 3 0 4 0-8 1 4 0 5 0-11 1 4 0 8 0 1 0-10 1 2 0 5 0 1 0 1 1-12 1 5 0-5 1 3 0 1 1 4 0 5 0-9 1-2 3 10 0-7 2-3 2 0 1 6 0-5 5-2 6 10 7 6-19 2 0-2-1 1-4-1-3 8-1-8-2 5-1 2-1-8-1 0-1-2-2 7 0 3-1-9-1 8-1 1-1 0-1-7-1 1 0 5-1-5-2 1 0-2-1 1 0 2-1 1 0 4 0-11-2 3 0 6 0-6-1 1 0 8 0-12-1 6 0-5-1 8 0 1-1-4-2 1 0-2-1 2 0 2 0 2 0 2 0 0-1-1-2-6-2 4 0 1 0 2 0-8-1-5-1 4 0 9-1-9-1 6-2-6-1 9 0-8-1 2-1-7-1 2 0 11 0-2-1 1 0 1 0-4-7 2-19 16-1-9 6 1 3 8 3-8 2 2 0-2 2 3 1-1 1 5 0-4 1 0 2 2 0 3 1-11 1 8 0 0 1 0 1-6 1 7 0-10 1 6 0 6 0-13 1 0 1 6 0 4 0 1 0 1 0 1 0-13 1 2 0-1 1 2 0 7 0-9 1 4 0 7 1-11 1 9 0 1 1-11 1 5 0 3 0 2 0 2 0-11 2 5 0 4 0 3 0-4 1-7 2 8 0-10 1 6 0 5 0 2 0-13 1 9 0-5 1 2 0-5 1 1 0-2 3 3 0-3 1 2 2 4 1-3 1 5 0 0 2-7 1 3 0 7 0-11 1 2 0-1 2-1 1 4 1 4 0 4 0-10 2-1 4 2 5-2 2 23-3-10-20 9-5-7-1 2-4 3 0 3 0 2 0-7-1 4 0 3 0-8-1 5-1-7-1 6-1 5 0-10-1 3-1 4 0-10-1 1 0 11 0-12-1 12 0 0-1-10-1 3 0 4 0-6-1 1 0-3-1 6 0 5 0-9-1 2 0 2 0 1 0-6-1 0-1 2 0 6 0-6-1-2-1 3 0 2-1 3 0 1 0 2 0-9-1 1 0 4 0-8-1 2 0 9-1-1-2-11-1 2 0 4 0 1 0 3 0-3-1 6-1-4-3 3 0-5-1 3 0-8-1 4 0 1 0 6 0-13-1 5 0 7 0-5-2 1 0 1 0-5-1-2-1 11 0-8-1-2-1 5-3 5-6-2-1-6-2 2-1 2-9 14 3-5 2 9 0-7 2-2 3 8 2-7 1 7 2-8 1 7 0-1 1 3 1-9 1 3 0 2 0 4 1-13 1 11 0-1 1-3 2 6 0-8 2 6 0 1 0 1 1-8 1 4 0 1 1-5 1 3 0 1 0 3 0-9 1 5 0-6 1 3 0 5 0 3 0-13 2 4 0 6 0 3 0-6 1 2 0-8 1 1 0 3 0-4 1 3 0 5 0-9 1 9 0 4 0-10 1 4 0 3 0-5 1 5 0-10 1 3 0 5 1 5 2-11 1 5 1-4 1-2 1 6 0 6 0-11 2 2 0-4 1 0 5 3 0 6 0-7 1 0 6 13-9-1-6 2-2-2-3 11-1-3-1-5-1 4-3-4-1-1-2 11 0 0-2-11-1 0-2-2-1 1-1 4 0 3 0-5-1 9 0-11-1 2 0 9 0-7-1-5-1 4 0 1 0 2 0 2 0 2 0-6-1 3 0-5-2 7 0-6-1 4-1 5 0-7-1 1 0 4 0 2 0-9-1 1 0-3-1 5 0-3-1-3-1 2 0 8 0 1 0-6-1 4 0-9-1 5-1 4-1 2 0-12-1 8 0-7-1 7-1 1-2 1-2-7-5 4 0 5 0 1 0-4-3-5-1 12-35 2 33 1 0 7 0-1 1-9 1 5 0 2 0-3 1 4 3-5 2 2 0-4 1 10 0-12 1 7 1 1 0 1 0 2 1-1 1-8 1 4 0 3 0-5 1-4 1 3 0 1 0 3 1 2 0-9 1 1 2 6 0-3 2 5 0-9 2 3 0 1 1-1 1-4 3 11 1-11 1 9 0-9 2 2 0 1 3 4 14-7 1 17-16-3-4 13 0-13-6 2-2 1 0-3-2 6-2-6-1 2-2 0-1 1 0 7-1-6-1-1-1 4 0 0-2-3-1-1-3 3-2-5-2 4 0 7 0-12-24 19 13-5 3 5 0 1 0 6 1-9 8 3 1-5 3 9 2-8 8 8 34 4-53 4-4-3-8 1 0"/><path transform="scale(.5)" marker-start="url(#Mb)" marker-mid="url(#Mb)" marker-end="url(#Mb)" d="M69 286l0 7-5 1 4 0-1 1 1 0 1 3-3 1 1 0-1 2 2 0-4 1 15 0 1 0-9-1 10 0 1 0-10-1 7 0-6-1 0-1-3-1 2 0 3 0 3 0-3-1 6 0-8-1 1 0 4 0 1 0 1 0 1 0 2 0-12-1 3 0 7 0 1 0-11-1 5 0 2 0 4 0-12-1 3 0 2 0 1 0 3 0 1 0-5-1 4 0 2 0 1 0-6-1 3 0 4 0-9-1 1 0 3 0 3 0-9-1 6 0 2 0-3-1 2 0 2 0 2 0-13-1 1 0 4 0 2 0 4 0-2-1 1 0 3 0-10-1 10 0-2-1 2 0-9-1 6 0 1 0-4-1 2 0 1 0 2-1-6-1 2 0 1 0-2-1 3 0 3 0-5-1 1 0 4 0-4-6 3-2 10-34 5 0-1 12-6 5 7 3-1 1-3 1-3 1-3 1 4 0-2 1 2 0-5 1 5 0 1 0 4 0-5 1 2 1 0 1 2 0 0 1 2 0-7 1 6 0 1 0-9 1 2 0 1 1 1 1 3 0 1 2-9 1 4 0-2 1 4 0 1 1-9 1 5 0 1 0 5 0-8 1-4 1 1 0 4 0 3 0-8 1 5 0 7 0-12 1 1 0 10 0-5 1 1 0 5 0-8 1 3 0-6 1 1 0 1 0 2 0 1 0 1 0 2 0 0 1-7 1 2 0 4 0-7 1 3 0 1 0 1 0 1 0 2 0-7 1 1 0 0 1 2 0 3 0-7 1 3 0-1 1 1 0 1 0-2 1 1 0 3 0-6 1 4 0 0 1 1 0 4 0-6 1 3 0-3 7-4 2 24-7-5-1-1-2-4-1 0-1 13 0-11-1-2-2 6-1 4-1-5-2-5-3 10 0-10-1 2 0 8 0-8-1 1 0 1-1 6 0-9-1 2-1 5 0 1 0-4-1-1-1 7 0 2 0-13-1 1 0 2 0 5 0-8-1 5 0 7 0-12-1 2 0 8 0 1 0 1 0-4-1 1 0-9-1 3 0 1 0 7 0-6-1 2 0 3 0-5-1 2 0-7-1 2 0 5 0-3-1-4-1 3 0 9 0-10-1 3 0-5-1 2 0 3 0 4 0 4 0-8-1 1 0 1 0 1 0 4 0-12-1 2 0 6 0 2-1-10-1 2 0 1 0 5 0 4 0-7-1 4 0 4 0-8-1-2-2 4 0-3-1 7 0-6-1 2 0 3 0 3 0-3-1 2 0-11-2 1 0 1 0 3 0 4 0-6-1 1 0-2-1 7 0 0-1 2 0 1 0-7-4 6 0-2-1-5-2 7-2-5-1 3 0 1 0-3-1 9-28-1 10 7 3 2 1 0 3-8 1 10 0-6 1 0 2-3 1-1 1 9 0-4 1 5 2-13 2 3 0 0 1 10 0-5 1 1 0 1 0 3 0-12 1 3 0 2 0-2 1 1 0-5 1 5 0-1 1 7 0-11 1 6 0 1 0 1 0 1 0 4 0-13 1 7 0-7 1 1 1 9 0-7 1 1 0-3 1 1 0 5 1 6 0-13 1 8 0 5 0-13 1 1 0 3 0 3 0-5 1 8 0 2 0 1 0-9 1 8 0-8 1 2 0-5 1 1 0 2 0 1 1-3 1 1 0 7 0 3 0-13 1 2 0 4 0 2 0 1 0 1 0-10 1 3 0 9 0-7 1-1 1 1 1 3 0-4 1 1 0 0 1-5 1 2 0 1 0 3 1 3 0 2 0 1 0-7 1 1 0 2 0 4 0-9 1 6 0-6 1 2 0 7 0-8 1 1 0-1 4-4 2 1 0 4 1-4 1 1 0 5 1-5 3-2 1 1 1 5 0-1 1 3 0 7 16 2-23 1-2 6-12 0-3-6-2 4-1-5-3 0-1 2 0 6 0-7-1 3 0-7-1 6 0-6-1 8-1 5 0-11-1 1 0-1-1 8 0 2 0-12-1 4 0 7 0-7-1-1-1 7 0 3 0-10-1 3 0-1-1-1-1 5 0-6-1 2 0 6 0-7-1 4 0 2 0 1 0 2 0-10-1 10 0-12-1 5 0-5-1 3 0 4 0 4 0-11-1 3 0 8 0-7-1 3 0 1 0 2 0 1 0-10-1 8 0 1 0-7-1 5 0 3 0 1 0-6-1 2 0 4 0-8-1-3-1 7 0 3 0-12-1 7 0-3-1 1 0 5 0-9-2 3 0 3-1 1 0-2-1 2 0-3-1 3 0-2-1 5 0 2 0-2-1-3-2 1-1-7-2-1-3 11-1-7-4 5-42 4 7 10 18-6 4 4 1-4 1-1 1 7 6-7 1 2 0 1 0 0 2 4 0 1 1 1 0-11 1 6 1 2 0-3 1 1 0 6 0-2 1-9 1 10 0 1 0-11 1 4 0 4 0 1 0-8 1 9 0-8 1-4 1 2 1 2 0-4 1 7 0 4 0-3 1 1 0-9 1 1 0 11 0-10 1 2 0 1 0-4 1 0 1 9 1-7 1 5 0 1 1 3 0-7 1 5 0 1 0 1 0-9 1 6 0 2 0-3 1-8 1 10 0-6 1 9 1-13 1 1 0 3 0 5 0-6 1 9 0-6 1 5 0-7 1 6 0-9 1 6 0 5 0-6 2 5 0-11 2 4 0 0 1 2 0 5 0 1 0-10 1 8 0-6 1 8 1-12 1 2 1 0 2 2 1-3 1 1 1-1 2 1 0 6 2 1 0-1 2 0 2-1 1-5 1 1 4 5 18 9-27 2-3-3-4 4 0-3-4-3-2 1-1 0-1 1-2 7 0-9-2 13 0-9-3 6 0-8-1 5 0-4-1 0-1 10 0-12-2 4 0 5 0-7-1 0-2 1 0 1 0 1-1 5 0-10-1 4 0 3 0 1 0-7-1 5 0-5-1 9 0-5-1-3-1 6 0-9-1 0-1 6 0 3 0-8-1 3 0 4 0 2 0 2 0 1 0-12-1 1 0 6 0 2 0-3-1-7-1 1 0 3 0-3-1 9 0 1 0 1 0-12-1 2 0 4 0 4 0-7-1 2 0 2 0-5-1 9 0 1 0-9-1 2 0-5-1 10 0 3 0-13-1 2 0 3 0 8 0-12-1 2 0 6 0 3 0-12-1 4 0 6 0-7-1 1 0 3 0 6 0-8-1 0-1-1-3 2 0 6 0 1 0-13-2 4-1 7 0-8-2 3 0 3 0-5-1-4-2 10 0-1-1 4-2-9-9 1 0 1-2 4 0-8-1 8-10 6-11 10 1-2 4 3 4-2 2-3 1 5 5-10 2 4 2 3 0 2 0-9 1 1 0 6 0-7 2 5 1 1 0-7 1 4 0 3 0 1 0-7 1 1 2 5 0-9 1 5 1 3 0 1 1 3 0 1 0-11 1 2 0 6 0 1 0-10 3 4 0 1 0 3 0 1 0 2 1-11 1 3 0 3 0-4 1 1 0 7 0 2 0-2 1-6 2 6 0-5 1 5 1-8 1 8 0-5 1-3 1 10 0-9 1-2 1 6 0 2 0-7 1 2 0 1 0 7 0-10 1 6 0-6 1 2 0 5 0 1 0 2 0-11 1 1 0 2 1 4 1 3 0-8 1 5 0-8 1 4 0 3 0-8 1 0 2 4 0 4 0 5 0-7 1-6 1 6 1 3 0-5 2 5 0-8 1 2 0 1 3 2 0 3 0-2 1-6 1 2 0 3 3-6 4 0 13 5 2 13-25-3-3 0-1 0-3 0-3 1 0 2 0 8-1-1-1-3-2 1-1-1-1 2 0-10-1 1-1 3-1 2-2 1 0 5 0-5-2 6-2-11-1 2 0 1 0 1 0 4 0 0-2-6-1 4 0 4 0-11-1 6 0-4-1 5 0-8-1 1 0 11 0-2-1 1 0-9-1 9 0-7-1 2 0 1 0 1 0 3 0-3-1-8-2 6 0 2 0 1-1 4 0-5-1 1 0 1 0-7-1 6 0 1 0 2 0-5-1 1 0 3 0-7-1 7 0-7-1 5 0 4-1-7-2 7 0-12-2 2 0 10-1-11-1 6 0 3 0-5-1 1 0 4-1-4-1-5-1 1 0-2-1 11 0-5-1-5-1 6 0-1-2-5-2 6-3 10-15 2 7 4 0-5 3 1 4-4 4 3 0-5 1 3 0 5 2-3 1-1 1-4 1 9 0 4 1-11 1 3 0 7 0 1 0-3 1 2 0-12 1 1 0 11 0-6 1 1 0 4 0-5 1-4 1 3 0 6 0-9 1 4 0 2 0-4 1 6 0-7 1 4 5 6 0-9 1 8 0 1 0-12 1 9 0 3 0-5 1 1 0-9 1 10 0 3 0-12 1 3 0 1 0-3 1 1 2 5 0-4 6 9 0-9 1-1 1 10 0-5 1-3 2 6 0-4 2-2 14-5 14 15-29-1-7 0-4 4-3 4-1 0-2 0-1 4-2-12-1 9-3 1 0-8-3 3-1-5-1 3-1 8-1-8-1 4 0 6 0-11-3 6-2-5-1 4 0 3 0-2-2 4 0-8-1 3 0 5 0-10-1 7 0 4-1-10-1 8-1-10-3 4-1-3-1 4 0-3-10 10 0 1 6 4 0 3 2-5 3 0 1 9 0-11 4 1 2 4 0-4 2 12 0-10 4 1 0-3 3 1 7-1 8 16-15 2-5-4-20"/></g><line x1="31.0" y1="152.3" x2="176.0" y2="14.8" stroke="#1a1a1a" stroke-width="1.15" stroke-dasharray="4.5 3.8" stroke-dashoffset="0.7"/><rect x="31.0" y="14.8" width="145.0" height="137.5" fill="none" stroke="#4d4d4d" stroke-width="1.1"/><path d="M31.0 152.3v2.4M31.0 152.3h-2.4M43.1 152.3v1.4M31.0 140.8h-1.4M55.2 152.3v2.4M31.0 129.4h-2.4M67.2 152.3v1.4M31.0 117.9h-1.4M79.3 152.3v2.4M31.0 106.5h-2.4M91.4 152.3v1.4M31.0 95.0h-1.4M103.5 152.3v2.4M31.0 83.6h-2.4M115.6 152.3v1.4M31.0 72.1h-1.4M127.7 152.3v2.4M31.0 60.6h-2.4M139.8 152.3v1.4M31.0 49.2h-1.4M151.8 152.3v2.4M31.0 37.7h-2.4M163.9 152.3v1.4M31.0 26.3h-1.4" stroke="#3a3a3a" stroke-width="0.9" fill="none"/><text class="t" x="31.0" y="163" text-anchor="middle">0</text><text class="t" x="27.3" y="155.3" text-anchor="end">0</text><text class="t" x="55.2" y="163" text-anchor="middle">2</text><text class="t" x="27.3" y="132.4" text-anchor="end">2</text><text class="t" x="79.3" y="163" text-anchor="middle">4</text><text class="t" x="27.3" y="109.5" text-anchor="end">4</text><text class="t" x="103.5" y="163" text-anchor="middle">6</text><text class="t" x="27.3" y="86.6" text-anchor="end">6</text><text class="t" x="127.7" y="163" text-anchor="middle">8</text><text class="t" x="27.3" y="63.6" text-anchor="end">8</text><text class="t" x="151.8" y="163" text-anchor="middle">10</text><text class="t" x="27.3" y="40.7" text-anchor="end">10</text><text class="l" x="52.4" y="178.9">Measured ET<tspan font-size="7" dy="2.7">0</tspan><tspan dy="-2.7"> (mm/d)</tspan></text><text class="l" transform="translate(14.9,137.0) rotate(-90)" x="0" y="0">Estimated ET<tspan font-size="7" dy="2.7">0</tspan><tspan dy="-2.7"> (mm/d)</tspan></text><text x="50.5" y="32.8" font-size="11" stroke="#111" stroke-width="0.3">53,772</text><text x="86.6" y="32.8" font-size="11" class="b" stroke="#111" stroke-width="0.25">5</text><circle cx="134.4" cy="115.9" r="1.25" fill="none" stroke="#5a5a5a" stroke-width="1.20"/><text class="g" x="145.9" y="118.6">CLDAS</text><circle cx="134.4" cy="126.2" r="1.25" fill="none" stroke="#f24a4a" stroke-width="1.20"/><text class="g" x="145.9" y="128.9">GPR</text><circle cx="134.4" cy="136.6" r="1.25" fill="none" stroke="#1a73e8" stroke-width="1.20"/><text class="g" x="145.9" y="139.3">XGB</text></g><g transform="translate(343.0,176.8)"><g clip-path="url(#cp)" fill="none" stroke="none"><path transform="scale(.5)" marker-start="url(#Mk)" marker-mid="url(#Mk)" marker-end="url(#Mk)" d="M80 302l-5-1 2 0 5 0-7-1 2 0 4 0-8-2 1 0 4 0 3 0 2 0-8-1 1 0-2-1 6 0 3 0-8-1 1-1 1 0 1 0 1 0 2 0-1-1 1 0-5-1 1 0 5 0-5-1 1 0 3 0 2 0-10-1 4 0 3 0-4-1 2 0 4-1 0-1-6-1 1 0 3 0-3-1 6 0-6-1 3 0 2 0-10-1 3 0 3-1 4 0 1 0-3-2-4-1 6 0-1-1 2 0 0-19 11-45 1 24 1 1-3 4-3 3 2 2 1 6 4 1-4 3-4 1 3 1 4 1-2 1-6 1 1 0 4 0 2 0-1 1-8 1 7 5 3 0-6 1-1 1 5 0-10 1 3 1 2 0-3 3 4 0 3 0-8 1 6 0 4 0-11 1 3 0 5 0-8 1 4 0 5 0 1 0-10 2 3 0 8 0-11 1 6 0 5 0-5 1-5 2 2 0 7 0-8 1 1 0 2 0 5 0-9 1 2 0 2 0 7 0-11 1-1 1 8 0 5 0-6 1-4 1 5 0 1 0 2 0-6 1 7 0-7 1 3 0 4 0-11 1 2 0 3 0 7 0-13 1 1 0 3 1 4 0 1 0-7 1 2 2-3 1 2 0 5 0-6 1 5 0 7 0 2-2 4-1 6-1-3-1-9-1 7-2 6-3-4-2-9-1 0-1 4 0 3-1-6-1 8 0-1-4-4-1 2 0 7 0-3-1-2-1 2-3-8-1 7 0 2 0 2 0-8-1-3-1 9 0 1 0-12-2 5 0 1 0-2-2 3 0 5-4-6-1 0-3 1 0 2-1-6-1 10 0-1-1-6-1-6-2 7 0 3 0 3 0-12-1 0-1 12-1-1-2-8-2 4 0-7-1 5-2 1 0 4-9 1 0 0-1 0-6-2-22 13-45-3 41 2 20-7 1 0 4 10 1 1 1-5 2-4 1 5 2 5 2-4 2 3 2-1 2 1 0-12 3 8 0 2 0 1 1-5 1 4 0 1 0 1 1 0 1-1 1-1 2 2 0-7 1-1 2 1 0 5 0-6 1 3 0 3 0-3 1-6 1 2 1 2 0-1 1-3 2 7 1 3 0 0 2 2 0-13 1 3 0 2 0-2 1 4 0-6 2 3 0 6 1 1 0-8 1 7 0-9 1 6 2-3 1 8 1-11 1 2 0 10 0-7 2 5 0-4 2 1 1-8 1 9 0 2 0-8 9-1 1 2 3 4 1-4 3 3 1 10-4-1-5 5 0-4-1 7 0-5-2 1-1-4-4 4-1 3-6-9-2 1 0 8-1-7-1 5 0-1-5 1-1 1 0-7-2 5 0 5 0 0-1 1 0-8-2 4-1-8-1 11 0-9-1 3-1 2 0-6-1 1 0 5-1 1 0 1-2-2-1 2-1 2 0-7-1 7 0 0-1 1 0-11-1 1-1 6 0-2-2-1-1 1 0-6-1 4 0-3-1 3 0 2 0 2 0-8-5 10-1 2-1-6-1 4 0-9-1 4 0 5 0 1-1-9-5 1 0 2-1 4-1-6-1 1 0 0-5 9 0-5-4-8-2 6-4 6 0-4-5-1-4-5-12 1-1 8 0 5 8 6 0-3 2 3 0 5 0-12 1 7 0-8 8 13 2-2 1 1 0-9 2 7 0-7 3 7 0-9 1 3 0-4 1 1 1 10 0 0 2-11 3 11 0-4 2 1 0 4 0-9 2-2 1 1 0 2 1 5 0 2 1 2 0-11 3 4 0 7 0-12 1 9 1-2 1 1 0-8 3 1 1 1 0 0 2 8 0-3 1-6 1 1 0 1 1 6 0-9 1 5 0 1 0 5 0-9 1 6 0 2 0-3 2-8 1 5 4 2 0-6 1 10 3-10 2 12 0-12 2 4 0-3 1 5 1 5 0-9 5-2 1 11 1-10 3 6 2 2 2-1 1-6 1-3 1 0 2 13 13 7-23-4-7 6 0-7-4 1-2 5 0 1-1-1-3-4-2-2-1 10-1-8-2 1-2-2-1-1-1 2 0 5 0-3-2 3-1 5-2-11-1 4-1 4 0 0-1-6-1 4-1 5-2-1-1-10-1 9 0 2 0-11-2 2-1 3 0 2 0 3 0-9-2 5 0-6-1-2-1 6 0 6-2-12-1 4-1 2-1 2 0-5-1-2-2 10-1 1 0-9-1 8-1 1 0-3-2 4 0-3-1 1-1-9-1 9 0-9-3 2 0 8 0-5-1 1 0-1-1 1 0-8-2 3-1 8 0 1 0-9-1 9-1 1-1-12-3 11-2-5-5-5-1 2-1 8-8-1-10-2-4 7-24 11 22-5 7 1 1-7 14-2 1 6 0-6 1 2 1 7 1-8 1 1 0 8 0-9 1 4 0-5 1 4 1 1 0-1 1 0 1 6 0 1 0 0 1-11 1 1 0 2 1-1 1 5 1-5 1 8 0-3 1 4 0 2 2-13 1 1 1 1 0 3 0 1 0 4 0 3 0-9 1 9 1-1 1-7 2-3 1 0 1 10 0-2 1-3 2 4 0 2 0-9 2 6 0 0 2-1 1-5 1-3 1 6 1-6 1 1 0 1 1 1 0 4 2-2 2-5 1 4 0 3 0 1 1-4 2 2 0 2 0 1 0-1 1 4 1-12 1 3 3 8 8 9-15-2-8 5-4-10-2 10 0 1 0-9-2 3-2-4-3 3-1 4 0 5 0-4-1 2-2-9-1 11-2-9-3 2 0-1-1 6 0-7-1 0-1-3-1 9 0 3 0-11-1 0-1 1 0 7-1-4-3 3 0 1 0-10-1 9 0-5-1-1-1 7-2 0-1 2 0-7-2 1 0 1 0 2 0-4-2 7 0-7-2 7 0-5-4-1-1-2-2 1 0 2-7 15-14 2 0 1 9 2 12-3 2-10 1 0 1 12 0-3 4-8 2 7 0 3 0-7 1 1 0-3 3 5 0-6 1 8 0-3 1 0 1-6 1 0 1 1 0 1 0 0 1 7 0-4 2 1 0-5 2 9 2-7 1 3 0-6 2 4 13 22-27-11-6 2-4 2-4 6-6 0-2 0-2 7-28 8 18-5 3-7 31 18-36"/><path transform="scale(.5)" marker-start="url(#Mr)" marker-mid="url(#Mr)" marker-end="url(#Mr)" d="M82 295l-6-2 6 0-10-1 3-2 2 0 0-1 5 0-10-1 2 0 1 0 2 0-2-1 4 0-7-1 7 0 1 0-4-2 1 0 4 0 2 0-7-1 3 0 2 0 2 0-8-1 2 0-1-1 4 0 1 0 1 0 1 0-9-1 2 0 1 0 2 0 1 0-4-1 2 0 1 0 1 0 2 0-3-1 4 0-4-1 2 0-5-1 1 0 3 0-3-2 3 0 3 0-4-1 4 0-4-1 3-4 1-3-1-3-1-1 6-23 9 0-3 2 3 1 1 3-6 5 6 0-7 4 1 0 2 1 4 0-11 1 10 0-1 1 0 2-7 1 5 1 1 0-6 1 1 0 1 0 7 0-5 3 1 0 2 0 2 0-9 1 4 0 3 0 1 0-11 1 8 0 3 0-10 1 2 0 8 0-11 1 1 1 2 0 5 0-2 1 1 0-5 1 1 0 3 0-7 1 3 0 2 0-5 1 7 0 4 0-11 1 2 0 2 0 8 0-10 1 9 0-10 1 8 0 1 0-10 1 3 0 4 0 5 0-11 1 11 1-12 1 1 0 5 0 1 0-7 1 4 0 1 0 3 0 4 0-6 1 4 0 1 0-7 1 2 0-3 2 5 1-5 1 2 2 5 0-3 2-1 1-1 1-5 2 13 5 4-12 10-7-12-2 7 0 1-2-9-2 6-2 1 0 3 0-1-1-4-1 6 0-3-1 1 0 1 0-8-1 5 0 5 0-10-1 1 0 6 0-6-1 4 0-4-1 1 0 1 0 1 0-6-1 0-1 3 0 2-2 1 0 1 0-7-1 5 0 8 0-12-2 3 0 1 0 3 0 5 0-12-2 4 0-3-1 10 0 1 0-12-1 11-1-6-1 6 0-11-1 11 0 1 0-13-1 1-1 1 0 6 0-5-1 2 0 4 0 3 0 1 0-7-1-5-1 3 0 3 0 3 0-1-2 3 0-11-1 1-1 2 0 4-1 2 0 2 0-3-5 4-2-10-1-2-10 24-13-8 3 3 2 7 1-13 3 1 1 6 2 5 0-5 1 1 0 0 1-4 6 5 0-1 1 5 0-8 1 1 0 3 0 4 0-7 1 3 0-3 1-3 1 2 1 0 1 2 0 0 1 2 0 2 0-8 1 2 0 5 0 1 0-6 1 5 0 3 0-11 1 2 0 1 0 1 0 5 0-5 1 7 1-1 1-5 1-6 1 1 0 2 0-2 2 3 0 1 0 1 0-4 1 5 0 5 0-12 2 8 0-9 1 2 0 2 0 6 0-9 1 1 0 2 0 6 0-7 1 1 0 3 0 2 0 2 0-11 1 7 0 2 0 3 0-10 1 11 0-9 1 5 1-3 1 4 0-3 1-6 1 2 0 5 0-3 1 5 0 2 1-12 1 1 0 3 2-4 2 0 1 4 5 2 4-6 12 18-22 9-2-10-7-1-1 4-1-5-2 6 0-1-1 2 0 2 0-9-1 7 0-7-1 1 0-2-1 3 0 1-1 6 0 1 0-11-2 2 0 7 0-2-1 1 0 5 0-1-1-9-1 1 0-3-2 0-1 12-1-6-1 0-1-4-1 1 0 2 0 1 0-4-1 1 0 7 0-11-1 10-1-9-1 4 0-5-1 5 0 2 0 2 0 3-1-12-2 6 0 6 0-9-1 3 0 7 0-9-1 3 0-2-1 6 0-9-1 6 0 4 0-1-1 2 0-13-1 1 0 10 0 1 0 1 0-8-1 3-1 1 0 2 0-11-1 11 0 2 0-9-1 3 0-5-1 5 0 1 0 3 0-3-1-6-1 2 0 6 0 0-2-5-2 6 0 2-1-12-2 9-1-9-1 8-1-2-4 4-1-7-2 9-3-4-4 13-64-3 48 5 1 1 9-4 2 1 0-1 4 1 8-6 1 2 0 8 0-2 1 3 1-11 3 6 0 2 0 3 0-11 1 4 0 5 1-6 1 6 0-11 1 8 0 5 0-9 1 4 0-1 1-5 1 5 0 2 0 1 0 3 0-11 1 3 0 7 0-12 2 2 0 2 0 2 0 3 0 2 0-8 1 3 0-6 1 1 0 0 1 1 0 3 0 5 0 3 0-3 1 1 0-8 1 7 0-9 1 5 0-4 1 1 0 3 0 0 1-6 1 7 0-5 1 8 0-10 1 3 0 5 0-5 1 1 0 2 0 1 0 2 0-2 1 1 0 3 0-11 1 2 1 4 0 7 0-7 1-3 1 1 0 5 1 4 0-13 1 9 0-8 2 1 0 2 0 1 0 4 0-5 1 9 0-8 1 1 0 0 1 2 1-5 1 5 0 1 3-1 2-6 8 7 21 11-7 0-1-4-26-1-4 0-4 3-2 1-1 2-1-4-1 7 0-5-1 1-2-4-2 9 0-9-1 2 0 2-1-2-1-4-1 0-2 1 0 6 0-1-1 7 0-10-1 4 0 4-1 2 0-11-1 1-1 1 0 4 0 4 0-6-1 3 0 4 0-13-1 2 0 5 0 0-1-7-1 5-1 3 0 1 0 3 0 1 0-2-1-8-1 8 0 2 0-13-1 3 0 3-1 1 0-7-1 4 0 4 0-7-1 3 0 3 0-2-2 5 0-8-2 11 0-11-2 7-2 4 0-1-2-10-1 1 0 7 0-8-3 5-1 4 0-6-1 2-1 3 0-3-1 2 0-2-1-4-3 5-3 5-9-8-2 5-1 9 4 7 1-12 3 7 6 4 0-9 2 1 0 6 1 4 0-11 1 1 1 7 0 2 0-7 1 1 0 2 1 1 0 1 0 2 0-9 1-2 1 8 0 2 0-6 1 1 0 7 0-7 1 1 0 4 0 2 0-9 1 1 0 8 0-12 2 8 0 1 0-8 1 5 0-6 1 1 0 7 0-8 1 4 0 3 0-8 1 7 0 6 0-11 1 3 0 4 0 2 0-6 1 3 0 3 0-8 1 3 0-2 2 3 0 2 0-9 1 5 0 1 0 3 0-3 1-6 1 3 0-3 1 3 0 1 1-4 1 5 0 1 0 5 0-8 1 2 0-3 1-1 2 0 3 2 0-2 1 5 5-4 1 7 11 5-22 4 0-2-7 1 0 9-1-11-1 3 0 5-1-9-1 7 0-7-1 2 0-2-1 1-1 4 0 3-1-6-1 1 0 3 0-5-1 2-2 3 0 1 0 1-1-4-1 6 0-10-1 6 0 2 0-4-1 1-1 5 0 2 0 1 0-10-1 3 0 4 0 3 0-6-1 1 0-2-2 4 0 1 0-3-1 4 0-2-1-8-2 5 0 2 0-4-1 3-1 2-1-6-1 2 0 5 0-6-1 8 0 0-1-7-3 7-3-5-9 0-2 13 4-2 3 4 1 2 0 2 0-10 1 8 0-11 1 6 1 4 0-4 2-2 1 3 0-4 1-1 1 3 0 5 0 1 0-3 1-2 1 5 0 1 0-4 1 5 0-7 1 2 0-4 1 9 0-10 1-3 1 7 0-7 2 6 3 1 1-3 2-1 13 15-10-4-7 6-2-6-9 8 0-1-3-1-1 0-1-6-4 12 0-12-1 9 0-1-3 4-1 5-3 7 1-10 4 1 17 18-2 2-19-5-12 1 0-3-3"/><path transform="scale(.5)" marker-start="url(#Mb)" marker-mid="url(#Mb)" marker-end="url(#Mb)" d="M78 302l1-1-6-1 5 0-3-2 5 0-5-1 4 0 3 0-6-1 7 0-10-1 1 0 2 0 3 0-3-1 3 0-5-1 3 0 1 0 3 0-7-1 4 0-4-1 3 0 1 0-4-1 4 0 3 0 2 0-9-1 2 0 2 0 5 0-9-1 5 0-2-1 4 0-8-1 1 0 7 0-6-1 1 0 1 0 3 0 3 0-5-1 1 0 3 0-6-1 1 0 2 0 0-1 2 0 1 0 1-1-3-1 0-1 2 0-7-1 7 0-2-1 2-1 1 0-3-2 3 0-2-4-3-3 2 0 1 0 2-2-2-1 2-1 14-35 0 1-5 1 1 4 4 1-4 1-1 2-2 6 1 0 6 7-3 1 1 0 2 0-1 1-4 4 4 0-11 2 4 0 8 3-8 1 1 0 1 0-7 1 9 0 1 0-6 1 6 0-9 1 9 0 2 0 1 0-12 1 4 0-1 1 1 0 6 0 2 0-8 1 3 0 4 0 1 0-12 1 3 0 1 0 1 0 1 0-2 1 3 0 5 0-13 1 6 0-6 1 6 0 5 0-9 1 3 0 1 0 3 0-9 1 1 0 7 0 3 0-10 1 1 0 3 0 4 0-7 1 4 0 3 0-9 2 1 0 3 0 1 0 1 0 2 0-7 1 2 0 2 0 5 0 2 0-10 1 11 0-11 1 1 0 6 0 4 0-11 1 4 0-5 1 3 0-4 1 6 0 2 0-6 1 2 0-4 1 2 0 11 0-10 1 1 0 2 0-4 1 5 0 3 0-9 2 8 1 2 0-6 1 3 0-7 2 0 1 3 0-4 1 3 0-3 2 2 0 11 0-10 1 4 0 2 1-5 1 15-3 3-9 4 0-8-1 1 0-2-1 5 0 2-1-4-1 3 0 2 0-8-1 0-1 1 0 1-1-4-1 10 0-10-1 2 0-3-1 7-1 2 0-9-2 4 0-4-1 3 0 1 0 3 0 3 0-9-1 7 0 2 0-8-1 1 0 6 0 2 0-8-1 1 0 4 0 1 0 2 0-11-1 2 0 4 0 7 0-13-1 3 0 8 0 1 0-12-1 1 0 10 0 1 0 1 0-6-1 3 0 3 0-12-1 7 0 2 0-10-1 1 0 1 0 0-1 3 0-2-1 3 0 2 0-6-1 2 0 3 0 3 0 1 0-7-1 4 0 2 0 3-1-9-1 1 0 1 0 4 0 3 0-4-1 1 0 1 0-7-1 2 0 2 0 3 0 1 0-7-1 4 0 2 0-2-1-8-1 1 0 1 0 5 0 1 0-1-2-6-1 10 0-2-1 3 0-11-1 4-1-1-1 2 0 3 0-6-1 6 0-9-1 4 0 6 0-8-2 1-1 3 0 1-2-3-1 3 0 0-1 2 0 3 0-3-1-4-1 3 0 2 0-1-1-1-2 1-1 0-2 3 0-1-4 0-1-6-4-6-6 10-19 10-20-2 29 5 1-2 3 4 2-7 3 9 0-2 1-10 2 8 1 0 2-6 1 8 0-11 1 5 0 6 1-1 1-6 1 3 0 5 1-3 2-4 2 5 2-9 1 1 0 7 0-7 1 5 0 4 0-5 1 4 0-8 1 1 0 4 0-7 1 7 0 6 0-10 1 4 0-5 1 7 0 1 0 2 0 0 1-12 1 6 0-4 1 6 0 4 0 1 0-13 1 2 0 8 0-8 1 3 0 6 0-11 1 2 0 2 0-4 1 8 0-6 1 10 0-10 1 7 0 2 0-9 1 11 0-13 1 3 0-1 1 8 1 3 0-8 1 5 0 2 0-10 1 8 1-9 2 4 0 4 0 2 0-7 1 1 0 5 0-9 1 2 0 1 0-3 2 3 0-4 1 1 0 11 0-9 2 7 0-2 1 5 0-4 1 3 0-12 1 2 0-1 1 0 8 11 0 1 0-8 2 3 1-2 2-3 4 5 1 4 0-2 1-9 2 14 1 6-2-7-2 8-14-3-4 4-1 2 0-11-1 2-1 4-1-4-1-2-1 2 0 2 0-3-5 2 0 5-1 3 0-9-1 5-2 2 0-2-1-5-1 4-1 5 0-4-1 1 0-7-1 1 0 2 0-4-1 2 0-1-1 10 0-11-1 7 0-1-1 6 0-8-1 6 0-6-1-4-1 8 0-8-1 3 0 1-1 5 0 3 0 1 0-12-1 1 0 4 0-3-1 6 0 4 0-11-1 2 0 4 0 5 0-11-1-2-2 7 0 1 0-6-1 4 0 3-1 1 0 3 0-11-1 7 0-2-1 1 0 3 0-7-1 1 0 1 0 6 0-11-1 3 0 3 0 5 0-10-1 4-1 2 0 3-1-8-2 3 0 4 0 2 0-10-1 10 0-3-1 1 0 3 0-10-1 3 0 2-1 1-3-5-1 8 0 1 0-9-1 5 0-2-1 0-1 1 0-8-1 13-1-3-1-10-2 3 0 0-1 1 0 7-3-10-2 6-1 0-2 2 0-1-5 0-6 5-1-5-9 12-8 7 1-1 13-2 1 0 2-4 2 0 1-4 1-2 2 11 1-9 1 3 0 4 0 3 0-10 2 8 0-7 2 3 0 1 1-3 1 1 1-2 1 2 0-5 1 1 0 9 0 2 0-10 1 6 1 4 0-12 1 8 1-6 1 5 0 3 0 1 0 1 0-5 1-5 1 3 0 3 0-7 1 3 1 1 0 8 0-11 1 7 0-9 1 9 0 2 0-1 1 2 0 1 0-6 1-5 1 10 2-7 1 2 0 2 0 2 0 1 0-10 1 0 1 7 0 4 0-12 1 4 0 5 0 1 0 2 0-13 1 1 0 5 0 6 0-3 1-9 1 4 0 1 0 2 0 1 0 1 0-7 1 3 0 6 0-8 1 5 0 2 0-10 1 6 0 6 0-1 1-5 1 6 0-12 1 0 1 2 0 2 0 0 1 7 0-10 1 2 0 5 0 0 1-7 1 10 0-7 2-3 1 1 0 2 0 7 0-9 1 0 1-2 3 1 0 8 0-2 2-1 2-5 3 0 4 3 0 7 0 0 10 1 8 1 1 4-20-3-4 13-6-5-2-8-1 2-4 4 0 2 0-4-2-3-2 8-1-4-1 6 0-9-1 0-1 6-1 4-1 1 0-6-1 3 0-10-1 2 0 10 0-4-2-5-1 1 0 5 0 2 0-3-1 1 0-6-1 4 0 1 0-8-1 1 0 11 0 1 0-12-1 10 0-9-1 3 0 1 0 6 0-12-1 2 0 7 0 1 0 1 0-5-1 6 0-10-1 5 0 3 0 1-1-3-1 2 0-5-2 3 0 2 0 2 0 1 0-13-1 5 0 3-1-8-1 12 0 1 0-7-1 4 0 2 0-2-1-5-1 3 0-5-1 2 0 6 0 1 0-11-1 12 0-12-1 2 0 2 0 7 0-6-1 2 0-3-1 3 0-7-1 5 0 1 0 1 0 5 0-2-2 1 0 0-1-10-1 1 0 6-1-6-1 5 0 3 0 1 0-12-1 12 0-11-1 3 0 3 0-5-2 3 0-2-1-2-1 5-1 2-1 4-2-6-1 3 0 2-2 2-2 0-3-7-3 2-3-3-1 10-13 4 11-3 1 1 0 8 3-3 1 1 0-5 2-2 2 6 0 4 1-3 1 4 0-8 1-1 1-3 1 1 0 6 0 5 0-1 2-9 1 3 1 2 0 3 0-11 1 13 0-8 1 5 0-5 1 4 0-4 1 1 0 6 0 0 1-7 1 1 0-2 1 4 0 0 1 3 0-1 1 2 0-12 1 5 0 3 0-5 1 7 0-10 1 3 0 10 0-12 1 7 0 2 0-6 1 2 0-4 1 1 0 2 0-5 1 4 0 7 0-9 2 7 0 3 0-8 1 6 0 3 0-8 1 0 1 1 0-2 1 1 0-5 1 6 0 4 0-10 1 0 1 1 0 9 0 2 0-3 2-9 1 6 0-5 1 7 0 1 0-9 1 3 1 7 0-8 2 8 0-10 1 2 0 6 0 1 0 4 0-11 3 5 1-3 2 1 6-5 1 9 2 10 1 3-18-8-4 1-1 9-3-10-1 4-1-2-1 9 0-11-1 11 0-7-1 2 0-6-2 0-1 2 0 9 0-8-1 3 0-4-1 5 0 4 0-10-1 2-1 5 0-3-2 1 0 5 0-10-1 3 0 3 0 2 0-9-1 2 0 1 0 4 0 1-1-3-1 7 0-11-1 5 0 6 0-9-1 1 0 2-1 5 0-11-1 1 0 5 0 7 0 0-1-2-1-11-1 3 0 5 0 4 0-10-1 5 0 3 0-3-1 2-2 2 0 2 0-12-1 2-4 0-1 3 0 2 0 2-1-5-1 5 0-9-1 8 0 1-2-10-2 13 0 0-2-12-1 3 0 7-1-3-2 6-19 11 11-4 1 3 3-9 2 1 0 2 2 4 0 1 0 0 3-3 4 5 1-7 1 1 1 6 0-9 1 5 0 1 0 3 0 1 2-3 1-5 1 6 0-4 1 4 0-7 1 4 0 3 0-9 1 1 0 9 0 1 1-10 1 5 1 4 0-8 1 2 0 4 3-4 1-3 3 2 0-4 2 10 0 2 0-7 1-5 4 2 14 6 0 8-27 9-5-8-3-2-1 7-2-8-1 6-1 1 0-7-2 1 0-1-1 1-3 0-1 10 0-6-1 8-1-7-1-1-2-4-7 7-4 2-28 12 25 4 0-2 9-2 4 1 0 1 0-5 3 12 0 5-7-3-9"/></g><line x1="31.0" y1="152.3" x2="176.0" y2="14.8" stroke="#1a1a1a" stroke-width="1.15" stroke-dasharray="4.5 3.8" stroke-dashoffset="0.7"/><rect x="31.0" y="14.8" width="145.0" height="137.5" fill="none" stroke="#4d4d4d" stroke-width="1.1"/><path d="M31.0 152.3v2.4M31.0 152.3h-2.4M43.1 152.3v1.4M31.0 140.8h-1.4M55.2 152.3v2.4M31.0 129.4h-2.4M67.2 152.3v1.4M31.0 117.9h-1.4M79.3 152.3v2.4M31.0 106.5h-2.4M91.4 152.3v1.4M31.0 95.0h-1.4M103.5 152.3v2.4M31.0 83.6h-2.4M115.6 152.3v1.4M31.0 72.1h-1.4M127.7 152.3v2.4M31.0 60.6h-2.4M139.8 152.3v1.4M31.0 49.2h-1.4M151.8 152.3v2.4M31.0 37.7h-2.4M163.9 152.3v1.4M31.0 26.3h-1.4" stroke="#3a3a3a" stroke-width="0.9" fill="none"/><text class="t" x="31.0" y="163" text-anchor="middle">0</text><text class="t" x="27.3" y="155.3" text-anchor="end">0</text><text class="t" x="55.2" y="163" text-anchor="middle">2</text><text class="t" x="27.3" y="132.4" text-anchor="end">2</text><text class="t" x="79.3" y="163" text-anchor="middle">4</text><text class="t" x="27.3" y="109.5" text-anchor="end">4</text><text class="t" x="103.5" y="163" text-anchor="middle">6</text><text class="t" x="27.3" y="86.6" text-anchor="end">6</text><text class="t" x="127.7" y="163" text-anchor="middle">8</text><text class="t" x="27.3" y="63.6" text-anchor="end">8</text><text class="t" x="151.8" y="163" text-anchor="middle">10</text><text class="t" x="27.3" y="40.7" text-anchor="end">10</text><text class="l" x="52.4" y="178.9">Measured ET<tspan font-size="7" dy="2.7">0</tspan><tspan dy="-2.7"> (mm/d)</tspan></text><text class="l" transform="translate(14.9,137.0) rotate(-90)" x="0" y="0">Estimated ET<tspan font-size="7" dy="2.7">0</tspan><tspan dy="-2.7"> (mm/d)</tspan></text><text x="50.5" y="32.8" font-size="11" stroke="#111" stroke-width="0.3">56,778</text><text x="86.6" y="32.8" font-size="11" class="b" stroke="#111" stroke-width="0.25">5</text><circle cx="134.4" cy="115.9" r="1.25" fill="none" stroke="#5a5a5a" stroke-width="1.20"/><text class="g" x="145.9" y="118.6">CLDAS</text><circle cx="134.4" cy="126.2" r="1.25" fill="none" stroke="#f24a4a" stroke-width="1.20"/><text class="g" x="145.9" y="128.9">GPR</text><circle cx="134.4" cy="136.6" r="1.25" fill="none" stroke="#1a73e8" stroke-width="1.20"/><text class="g" x="145.9" y="139.3">XGB</text></g><g transform="translate(0.0,353.8)"><g clip-path="url(#cp)" fill="none" stroke="none"><path transform="scale(.5)" marker-start="url(#Mk)" marker-mid="url(#Mk)" marker-end="url(#Mk)" d="M67 299l1 0-2 1 3 0-2 1-4 1 9-6 7 0-8-1 2 0 2 0-5-1 2 0 3 0 3 0-6-1 1 0 8 0-10-1 7 0-4-1 1 0 2 0 3 0-7-1 3 0 1 0 3 0-5-1 7 0 1 0-5-1 1 0 1-1-3-1-2-1 4 0 2 0 1 0 1-2-2-2 1 0 1-1 7-14 6 0 1 0-3 4 1 0-7 2 6 0-5 1 7 0-6 2 3 0-7 1 10 0 0 1-11 1 2 0 4 0 2 0-8 1 3 0 5 0-8 1 4 0 1 0-3 1 2 0 8 0-12 1 1 0 2 0-2 1 3 0 3 0-8 1 1 0 3 0-4 1 1 0 2 1-1 2 13-7 3-2-4-1 4 0 9 0-8-1-5-1 7-1-7-3 3 0 0-1 10 0-9-3 1 0-4-1 1 0 1-1-3-3 1 0 4-1 8 0-12-1 2 0 0-1 5 0 4 0-2-1-7-1 7 0-1-2-3-1 3 0 3-3-4-2 2-1 1 0 0-2-2-1 0-6 14-23-1 3 4 0-11 1 10 6 2 3-3 3-2 3 3 2-6 1-1 1 2 1 4 0-1 1-1 1 0 1 2 0 0 1 3 0-12 1 10 3-4 1 1 1-8 1 7 1 1 0 5 2-13 2 1 0 0 2 7 0-1 1 2 0 1 0-7 1 2 2-4 2 6 0 5 4 5 3 6-9-3-3-6-1 9-4-7-3 7 0-9-2 2 0 7 0-9-2 11 0-7-1 7 0-11-2 1 0 5 0-1-2 2 0-1-1 0-1-5-1 2-2 1 0 2 0-2-1 9 0-3-3-8-1 3 0-3-1 0-2 10-1-10-1 0-1 9 0-3-1 0-1 5-1-8-1 4 0-4-1 4 0-1-4 3-1 1-1-4-1-2-4 4-3-8-2 7-2 2-4 14-18-9 7 11 12-13 4 2 0 0 6 3 0 3 1 1 2-7 4 6 0 2 0-7 2 4 0 3 0-9 2 3 0 1 0 6 0-3 1-8 2 10 0 1 0-9 1 2 0 1 0 4 1-6 1 0 3 5 0-4 1-4 1 7 1 3 2 1 1-11 1 6 2 6 0-9 1 1 0 1 2 2 4-7 1 10 3-4 1-3 2-3 4 27-14-11-5-2-2 8-2-4-3 1-4 4 0-3-4-6-4 11 0-6-1 4-2 3 0-3-2 2 0 1 0-4-3-5-1 7-1-10-3 6 0 3 0-4-2 4 0 2-1 2-4-10-1 7-1-10-1 9-2 1-3-5-6 0-1 6-3 1-3 0-2 1-8-4-4-2-21 11 9 5 3-5 5-1 12-2 1 5 1 7 0-9 2 9 1-11 5 6 2-7 2 0 2 10 0 2 1-12 1 6 3-4 2 3 0-6 2 6 1 1 0-4 7 7 1 0 1-7 1 7 1-10 2 9 1 4 4-10 7 2 2 2 2 4 1-5 5 21 0-2-8 1-3-7-5 0-3-5-1 13 0-8-10 8-2-11-1 5 0 1 0-5-1 10 0-11-1 5-3 3-1-6-2-2-1 11-1-10-1 9-1-11-3 6 0-3-1 1 0 1 0 1-1 2 0 1 0 1 0-5-3-5-2 4-2-2-4 1-3 4-2 4-2-9-2-3-1 2 0 11-3-13-5 7-36 2-1 15-18-4 34 5 5 0 3-11 2 7 4 2 3 2 2-9 3 9 3-3 1 1 1-8 1 5 2 2 0-7 2 9 0 2 1-7 2 8 0-11 1 2 1 4 8-5 2 2 2 0 1-3 1 11 0-13 3 13 0-5 4-5 1-1 4 2 1-2 2 4 0 1 0-3 4 0 3 8 0-9 2 5 6-6 1 9 0-2 3 0 6-7 11 12-23 2-1 4 0 2-7 2 0-6-2-3-10 3-5 7-2-5-1 6 0-2-1 0-1-10-1 1 0 9 0-9-1 11-1-2-1-5-2 2 0 4-2-9-1 3 0 3-1 1 0-3-1 5 0-6-1 6-1-2-1 1-2-4-1-1-2-3-3 4-1 2 0 2 0-3-2 4-1 1 0-10-4 11-1-8-4 1 0 3-7-9-8 7-4 5-17 10-3 4 19-8 3 9 8-4 1 0 3 1 0 1 5-2 2-6 2 3 0-1 1 6 1-1 2-3 2 1 0-2 3-6 1 8 1-1 2 0 4-7 2 6 1-3 1 6 4-6 1 3 0 6 1-5 1-3 1 4 1-6 1 2 3 9 2-7 1 1 2-7 1 13 0-12 5 1 0 9 4 1 3-10 9 2 2 4 23 15-49-5-1 7-3-2-1-5-1 7-1-1-3 0-1-4-2-2-2 3 0 6 0-13-1 6-3 5-2-11-1 1-1 10-3-4-5 0-1 6-1-7-1 2 0-5-12 6-1-7-2 2 0 8 0-9-2-3-7 5-3-1-8 21 3-11 1 8 9-1 2 4 2-1 5-7 1 1 2-1 1 1 1 6 0 0 3 3 1-1 2-8 2 3 2 5 0-5 8 6 1-1 2-9 4 4 0 4 13-2 1 5-16 6-1-3-6 3-1-6-6 9 0-8-1 0-5-1-14 1-2 2-9 0-14 18 40 9-1 2-3-1-1 11-27 6 6 7 17-10 11 1 3"/><path transform="scale(.5)" marker-start="url(#Mr)" marker-mid="url(#Mr)" marker-end="url(#Mr)" d="M69 290l-1 1 1 0-4 3 1 1 9-3-4-3 3 0 4 0-5-1 10 0-10-1 1-1 4 0 2 0-9-1 1 0 2 0 1 0-3-1 1 0 1 0 4 0 2 0-2-1 3 0 1 0-2-2 2 0-5-1 2 0 1 0 1 0 2 0-1-1-1-1 1-1 1-3 11-16-2 4 2 0 2 1 1 0 0 1-1 1 0 1-8 1 2 0 4 0-5 1 2 0 1 0 2 0-10 1 1 0 2 0 3 0 3 0 1 2 2 0-4 1 4 0-8 1 0 1 1 0-2 1 1 0-4 1 6 0-4 1 1 0 4 0-5 3-1 1-1 11 14-16 12-2-6-2-5-3 9 0-9-3 8 0-5-1 2 0-4-1 2 0-3-1 3 0 2 0-4-2 6 0-4-1 4 0-2-1 7 0-12-1 5 0 1 0 1 0 4 0 1 0-10-1 5 0 1-1 2 0-4-1-4-1 1 0 4 0-6-1 7 0 3 0-10-3 2 0 5 0 3 0-6-3 5 0 0-1 0-1-3-2 1-2 0-3-2-2 3-1 14-23-9 10 11 1-3 2 2 0-11 2 5 4 4 0 1 0 2 1-10 1 3 0 3 2 5 0-11 1 4 0-1 2 1 0 2 0 2 0-5 1 6 0-8 2 8 0 1 0-11 1 1 0 10 0 1 0-11 1 2 0 9 1-13 1 4 2 4 0-6 1 2 0 1 0 3 0-5 1-2 1 4 1 2 0-2 1 7 0-11 1 1 0 7 0 3 0-11 1 3 0 4 0 2 0-4 1 3 0-3 2 4 2-10 1 6 3 2 3 7 7 12-11-10-8 4 0-3-2 8-3-8-1 8-6-4-2-4-1 4 0 1 0 1 0-10-1 3 0 1-1 0-1 1 0 6-1 2 0-8-1 1-3 3 0 1 0-8-1 2 0 1 0 1-1-1-1-1-2 8-1-8-1-3-1 4 0 4 0 2-1-6-2 5 0 2 0-8-1 2-3 6-2-2-1 3-5 0-16 11-13-1 6 1 6 3 3-3 1 1 0-4 5 2 2 1 0 1 0-8 1 8 0-5 2 5 3-6 1-5 1 8 0 5 0-5 1 5 0-13 1 11 0-11 2 12 0-12 1 5 0 2 0 2 1-5 2 1 0 7 3-12 1 5 0-5 1 1 1 7 2-7 1 2 1 7 2-9 1 2 1 4 0-7 6 3 8 2 6-2 4 11-26 1-4 8-3-9-1 10-3-1-1-5-2 8-1-12-2 13 0-13-3 4 0 3 0-5-2 5-3 2 0-7-4 7 0 2 0-6-2 2 0 5 0-9-1 3-1 1 0 1 0 1-1-6-1 1 0 3 0-2-1 5 0 2-1-12-2 3 0 4 0 3-1-3-1 5 0-6-2 1 0 1 0 4 0 1 0-8-3 6 0 0-4-1-1 2-7 0-1 12-49-1 30-3 12 5 2 0 5-10 2 2 0 6 2-6 1 8 1-6 1 3 0-3 1 3 0 5 0-8 2 5 0-6 1 2 2 6 0-3 1 4 0 0 1-2 1-6 2 4 0 2 0-10 1 6 0 3 0-5 1-5 1 4 1 8 0-4 2 2 1-8 1-1 1 1 0 1 0 5 0-5 1 5 6 2 1-6 2-2 1 6 0 4 0-4 1-5 2 2 1 3 0 3 2 0 4-11 1 2 1 5 1 1 0-2 2 2 5-7 6 9 43 7-59 1-10 6 0-4-7-6-1 10-1-3-3-7-1 1 0 5 0 3 0 4-1-5-1-2-4 1-3 6 0-9-1 3-2 4 0-5-1 7 0-9-3 8 0-9-1 8-1 1 0 1 0-11-1 5 0 4-3-7-2-2-2 3-1-4-2 11-1-9-6 1 0-1-1 10-3 0-1-10-1 1 0 8-1-8-1 3-4-5-8 9-15 16 7-3 8-8 2 6 1-4 3-1 10 3 0 1 0 5 0-10 1 4 0 5 0-7 1 5 0 4 0-9 2 8 0-3 1-6 1 6 0 2 0-9 1 2 3 4 0 5 0-5 1 4 1-7 1 2 0 6 0-13 1 0 1 5 0 5 0 2 0-5 1 6 0-13 1 2 0 5 0-6 1 6 2-3 1 1 5 4 0-9 2 1 0-1 3 2 0 3 2 1 1-6 1 3 3 1 0 4 3 0 7-3 6-5 20 1 0 13-29 5-9 1-3 2-5 4 0-11-2-1-4 9 0-6-1 5 0-3-1 3 0 3-2-7-1-2-3 2-1 1 0 0-1-5-1 12 0-9-2 4-1 5 0 1 0-3-3 3 0-4-1 0-1 0-4 4 0-11-1 1 0 6 0 3-1-10-1 4-2 7 0-12-1 5 0 1-1 2 0 2-1-11-2 12 0-3-2-5-1 9-1-5-1 5 0-13-1 11-1-4-2 2-8-4-3 2-9 5-1-6-24 9 31 7 4 2 0-7 7 5 1 3 1-11 1 10 4 3 0-5 2 2 1 1 0-10 1 7 0-5 1 3 1 4 0-9 1 2 0 1 0 6 0-3 2-7 1 1 0 11 0-10 3 4 0-3 1 2 0 7 1-8 2 1 0-4 1 1 0 9 1-8 5 0 1 3 0 3 0-5 3 7 0-11 3 4 0 3 0 3 2 0 1 1 4-8 1-3 9 2 5 4 2 0 9 11-18-1-9 8 0-10-6 13-1-11-1 10 0-8-3 9-5-6-1-1-2-5-1 2 0 2-3 1 0 4 0 3 0-2-1-7-1 7 0-10-1 2 0 4 0 0-1 2 0 1-1 3 0-9-1 2 0 1 0 2 0 3-2 1 0-7-1-2-3 1 0-2-1 4-1 0-6 4-6-3-2 1-3 3-2-3-21 13 26 5 1-13 1 4 1 9 1-1 2-10 2 3 0 6 1-11 1 6 2-2 2 4 0 1 0-3 1-2 1 4 0 1 0 1 2-5 1 4 0-8 1 6 0 6 0-9 1-4 1 8 0-6 2 1 0-1 1-2 1 11 0 0 1-8 1 5 0-8 1 12 2-8 1 2 1 5 0-8 1 4 3 2 1-6 2-2 1 8 1-6 2-1 5 15-16 1-2 8-20-9-7 0-2-1-2 11 0-13-12 14 21 10 1 13 13 2-8-3-28 2-26 11 40 1 1 8 13-2-19 2-48"/><path transform="scale(.5)" marker-start="url(#Mb)" marker-mid="url(#Mb)" marker-end="url(#Mb)" d="M69 295l0 3-1 1 0 1-3 2 8-5 3-1-2-1 8 0-10-1 3 0-4-1 1 0 2 0 0-1 5 0-6-1 4 0 2 0-5-1 5 0 0-1 2 0 1 0-8-1 1 0 4 0 2 0-4-1 3 0 2 0 1 0 0-1-6-2 4 0 1 0-2-1 3 0-5-1 4 0-3-3 4 0 0-2-6-8 20-14-1 8-4 2 5 0-6 1 5 0 1 0-7 1 7 0-8 2 5 0 1 0 1 0 0 1-9 1 3 0 2 0 2 0 3 0-13 1 3 1 5 0 1 0-6 1 2 0 5 0 3 0-11 1 4 0 1 0 1 0 3 0 1 0-7 1 4 0 1 0 1 0 2 0-8 1 2 0 3 0-9 1 1 0 1 0 5 0 1 0-8 1 11 0-10 1-1 1-1 2 2 0-2 1 1 0 1 0-1 1 1 0 3 0-5 2 4 0 2 0 3 0 4 0-13 1 8 1 1 1-3 1 10-9 1-2 1-1 5-4-5-1 4 0-1-1-6-4 1 0 5 0-3-1-4-1 3 0 3 0 1 0 4-2-11-1 6 0-4-1 4 0 3 0 2 0 2 0-13-1 4 0 1 0-1-1 1 0-2-1 6 0 1 0-8-1 3 0 3 0-4-1 8 0-5-1 1 0 1 0-4-1 2 0 3 0 3 0 0-1-7-1 1 0 1 0-4-3 1-2 4 0 1-1 2 0-3-1-2-2 4-1-2-4 14-16 4 0-3 1-3 1 1 1 1 1-1 1 5 0-3 1-4 2-5 2 3 0 1 1 7 0-1 1-8 1 3 1-5 1 7 0-1 1-4 1 6 1 3 1-7 1 8 0-8 2 6 0 2 0-12 2 9 0 1 0 2 0-11 1 0 1 5 0 2 0 3 0-5 1 1 0-4 1-3 1 10 0-11 1 4 4-3 1 6 0-7 1 11 0-7 1 4 0-5 1 2 0 5 1-4 4-2 1-1 1 7 0-10 5 19-5-5-5 7 0-1-7 5-1-6-1 4-3-6-2 9 0-5-2 2-1 3-1-12-3 1 0 9 0-3-3 1 0-3-1 2 0 2 0-8-2 1 0 1 0 0-1 3 0 1 0 5-1-7-1-2-1 0-1 5 0 2-1 3 0-9-1-3-1 4 0 4-1-6-1 6 0-5-1 8 0-7-1 3 0 1 0-8-1 4-2 2 0 1 0-7-1 9 0 3 0-1-1-8-1 1-1-1-4 6 0-5-1 6 0-5-3 2-1 2 0-7-1 8-1 1 0-9-1 4-3-1-2 7 0-4-2 0-5 1-3 7-34-2 4 11 14-1 7-4 3 3 1-3 2 2 0 3 1 1 0-10 1 9 0-2 1-9 1 4 3 6 1-11 4 9 1 0 1 1 0-1 1-2 1-3 1-3 1 1 0 4 1 1 0 1 0 0 4-7 1 2 0 9 0 1 0-10 1 4 0-6 1 10 0 1 0-6 1 3 1-3 1-5 1 6 0 1 0-6 1-2 1 3 0 1 0 6 1 3 0-11 1 2 0 2 0-5 1 11 0-10 1-2 1 2 0 5 0 4 0-9 1 8 1 2 2-11 1 10 0-5 1-6 2 0 1 2 0 3 1 4 0 2 0-2 2 4 0-10 4 8 2-10 2 6 1-7 1 1 8 19-15-5-12 6-1-6-3 2-2 9 0-12-1 10 0-9-5 8-1-8-1 2-1-2-1 12-1-12-1 2 0 4 0-5-1 11 0-11-1 7 0-9-2 3 0 5 0-1-1 1 0 2 0-5-1 1 0 1 0 4 0 2 0-1-1-4-1-7-1 5 0 7 0-11-2 5 0 3-1-4-1 5 0-3-1 3 0-7-1 0-1 4-1-3-1 6-1 2 0-11-1 2-2 2 0 6-1 1-2-6-1 0-1 4 0 0-1-5-5 3 0 2 0 2 0-12-1 6-3-7-5 5 0-4-4 7-1-1-8 20-25-11 16 11 7-5 2-8 5 12 3-5 2 5 0-8 1 0 2 4 0 0 1 1 0-4 4 4 0-6 1 1 0-4 1 12 1 1 0-13 1 9 0 0 1 4 0-11 2 5 2 2 0-8 1 9 0 3 0-12 2 2 0 9 0-10 1 6 0 5 0-3 2 3 1-8 1-1 1 8 0-12 1 4 1 2 0 2 0-1 1 1 0-6 1 11 0-8 1 6 0-5 1 4 0-7 1 5 0 2 2 3 1-6 1 2 0-6 1 3 5-4 3 5 0-5 4 0 1 1 0 6 11-9 2 4 1-1 6 13-1 0-5 0-13 11-2-10-2-3-2 3-4-1-1 3-1-4-1 9-1 0-1-5-3 6 0-4-2-6-4 3-4 5-1-6-1 10 0-1-2-3-1 4-1-11-1-2-1 4 0-2-1-1-1 10 0-5-1 3-1 3 0-12-1 13 0-11-5 4 0-6-1 6 0 1 0-4-1 3 0-1-1 1 0 2 0-8-2 6 0 3 0 1-1-6-1 4-1 0-1-6-1 6-1 2-1-2-3-3-4 7-3-8-6 0-1 5-1 3-2-2-1 2-3-10-12 14-18 10 18-12 6 0 9 13 4-11 2-2 1 1 4 0 4 8 0 3 0-12 1 3 0 8 0-8 2 2 0 6 2-10 2 2 1 10 0-6 1 5 0 1 0-3 1-8 1 1 0 2 0 4 3-1 1 2 0-3 1-6 2 1 0 2 0 2 0 3 0-1 1-6 1 1 0 1 0 1 0-2 1 6 1 2 0 1 1-9 3-2 3 9 5-3 1 4 0-7 3-3 1 4 0 6 0-10 3 1 0 8 0-7 1 10 3-8 2 8 0-12 4 9 1 1 0-2 1-3 1 1 2-2 1 2 4-4 10 2 4 18-19-9-5 11 0-1-3 0-2-10-3 12-4-9-2 0-2-1-2-1-1 2 0 3-3-1-4 1-2-6-1 2 0 11 0-9-2-1-3 0-1 1-1 4-2 2-1-2-1-8-2 1-2 1 0 1-1-1-1 7 0-4-1 1 0-6-1 4-1 2 0 5 0-11-1 2 0 4-1 7 0-2-1-8-1-3-3 2-1-1-1 7 0 2 0 1 0-9-1 3 0 7 0-4-3 1 0-3-1 6 0 1-1-12-1 1 0 7-1 3-1-11-1 12 0-10-3 10-3-11-9 6-3 3-4-2-4-1-4 14 14 0 3 4 0-1 5-7 1 6 3 2 1-8 2 9 1-2 1 2 2-11 1-2 1 9 1-6 1 1 0 9 0-10 2 2 2 6 0 1 1-11 1 7 0 2 0-3 1 5 0-12 1 1 1 12 0-7 2-6 1 13 5-13 1 7 0-5 1 4 0 1 0 6 0-1 1-12 1 4 0 1 0-4 1 5 1 2 0-8 4 0 1 6 0-5 1 7 1-5 1-3 3 6 2 1 1 6 2-7 3-1 6-4 5 6 2 6 0-11 3-1 1 18 0 1-12 2-4-5-7 3-3-3-3-3-1 13-1-8-1-2-1 7-1-10-1 7 0 5-2-10-4-2-1 9 0 1 0-8-2 0-1 1-3 5 0-2-5-2-1 0-3 0-2 2 0 7 0-9-2 1-1 5-2-10-1 8 0-1-1 5 0-5-1 1-3-6-1 8 0-8-2 3-1-4-1 3-2-1-1 2 0 8 0-9-1 7 0-5-4 7-8-7-1 13-32 8 28-2 3-9 11 10 0-7 1-2 1 6 3-7 1 0 1 3 0 7 1-6 1 1 2-2 2 3 0-4 2 6 0-10 1 8 0-5 2 7 0-9 1 10 0-2 1-5 3-4 1 6 0-6 2 1 0 12 0-10 1 1 0 6 0-7 2 4 0-7 1 1 0 7 0 5 0-2 1 2 1-11 2 2 0-3 1 7 3-6 3 8 0-9 1 6 1-5 2 2 0 0 2-1 2 5 3-8 1 1 1 0 5 13 18 1-27 4-6-1-1-4-5 2-5-2-5 0-5 6 0-3-2-2-1 5 0 7 0-11-1 7-6-9-1 4-1-4-6 1-8 7 0-8-9 21 28 1 10-6 3 4 2-2 1 22 10-11-3 0-6 12-5-1-5-5-10 4-2-9-50 22 10-1 38-6 6-2 3 5 4 6 17 4-3"/></g><line x1="31.0" y1="152.3" x2="176.0" y2="14.8" stroke="#1a1a1a" stroke-width="1.15" stroke-dasharray="4.5 3.8" stroke-dashoffset="0.7"/><rect x="31.0" y="14.8" width="145.0" height="137.5" fill="none" stroke="#4d4d4d" stroke-width="1.1"/><path d="M31.0 152.3v2.4M31.0 152.3h-2.4M43.1 152.3v1.4M31.0 140.8h-1.4M55.2 152.3v2.4M31.0 129.4h-2.4M67.2 152.3v1.4M31.0 117.9h-1.4M79.3 152.3v2.4M31.0 106.5h-2.4M91.4 152.3v1.4M31.0 95.0h-1.4M103.5 152.3v2.4M31.0 83.6h-2.4M115.6 152.3v1.4M31.0 72.1h-1.4M127.7 152.3v2.4M31.0 60.6h-2.4M139.8 152.3v1.4M31.0 49.2h-1.4M151.8 152.3v2.4M31.0 37.7h-2.4M163.9 152.3v1.4M31.0 26.3h-1.4" stroke="#3a3a3a" stroke-width="0.9" fill="none"/><text class="t" x="31.0" y="163" text-anchor="middle">0</text><text class="t" x="27.3" y="155.3" text-anchor="end">0</text><text class="t" x="55.2" y="163" text-anchor="middle">2</text><text class="t" x="27.3" y="132.4" text-anchor="end">2</text><text class="t" x="79.3" y="163" text-anchor="middle">4</text><text class="t" x="27.3" y="109.5" text-anchor="end">4</text><text class="t" x="103.5" y="163" text-anchor="middle">6</text><text class="t" x="27.3" y="86.6" text-anchor="end">6</text><text class="t" x="127.7" y="163" text-anchor="middle">8</text><text class="t" x="27.3" y="63.6" text-anchor="end">8</text><text class="t" x="151.8" y="163" text-anchor="middle">10</text><text class="t" x="27.3" y="40.7" text-anchor="end">10</text><text class="l" x="52.4" y="178.9">Measured ET<tspan font-size="7" dy="2.7">0</tspan><tspan dy="-2.7"> (mm/d)</tspan></text><text class="l" transform="translate(14.9,137.0) rotate(-90)" x="0" y="0">Estimated ET<tspan font-size="7" dy="2.7">0</tspan><tspan dy="-2.7"> (mm/d)</tspan></text><text x="50.5" y="32.8" font-size="11" stroke="#111" stroke-width="0.3">51,709</text><text x="86.6" y="32.8" font-size="11" class="b" stroke="#111" stroke-width="0.25">6</text><circle cx="134.4" cy="115.9" r="1.25" fill="none" stroke="#5a5a5a" stroke-width="1.20"/><text class="g" x="145.9" y="118.6">CLDAS</text><circle cx="134.4" cy="126.2" r="1.25" fill="none" stroke="#f24a4a" stroke-width="1.20"/><text class="g" x="145.9" y="128.9">GPR</text><circle cx="134.4" cy="136.6" r="1.25" fill="none" stroke="#1a73e8" stroke-width="1.20"/><text class="g" x="145.9" y="139.3">XGB</text></g><g transform="translate(171.5,353.8)"><g clip-path="url(#cp)" fill="none" stroke="none"><path transform="scale(.5)" marker-start="url(#Mk)" marker-mid="url(#Mk)" marker-end="url(#Mk)" d="M67 286l1 5 0 2-4 3 3 0 2 0-2 1 2 0-3 1 1 0-1 1 1 0 1 0-2 1 1 0-5 1 1 0 4 0 2 0-7 1 8-1 1 0 0-2 0-1 2 0 10 0-13-1 3 0 2 0-1-1 3 0 2 0-7-1 3 0-3-1 3 0 1 0 5 0-11-1 8 0-6-1 2 0 1 0-4-1 5 0 5 0-7-1 5 0 1 0 1-1-2-1 2 0 2 0-2-1-9-1 8 0 1 0 1 0-5-1 3 0 2 0 1 0-1-1 0-1-3-1 2 0 0-1-1-1 3 0-2-1 1-2 0-1 4-24 8 10 3 0-1 1 0 1-2 1-3 1 1 1 5 0-5 1 4 0 1 0-1 3-7 1 6 0-7 1 8 0-6 1 2 1 1 0 1 0 2 0-12 1 6 0 2 0 2 0 1 0-8 1 3 0 1 0-6 1 4 0 3 0-6 1 2 0 4 0-6 1 9 0 2 0-12 1 6 0 5 0-11 1 11 0-8 1 2 0 1 0 2 0 4 1-12 1 2 0 4 0-7 1 1 0 2 0 2 0 4 0-9 1 2 0 3 0-1 1 2 0-6 1 8 0-7 1 1 1 22-6-6-1-3-1-1-1 1-3 0-1-1-2 3 0 3 0 1 0 5 0-5-1-3-2 1 0 3 0-6-1 1 0 7 0-2-1-7-1 2 0-2-1 1 0 3 0 2 0-5-1 1 0 1 0 1 0 7 0-10-1 2 0 7 0-11-1 2 0 1 0 2 0 1 0 5 0 1 0-8-1 1 0 5 0 1 0-3-1-5-1 8 0 1 0-7-1 3-1 3 0 1-1-6-1 2 0 3 0 1 0-9-1 1 0 1 0 1 0 1-1 1 0 1 0 1 0-4-1 7 0-2-1 1-2-7-1 5 0-6-1-1-2 5 0 3 0-5-1 4-1 1-3 2-2-3-2 11-8 6 2-2 1 0 1 1 0-5 1 3 0-1 3 4 0-3 1-2 1 2 0 3 0-1 1-8 1 8 0-4 1 3 0-8 2 6 0-8 1 2 0 1 0-1 1 2 0 8 0-13 1 1 0 1 0 5 0 4 0-7 1 9 0-12 1 4 0 1 0 2 0-7 1 2 0 1 0 5 0 3 0-8 1 7 0-11 1 11 1-9 1 0 2 2 2-4 1 2 1 5 0-7 2 2 2 10 0-6 1 14-15 2 0-8-1 3-1-2-1 7 0-8-1 3 0 9 0-4-1-6-1 9 0-10-1 0-1 5 0 6 0-12-1 0-1 1 0 2 0 1 0 3 0-6-1 4 0-3-1 1 0 2 0 1 0-2-1 4 0-7-1 4 0 1 0 5 0-10-1 8 0 2 0-4-1 0-1 5 0-7-1 6 0-4-1 3 0 3 0-9-1 2 0 3 0-4-1 2 0-7-3 6 0 1 0 5 0-8-1 1-1 7-1-6-2 2 0-4-2 1 0 7 0-4-5 19-30-8 1 8 11 0 6-5 1-2 1 2 1 1 1 1 0-3 1 1 0 2 0-7 2 7 0-7 1 3 1 7 0-4 1 1 0 3 0-7 1 0 2 7 1-9 1 1 0 2 0 5 0-10 1 3 0 7 1-9 1 2 0 5 0 2 0-12 3 7 0 1 0 5 0-6 1 3 0-3 2 6 0-12 1 1 0 1 0-1 2 3 0-2 1 6 0 1 0-5 1 7 3-8 3-4 1 2 0 1 0 2 0 1 0-6 2 5 5 12-13 0-5-1-2 7 0-4-1 4-1 2 0-9-1 1-1 5 0-6-1 1 0 4 0-6-1 1 0 6 0-4-1 8 0-7-3 4 0 2 0 0-1-2-1-9-1 12 0-8-1 2 0 6-1-10-1 4 0 4 0-6-1 4 0-6-1 2 0 1 0 3 0 2 0-8-1 2 0-4-1 5 0 8 0-4-1 2 0 2 0-10-1 2 0 1 0 3 0-1-1 5 0-8-1 7-1-2-1 1 0 2 0-13-2 12 0-2-2-9-2 5-1 2-1 3 0-1-1 1-2 0-4 2-6 13-7-7 4 1 4 5 2-9 1 5 0 6 1-2 1-8 1 1 1 4 0 1 0-8 1 1 0 2 0 9 0-1 1-6 1 2 0 2 0-8 1 5 1 1 0 5 0-13 1 1 0 5 0 3 0 4 0-11 1 3 0 1 1 3 0 3 0 1 0-8 1 8 0-11 1 10 1 1 0-5 1 1 1-5 1 5 0-5 1 8 0 1 0-12 2 5 0 6 0-11 1 2 0 5 0 5 0-3 1 2 0-5 1 2 0-3 1-5 3 7 1-8 1 1 0 10 0-8 4 2 1 2 1 6 4 4-13 5-2-2-3 3-2-4-1 0-2-4-1-1-1 0-2 6 0-5-2 3 0 2 0-4-1 0-1 5 0 3 0 1 0-6-1 4 0-8-1 1-1 1 0 6 0-2-1 4 0-11-1 3 0 3-2 3 0 1 0-7-2 0-1 3 0-2-1 6 0 3 0-3-1-3-1 5 0-6-1-5-1 2 0 4 0-5-1 4 0 6-1-1-2 2 0-12-1 9 0-1-1 2 0 2-1-1-1-3-1 2-2-1-3-2-1-2-7 19-2 0 3 2 4-10 4 0 2 3 0 3 1 1 0-3 1 1 0 0 2-8 1 1 0 3 0 5 1 1 0-7 1 6 0 2 0 1 0 1 2-5 1-6 1 3 1 6 0 1 1-10 1 3 0-1 1 5 0-8 1 6 1-6 2 4 1-2 1 2 1-2 1-2 1 1 9 2 0 12 0 4-12 5-7-9-3-2-1 5-2-3-2 4-1 1-1-6-5 2-1 1-1 2 0 2 0-5-2 1-1 1 0-1-2 7 0-2-1-7-2 0-1-1-1 2-3 9-2-9-3 18-8-2 9-5 1 9 7 4 0-8 3-3 3 11 10 1-1 5-19-1-15"/><path transform="scale(.5)" marker-start="url(#Mr)" marker-mid="url(#Mr)" marker-end="url(#Mr)" d="M68 288l1 2 0 1-3 1 2 0 1 0-2 1-4 1 1 0 3 0-1 1-3 3 2 0 3 3 13-5-11-2 4 0 0-1-4-2 5 0-3-1 2 0 1 0 4 0-9-1 1 0 1 0 1 0 1 0 2 0 1 0 0-1 1 0 2 0-8-1 2 0 5 0 1 0 1 0 1 0-7-1 1 0 4 0-2-1 1 0 1 0-6-1 1 0 3 0 1 0 2 0-1-1 1 0-8-1 1 0 5 0 1 0 2 0-7-1 5 0 3 0-8-1 2 0 1 0 2 0 3 0-5-1 5 0-5-1 4 0-2-1 2 0 1 0 0-2-1-1 0-2 1-4 10-7 2 0-4 2 5 0 0 1-8 2 6 0 3 0-3 1 2 0 1 0-8 1 8 0-4 1 1 0-6 1 1 0-1 1 4 0-6 1 5 0 1 0 1 0 1 0 1 0-11 1 1 0 3 0 2 0 2 0 4 0-6 1 1 0 1 0 5 0-13 1 3 0 2 0 4 0-7 1 1 0 2 0 1 0-2 1 3 0 6 0-12 1 6 0-6 1 1 0 2 0 1 0 4 0-7 1 3 0 4 0-8 1 3 0-4 1 1 0 1 0 3 0-2 1 2 0 1 0-6 1 8 2-6 1-2 5 19-14-5-1 5 0 0-1-5-1 2-1 5 0-6-2 10 0-8-1-3-1 2 0 1 0 5 0-5-1 2 0 2 0 3 0-9-1 2 0 5 0-8-1 1 0 2 0-3-1 2 0 1 0 3 0 3 0 2 0 1 0-11-1 2 0 1 0 5 0 1 0-8-1 2 0 2 0 1 0 4 0-11-1 4 0 1 0 3 0 1 0 4 0-7-1 1 0 2 0 1 0-5-1 5 0-6-1 4 0-3-1 2 0 3 0 3 0-8-1 3 0 1 0-2-1 2 0-3-1 2 0 1 0 1 0 1 0-3-1 3 0 1 0-8-2 2 0 0-1 2 0 4-5 14-15-5 2 5 2-9 1 8 0 2 0-8 2 3 0 3 1 1 0-5 1 2 0 2 0 1 0-3 1 1 0-2 1 4 0 1 0-5 1-6 1 5 0-1 1 2 0 1 0 1 0 1 0 1 0-6 1 2 0 1 0-8 1 5 0 2 0-5 1 4 0 2 0-9 1 1 0 4 0 1 0 3 0 1 0 1 0 2 0-10 1 3 0 3 0 4 0-13 1 2 0 2 0 8 0 1 0-13 1 1 0 1 0 1 0 3 0 3 0-7 1 2 1-1 1 2 0-5 1 1 0 1 0 2 0-3 1 3 0-2 1 0 1 9 0-8 1 3 0 0 1-6 2 4 11 12-12 4-7-6-1 1-2-1-2 0-1 1 0 4 0-4-1 4 0 3 0-5-1 4-1-4-1 1-1 6 0-8-1 0-1 9 0-7-1 5 0 3 0-12-1 11 0 2-1-11-1 1 0 1 0 3 0-7-1 1 0 6 0 2 0 1 0-9-1 7 0 1 0 1 0-9-1 5 0 1 0 2 0-9-1 1 0 7 0 1 0 1 0 1 0-8-1-3-1 4 0 2 0 3 0-7-1 2 0 1 0 1 0 2 0 5 0-3-1 1 0-7-1-2-1 1 0 2 0 3 0 3 0 1 0-3-3 3-1-2-1 3-1-6-1 3-1-2-11 19-12-2 6-6 3 5 0 1 5-10 2 7 0-5 1-3 1 6 0 6 0 1 0-2 1-5 1-3 1 2 0 4 0 4 0-7 1 1 0 1 0 2 0 3 0-9 1 2 0 4 0-10 1 1 1 8 0 1 0-10 1 1 0 4 0 2 0-5 1 5 0 6 0-5 1 2 0 2 0-11 1 9 1-10 1 1 0 1 0 2 0-4 1 2 0 6 0-8 1 1 0 1 0 1 0 2 0-3 1 4 0 3 0 2 0-11 1 2 0-1 1 8 0-8 1 1 0 7 0-9 1 1 0-1 1 2 0 2 0 2 0 5 0-6 2 2 0 5 0-6 2-5 2 5 0 6 4 8-2-6-2 2 0 0-11 3-1-4-1 1-1-2-1 0-2 4 0 3 0 1-1-7-2 4 0-5-2 7 0-6-1 3 0-3-1 4 0 6 0-9-1 3 0 1 0-6-1 4 0-3-1 3 0 5 0 1 0 3 0-12-1 3 0 4 0 5 0-13-1 4 0 3 0 1 0 4 0-9-1 2 0 2 0 2 0 2 0-8-1 5 0 1 0 3 0 0-1 1 0-3-1-7-1 2 0 6 0 1 0-9-1 3 0-4-1 2 0 8 0 1 0-9-1 5-2 0-1 2 0-6-1 8 0 0-1-7-1 7 0-11-1 6 0 1 0-3-1 3-1 3 0-5-1 4 0 2-1-4-8 17-7-8 2 7 0-10 1 9 3-1 3 3 1-11 1 3 0-3 1 3 0 6 0-8 1 2 0 6 0-9 1 2 0-1 1 6 0-7 1 3 0 4 0 4 0-10 1 2 0-3 1 4 1 1 0 4 0-8 1 5 0 4 0-4 1 4 0 1 0-9 1 2 0 6 0-9 1 6 0-6 1 3 0 1 0-3 1 2 0 1 0 1 0 5 0-3 1-5 1 9 0-11 2 6 0 2 0-6 1-4 1 5 0 5 0-7 1 1 0 4 3 2 1-6 8-4 2 27-10-12-8 1-1 0-3 7 0-9-1 8-1-8-2 2-1 10 0-11-1-1-1 4 0 5 0 1 0-4-1 3 0 3 0-9-1-2-1 7 0 2 0-2-1 1 0-8-1 7 0 1 0-8-1 3-1 1 0 5 0 1-1 2 0-12-1 2 0 1 0 4 0 5 0-13-2 2 0 3 0 5 0 2 0-10-1 3 0 5 0-8-1 2 0 4 0 3 0 2 0-10-1 6-1-7-1 1 0 2 0 1 0 2 0 2 0 1 0 1 0-10-1 8 0-4-1 5-1 0-1 1 0-1-1 2 0-7-1 7 0-1-1-2-2 3 0-3-1 1 0 1-2 1 0-1-1 12-17 0 2 3 8-11 3-1 1 5 0 1 0 0 1 1 0-6 2 5 0-1 1 5 0-10 1 4 0 1 0 4 0 3 0-13 2 4 0 4 0 2 0 1 0-8 1 4 0 3 1 1 0-11 1 2 0 1 0 2 0 1 0 1 0 2 0-8 2 11 0-12 1 2 0 1 0 9 0-6 1 2 0 5 0-13 1 0 1 2 1 3 0 7 0-12 1 1 0 9 0-10 1 2 1 1 0 2 0 3 0 1 1 4 0-10 2 2 0 0 2-5 2 8 0-3 2 3 1-6 2 12-13 1-1 2-5 7 0-8-1-2-1 10 0-10-1 0-1 7 0-7-1 5-2 2 0 1 0 4 0-12-2 1 0 6-1 0-2 6 0-13-1 4 0 2 0-4-2 3-1-3-1 5 0 3 0-6-1 9 0-11-2 8 0 1 0 2 0-8-1 2 0 1 0-5-1 8-1-6-23 21 17-7 10-4 3-1 1 0 2 0 1 0 6 0 2 15-7 2-19 4-3-5-2"/><path transform="scale(.5)" marker-start="url(#Mb)" marker-mid="url(#Mb)" marker-end="url(#Mb)" d="M66 294l2 0-3 3 1 0 1 0-1 1 3 0-4 1 4 0-6 1 2 0 2 0 2 0-6 1 2 0 1 0-3 1 3 0 3 0 3 0 1 0-3-1 0-1 2 0-2-1 1 0 2 0 5 0-7-1 6 0 4 0-11-1 1 0 1 0 1 0 1 0 4 0-7-1 3 0 3 0 4 0-7-1 1 0 3 0-5-1 2 0 6 0 1 0-9-1 1 0 3 0 1 0 4 0-7-1 3 0 3 0-9-1 2 0 1 0 2 0 1 0 2 0 1 0-7-1 2 0 3 0 2 0 2 0-12-1 1 0 7 0 4 0-8-1 4 0 4 0-8-1 2 0 4 0-4-1 1 0 2 0 1 0 2 0-6-1 2 0 1 0 2 0-5-1 2 0-1-1 4 0 1 0-1-1 1 0-4-1-1-1 3 0 1 0 0-1 0-1 0-2 1 0-2-1 15-13-5 1 5 0 1 1-1 1 1 1 0 1-5 1 3 0-4 1 4 0 1 0-5 1-2 1 1 0 1 0 1 0 4 0 1 0-7 1 2 0 1 0 2 0 1 0-6 1 1 0 1 0 3 0-10 1 5 0 1 0 2 0 2 0 1 0 1 0-5 1 3 0-10 1 1 0 6 0 3 0-8 1 1 0 2 0 2 0 2 0 2 0-12 1 1 0 1 0 3 0 5 0 2 0-11 1 0 1 2 0 10 0-13 1 2 0 3 0 1 0 5 0-11 1 1 0 3 0 1 0 1 0-6 1 1 0 1 0 2 0 5 0-9 1 1 0 1 0 1 0 4 0 5 0-9 1-3 1 7 0 3 0 2 1-10 1-2 4 2 0 4 0 0 3-6 1 1 0 13-2 0-9 2-2-2-2 3 0 1-2-3-1 3 0 2 0-4-1 3 0-5-1 1 0 1-2 3 0 2 0-5-1 3-1 6 0-4-1-6-1 5 0-6-1 2 0 3 0 2 0 1 0 3 0 2 0-12-1 3 0 1 0 1 0 4 0-9-1 7 0 3 0 1 0-11-1 2 0 6 0 3 0-12-1 2 0 3 0 7 0 1 0-10-1 2 0 3 0 1 0 2 0-11-1 4 0 3 0 6 0-12-1 2 0 7 0-7-1 4 0 3 0 3 0-11-1 2 0 3 0-6-1 4 0 1 0 1 0 4 0-9-1 6-1 2 0 1 0 1-1-11-1 5 0 6 0-5-1 2 0 4 0-9-1 6 0 1 0 1-1-5-1 5 0-4-1 1 0-1-1 4-2-4-2 5-1-1-2 15-17-1 3 1 0-9 5 7 0 1 0-4 1 2 0 3 0-5 1 2 0 0 3-10 1 11 0 1 0-6 1 2 0 3 0-6 1 5 0 2 0-2 1-2 1-8 1 5 0 0 1-3 1 3 0 7 0 1 0-7 1 4 0 1 0 2 0-12 1 3 0 5 0 1 0 1 0-9 1 1 0 9 1-8 1 3 0 1 0 1 0 1 0 1 0 2 0-11 1 8 0 2 0 1 0-13 1 4 0 1 0 1 0 2 0 5 0-11 1 6 0 3 0-6 1 0 1 3 0 5 0-10 1 1 0 2 0 1 0-7 1 1 0 1 0-2 1 5 0-5 1 2 0 3 0 8 0-13 1 7 0-2 1 1 0-6 1 1 0 5 0 1 1-7 1 7 2-4 1 7 0 2 10 14-19-3-1-7-3 1 0 7 0-2-1-6-1 7 0-9-1 1 0 6 0-4-1-1-1 2-1-4-2 3 0 2 0 1 0 5 0-5-1-3-1 4 0 3 0 1 0-8-1 1 0 1 0 5 0-10-1 2 0 4 0 1 0 4 0-9-1 1 0 4 0 6 0-13-1 1 0 4 0 6 0-9-1 4 0 2 0-7-1 4 0 8 0-12-1 8 0 1 0 1 0 1 0-10-1 3 0 3 0 1 0-5-1 3 0-5-1 5 0 2 0 4 0-9-1 2 0-3-1 8 0-2-1 2 0-6-1 2 0-2-1 5 0 3 0-7-1 5 0-7-1 7-1-5-2 3 0 3 0-1-2-8-2 9 0-11-3 10-2 1 0 14-21-5 4 3 6-10 1 7 0 1 1 4 0-4 1 4 0-4 1 1 0 4 0-3 1-4 1 6 0-1 1-7 1 8 0 0 1-1 1 1 0-10 1 5 0 2 0 1 0 2 0 1 0-7 1-6 1 2 1 5 0 1 1-8 1 6 0 5 0-10 1 3 1-3 1 2 0 2 0 3 0 1 0 2 0 1 0 1 0-9 1 4 0 4 0-11 1 4 0 6 0-9 1 2 0 1 0 1 0 2 0-8 1 2 0 2 0 1 0-2 1 4 0 2 0 4 0-8 1 1 0 2 0-6 1 3 0-4 1 1 0 4 0-6 1 1 0 3 0 1 0 4 0-5 1 6 0 1 0-11 2 4 0-2 1-1 1 1 0 8 0 1 1-11 1 11 0-10 1 1 0 3 0 6 0-9 1 4 1-6 1 3 0 0 1 1 2-4 3 2 3 17 0-5-8 7-6-7-1 12 0-10-1 1-1 9 0-7-1-5-1 3-1 10 0-3-1-9-1 11 0-12-1 6 0 2 0-3-2 1 0-5-1-1-2 0-1 4 0 2 0 3 0-2-1 3 0-10-1 3 0 2 0 8 0-9-1-3-1 5 0-4-1 2 0 1 0 7 0-7-1 4 0 2 0 1 0-12-1 3 0 4 0 1 0 4 0-11-1 8 0-8-1 2 0-3-1 4 0-2-1 6 0 2 0 3 0-10-1 5 0 3 0-10-1 1 0 1 0 1 0 3 0 2 0 4 0-7-1 3 0 4 0-9-1 2 0 5 0 1 0-8-1 3 0 2 0 4 0-7-1 3 0 2 0-5-1 2 0 2 0 3 0-6-1 4 0-10-1 3 0 3 0 1 0 2 0 0-1 3 0-11-1 5 0-4-1 6 0 2 0 1 0-7-1 3 0 1 0 3 0 1 0-7-1 5 0 0-1-9-1 2 0 4 0-3-1 2 0 4 0-8-3 8-1 2 0-11-1-2-5 7 0 4-1-9-15 13-3 12 0-3 6 1 4-1 2 3 2-4 1 2 0-8 2 3 1 6 0-10 1 2 0 6 0 1 0-2 1 3 0 1 0-10 1 3 0 3 0 0 1 1 0 2 0-11 1 6 0 2 0-4 1 4 0 2 0 2 0-7 1 4 0-7 1 5 0 1 0 2 0-11 1 3 0 1 0 6 0-9 1 1 0 1 0 3 0 2 0-4 1 8 0-9 1 5 0 1 0 4 0-10 1 1 0 1 0 3 0-5 1 5 0 2 0 3 0-12 1 2 0 7 1-10 1 5 0 5 0-5 1 0 1 1 0 1 0 1 0 1 0 1 0 3 0-12 1 1 0 0 1 1 0-3 1 6 0-6 1 3 0 1 0-3 2 12 0-13 1 3 0 2 0 2 0 1 0-8 1 1 0 2 0 1 0 7 0-10 1 1 0-1 1 2 0 7 0-10 2 1 0 6 2-6 1 2 0-3 1 11 0 0 1-3 4-3 1 1 4-3 18 11-27 8-4-7-6 0-2 6 0 2-2 0-1-8-1 3 0 1-1-1-2 5 0-6-1-1-1 5 0-6-3 1 0 1 0 5 0 1 0 3 0-11-1 6 0-6-2 8 0 1 0-8-1 7 0 1 0-10-1 3 0 4 0 2-1 2 0-8-1 3 0 5 0-3-1 1 0-7-1 2 0 5 0 1 0 1-1-6-1 2 0 1 0 5 0-3-1 1 0-11-1 1 0 9 0 3 0-13-2 11 0-10-1 1 0 0-1 1 0 1 0 3 0 2 0 4 0-8-1 5 0 2 0-8-1 2 0 6 0-1-2 0-1 2 0-7-2 1 0 5-1-8-2 2 0 1 0 2-1 4-1-7-1 7-5 0-1-6-8 14-5-5 1 6 0-1 4 2 0-8 4 9 2-3 1 2 0-2 1 2 1-5 1 4 1 4 0-7 1 3 1 1 0 1 0-10 1 2 0 9 0-11 1 6 1 3 0-5 1 0 1 2 0 6 0-2 1-9 1 4 0 4 0 3 0 1 0-8 1-2 1 2 3 1 0 1 0 4 0-6 1 1 0 4 0-10 2 2 0 2 0 3 0-1 1 2 0 2 0-10 1 7 0 2 0-7 2 1 1 3 0-3 1 8 0-6 1-1 5 4 1-4 1-2 1 2 0-4 4 4 12 17-24-2-2-4-2 2-1 2 0 2-1-2-2 6 0-2-2 1 0-10-1 12 0-11-1 8-1 1 0-5-2 2 0-6-1 6 0-5-2 2 0-3-1 5-1 1-1 1 0 3-1-5-2 2 0 1 0-8-1 4 0 2-1 4 0-2-1-5-1-3-1 3 0 7 0-11-1 2-1-2-1 11 0-11-1 4-4-1-2 6-1-4-2 10-11 6 11 0 3 4 0 1 2-11 3 2 0-1 2 2 2 7 0-10 1 7 1-6 3 10 0-7 3-5 3 10 10 6-12 0-14-1-11"/></g><line x1="31.0" y1="152.3" x2="176.0" y2="14.8" stroke="#1a1a1a" stroke-width="1.15" stroke-dasharray="4.5 3.8" stroke-dashoffset="0.7"/><rect x="31.0" y="14.8" width="145.0" height="137.5" fill="none" stroke="#4d4d4d" stroke-width="1.1"/><path d="M31.0 152.3v2.4M31.0 152.3h-2.4M43.1 152.3v1.4M31.0 140.8h-1.4M55.2 152.3v2.4M31.0 129.4h-2.4M67.2 152.3v1.4M31.0 117.9h-1.4M79.3 152.3v2.4M31.0 106.5h-2.4M91.4 152.3v1.4M31.0 95.0h-1.4M103.5 152.3v2.4M31.0 83.6h-2.4M115.6 152.3v1.4M31.0 72.1h-1.4M127.7 152.3v2.4M31.0 60.6h-2.4M139.8 152.3v1.4M31.0 49.2h-1.4M151.8 152.3v2.4M31.0 37.7h-2.4M163.9 152.3v1.4M31.0 26.3h-1.4" stroke="#3a3a3a" stroke-width="0.9" fill="none"/><text class="t" x="31.0" y="163" text-anchor="middle">0</text><text class="t" x="27.3" y="155.3" text-anchor="end">0</text><text class="t" x="55.2" y="163" text-anchor="middle">2</text><text class="t" x="27.3" y="132.4" text-anchor="end">2</text><text class="t" x="79.3" y="163" text-anchor="middle">4</text><text class="t" x="27.3" y="109.5" text-anchor="end">4</text><text class="t" x="103.5" y="163" text-anchor="middle">6</text><text class="t" x="27.3" y="86.6" text-anchor="end">6</text><text class="t" x="127.7" y="163" text-anchor="middle">8</text><text class="t" x="27.3" y="63.6" text-anchor="end">8</text><text class="t" x="151.8" y="163" text-anchor="middle">10</text><text class="t" x="27.3" y="40.7" text-anchor="end">10</text><text class="l" x="52.4" y="178.9">Measured ET<tspan font-size="7" dy="2.7">0</tspan><tspan dy="-2.7"> (mm/d)</tspan></text><text class="l" transform="translate(14.9,137.0) rotate(-90)" x="0" y="0">Estimated ET<tspan font-size="7" dy="2.7">0</tspan><tspan dy="-2.7"> (mm/d)</tspan></text><text x="50.5" y="32.8" font-size="11" stroke="#111" stroke-width="0.3">53,772</text><text x="86.6" y="32.8" font-size="11" class="b" stroke="#111" stroke-width="0.25">6</text><circle cx="134.4" cy="115.9" r="1.25" fill="none" stroke="#5a5a5a" stroke-width="1.20"/><text class="g" x="145.9" y="118.6">CLDAS</text><circle cx="134.4" cy="126.2" r="1.25" fill="none" stroke="#f24a4a" stroke-width="1.20"/><text class="g" x="145.9" y="128.9">GPR</text><circle cx="134.4" cy="136.6" r="1.25" fill="none" stroke="#1a73e8" stroke-width="1.20"/><text class="g" x="145.9" y="139.3">XGB</text></g><g transform="translate(343.0,353.8)"><g clip-path="url(#cp)" fill="none" stroke="none"><path transform="scale(.5)" marker-start="url(#Mk)" marker-mid="url(#Mk)" marker-end="url(#Mk)" d="M77 302l1-1-1-2 0-1 2 0-1-1 3 0-3-2 1-1 1 0-5-1 1 0 4 0 1 0 0-1-3-1 4 0-5-1 4 0 1 0 1 0-7-1 4 0 1 0-1-1 2 0-2-2 3-1 0-1-1-5 15-14-3 1-2 1 5 2-10 2 3 0 3 0 2 1-8 2 4 0 4 0 2 1-11 1 7 0 0 1 2 0 1 0 1 0-2 1-4 1-1 1 7 0-12 1 2 0 2 0 4 0 3 0-10 1 1 0 2 0 5 0 1 0-1 1-5 1 2 0 2 0 4 0-4 1 4 0-11 1 3 0 1 0 5 0-8 1 2 0-2 1 1 0 2 0 1 0 2 0-9 1 8 0 1 0 1 0-8 1-1 1 1 0 6 0 1 1-5 1 4 0 1 1-8 1 3 0 3 0-6 1 3 3 1 0 5 1 9-7-2-1 7-9-7-2 2 0-4-1 2 0 2-1 5 0-10-1 1 0 1 0 5 0-2-1 8 0-13-2 3 0 2 0 1 0 2 0 1 0-4-1 2 0-7-1 1 0 3 0 6 0 2 0 1 0-12-1 5 0-4-1 2 0 2 0 1 0 6 0-11-1 2 0 1 0-2-1 2 0 3 0 2 0-9-1 1 0 1 0 2 0 2 0-1-1 1 0 3 0 1 0 1 0-12-1 1 0 4 0 2-1 2 0 3 0-6-1 1 0 2 0 3 0-3-1-4-2 2 0 4 0 2-2-8-1 5 0 2 0-2-1-2-1 2-6-6-10 22-4-3 2 3 0-3 1 0 1 1 0 1 0-1 2 1 0 1 0-11 1 3 1 8 0-5 1 2 0 1 0-5 1 1 0 3 1 1 0-3 1-3 1 9 0-9 1 3 0-5 1 8 0-8 1 1 0 2 0 5 0 3 0-11 1 1 0 1 0 1 0 1 0 3 0 3 0-9 1 5 0 3 0 1 0 1 0-12 1 0 1 2 0 2 0 2 0 1 0-6 1 3 0 6 0-8 1 3 0 6 0-7 1 5 0-9 1 1 0 1 0 4 0 2 0-4 1 1 0 6 0-11 1 12 0-13 1 3 0-3 1 1 0 2 0 1 0 2 0 3 0 4 1-12 1 10 0-10 1 1 1-2 1 0 1 0 1 0 1 8 8 7-14 1 0-2-6 10 0-6-1-2-1 1-1 1 0-4-2 5 0-1-1-4-1 3 0 5 0 3 0 1 0-10-2 9 0-6-1 2 0-4-2 1 0 7 0-6-1 1 0 5 0 1 0-5-1-4-1 1 0 1 0 6 0-11-1 3 0 3 0 2 0 1 0 1-1 1 0 1 0-9-1 4-1 4 0 1 0-6-1 1 0 4 0 2 0-10-1 4 0 1 0 2 0-7-1 3 0 1 0 4 0 1 0-12-1 7 0-7-1 3 0 4 0 1 0 4 0-10-1 4 0-1-1 8 0-7-1 5-1-1-1 2 0 1 0 0-3-4-1 3 0-2-1-2-5-5-4 5-9 18-3-7 3-2 1 7 1 1 2 1 1 1 1-12 1 1 1 3 0 4 0 3 0-11 2 9 0-4 1 6 0-9 1 5 0 2 0 2 0-7 1 7 0-7 1 2 0 1 0 4 0-2 1 1 0 2 0-5 1 5 0-6 1 1 0 4 0-12 1 4 0 2 0 1 0 2 0 2 0-11 1 13 0-13 1 8 0 3 0-8 1 10 0-5 1 1 0 3 0-5 1 5 0 1 0-11 1 2 0 1 0 5 0 3 0-11 1 5 0 1 0-1 1 3 0 3 0-12 1 7 0 1 0-4 1 7 0-9 1-2 1 7 0-5 1 1 0 6 0-10 1 1 0 4 0-1 1-4 2 2 0-2 2 7 1 4 2-6 1 1 19-5 9 18-39-4-1-1-1 1-1-1-1 1 0-1-4 3 0-2-3 1 0 4 0 2 0-1-1 5 0-11-1 3 0 8 0-8-1 1-1 1 0-6-1 1 0 3-1 9 0-12-1 2 0 3 0-6-1 2 0 3 0-3-1 5 0 3 0 1 0-6-1 7 0-5-1 1 0 3 0 1 0-9-1 1 0 1 0 1 0-5-2 2 0 4 0-6-1 3 0 4 0-3-1 7 0-12-1 2-1 5 0-3-1 3 0 1 0 5 0-10-1 7 0-6-1 5 0 3 0-12-1 8 0-4-1 8-2-8-2 3 0 2 0-8-1 11 0-3-3-2-5 18-10-7 4 4 1 4 3-5 1 2 0-1 2 5 0-4 1 1 0-3 1 2 0 1 0 2 1 1 0-7 1 7 0-12 1 9 0 3 0-8 1 2 0-7 1 2 1 4 0 6 0 1 0-12 1 12 0-8 1 1 0 1 1 2 0 3 0-9 1 1 0 1 0 1 0-4 1 6 1-5 1 1 0-1 1 5 0-7 1 2 0 5 0-2 1 2 0 2 0-6 1 2 0 0 1 7 2-5 1-7 1 0 2 2 1-3 6 3 3 16-21-4-7 7-1 1 0-3-1 7 0-11-2 9 0-5-1 3 0-8-1 1 0 3 0 2 0 1-1-7-1 1 0 1 0 1 0 2 0 7 0-13-1 1 0 2 0 3 0 2 0 2 0 3 0-11-1 5 0 1 0 2 0-8-1 1 0 2 0 3 0 3 0-9-1-1-1 4 0 5 0 3 0-12-1 2-1 3 0 1 0 2 0-7-1 3 0-3-1 6 0-4-1 1-1 5 0 2 0-9-1 10 0-7-2 5-1-3-1 1 0 1-1 1 0-1-1-5-1-1-2 5-6 12-9 3 4-8 4 4 4-4 2-2 1 11 2-9 1 1 0 2 0-2 1-3 2 1 0 2 3-2 1 3 0 8 0-6 1 4 3-10 1 1 0 1 1-2 1 1 4 1 4 12-25 3-3 4-4 18-28 2 2-11 15 6 6"/><path transform="scale(.5)" marker-start="url(#Mr)" marker-mid="url(#Mr)" marker-end="url(#Mr)" d="M75 292l3-2 4 0-8-3 6 0 1 0 1 0-7-1 1 0 4 0-3-1 3 0-5-1 1 0 1 0 1 0 3 0 1 0 1 0-3-1-3-1 3 0-5-1 3 0 1 0 1 0-5-1 5 0-3-1 1 0-1-1 2 0 1 0-2-1 2 0 1 0 2 0-2-3 2 0-3-1 2 0 15-16-5 2 5 0-5 1 3 0-6 1 4 0 1 0 1 0 1 0-4 1 2 0 2 0-9 2 1 0 2 0 2 0 4 0 1 0-10 1 5 0 3 0 1 0 1 0-9 1 4 0 2 0-3 1 2 0 0 1 1 0 1 0 1 0 1 0-12 1 3 0 1 0 1 0 2 0 2 0 1 0-8 1 2 0 2 0 1 0 1 0 1 0 2 0-9 1 2 0 2 0 2 0 1 0 1 0-10 1 1 0 1 0-3 1 1 0 2 0 3 0 3 0 1 0 2 0-7 1 4 0-8 1 1 0 4 0 3 0-9 1 2 0 1 0 1 0 4 0 1 0-6 1 1 0 3 0 1 0 1 0 1 0-8 1 4 0 1 0 4 0-7 1 1 0 4 0-8 1 2 0 1 0-2 1-2 1 6 0 2 2-3 2 5 8 6-19-2-2 4-1 3 0-7-1 1-2-1-1 1 0 3 0-1-1-3-1 0-1 1 0 1 0 2 0 5 0-8-1 1 0 2 0 3 0-3-1 1 0 2 0 1 0 1 0 3 0-11-1 7 0 3 0-10-1 5 0 2 0 3 0-9-1 1 0 1 0 8 0-12-1 2 0 10 0 1 0-10-1 7 0 1 0 1 0-10-1 1 0 3 0-2-1 7 0-1-1 2 0 1 0-10-1 2 0 5 0 3 0-12-1 2 0 5 0-4-1 7 0 2 0-5-1 1 0 3 0 1-1-5-1 2 0 3-3-4-1 3-3-1-1 7-27 1 17 3 5 5 0 0 1-6 1 4 0-3 1 1 0 1 0 1 0 2 0-4 1 4 0-3 1 2 0 1 0-4 1 3 0-11 1 3 0 1 0 6 0-6 1 4 0 1 0-9 1 5 0 5 0 1 0-9 1 2 0 5 0 1 0-8 1 6 0 1 0-10 1 2 0 5 0 4 0 2 0-10 1 1 0 1 0-2 1 1 0 3 0 3 0 1 0 1 0-6 1 3 0-9 1 1 0 2 0 4 0 2 0-8 1 10 0-11 1 3 0 1 0 1 0 1 0 2 0-7 1 5 0-5 1 7 0-7 1 3 0 3 0-6 1-1 1 1 1 7 0 4 0-8 1-2 3 1 15 15-27-1-1-3-1 3 0 2 0-4-1 3 0-4-1 2 0 2-1-3-1 2 0 6 0 1 0-1-1-8-1 5 0 5 0-11-1 6 0-2-1 1 0-5-1 1 0 2 0 2 0 2 0-6-1 2 0 3 0-5-1 1 0 2 0 3 0 1 0 1 0-9-1 1 0 1 0 5 0 2 0 3 0-9-1 1 0 2 0 1 0 5 0-11-1 8 0 1 0-10-1 1 0 7 0 2 0 1 0 2 0-11-1 2 0 3 0 1 0 3 0-11-1 2 0 5 0 4 0 1 0-6-1 4 0 3 0-8-1 1 0 1 0 1 0 4 0 1 0-10-1 3 0 4 0-6-1 4 0 3 0 2 0-4-1 4 0-11-1 2 0 1 0 1 0 3 0 3 0-6-1 6-1 0-1-5-1 3 0-5-2 8 0 0-1-9-7 22-14-3 1-4 1 5 6 2 0-4 2 2 1 2 1 1 0-4 1 4 0-6 1 2 0 4 0-4 2 1 0-2 1 4 0-9 1 2 0 2 0 5 0 1 0-12 1 3 0 3 0 1 0 4 0-11 1 7 0 4 0 1 0-11 1 4 0 2 0 3 0-1 1 1 0-10 1 3 0 1 0 1 0 3 0-8 1 2 0 2 0 1 0 4 0 1 0 2 0-10 1 2 0 1 0-4 1 1 0 2 0 2 0-7 1 3 0 3 0 3 0 3 0-12 1 2 0 3 0 1 0 3 0 4 0-12 1 1 0 2 0 2 0 1 0 1 0 2 0-8 1 3 0 1 0-5 1-1 1 4 0-3 1 4 0 5 0-9 1 3 0-3 1 1 0-1 1 3 0-4 6 4 0 3 5 1 3-2 4 9-25 2 0-3-3 1 0 1 0-2-2 1 0 1 0 6-1 1 0 1-1-8-1 1 0 7 0 1 0-6-1 4 0-7-1 2 0 2 0 2 0 2 0 3 0-13-1 3 0 6 0-8-1 2 0 1 0 7 0-10-1 3 0 1 0 3 0-7-1 1 0 2 0 7 0 2 0-13-2 1 0 1 0 8 0 3 0-13-1 1 0 7 0 3 0 1 0 1 0-2-1-10-1 4 0 4 0 3 0 1 0-10-1 4 0 4 0-6-1 3 0 1 0-3-1 6 0-2-1 1 0 1 0-9-1 2 0 3 0 1 0 4 0-6-1 1 0 4 0-6-1 5 0-9-1 6 0 5 0-5-1 4 0-1-4-1-2-3-17 18 0 1 4-1 3 1 1-4 1 3 0-5 1 5 0-5 1 1 0 3 1-6 1 1 0-1 1 5 0 1 0 2 0 1 0-6 1 5 0 1 0-8 1 1 0 6 0 1 0-11 1 5 0 1 0 1 0 1 0 2 0-1 1-7 1 3 0 3 1 2 0-9 1 2 0-4 1 3 0 5 0 1 0 3 0-12 1 1 0 1 0 1 0 1 0 3 0 1 0-9 1 5 1 2 0 2 0-6 1 2 0 2 0 3 0 1 0 2 0-3 1-10 1 3 0 2 0-5 1 5 0-3 1 8 0-7 1-3 1 1 0 6 0-2 1-5 1 1 0 2 1 4 1-7 2 15-12 2-1 3 0-2-1 8 0-11-1 1 0 7-1-8-1-1-1 6-1 0-2-4-1 1 0 1 0-1-1 1 0-4-1 1 0 3 0 2 0 1 0 1 0 1 0-6-1 3-1 1 0 1 0-7-1 2 0 2 0 4 0 1 0-8-1-1-1 5 0 3 0-7-1 4 0 2 0 1 0-7-1 4 0 3 0 2 0-8-1 1 0 1 0 1 0 1 0 4 0 2 0-10-1 7 0 3 0-11-1 6 0 5 0-9-1 4 0 1 0 1 0-3-1 2 0 3 0-4-1 1 0 1 0 1 0-5-1 5 0 1 0-12-1 11 0-3-1 3-1-2-1-1-4 8-2 3 2 1 1 2 0-3 1 3 1-5 2 6 0 2 0-6 1 1 0-4 2 2 0 1 0 3 0 1 0-7 1-1 1 3 0 1 0-2 1 2 0 2 0-5 1 0 1 0 2 1 1 1 0-4 2 3 3 1 2 10-17 5-1-3-12 16-9 19-4-4-10"/><path transform="scale(.5)" marker-start="url(#Mb)" marker-mid="url(#Mb)" marker-end="url(#Mb)" d="M75 301l2-1 3-3-3-1 2 0-3-2 2 0 4 0-8-1 2 0 5 0-7-1 2 0 2 0 4 0-6-1 5 0 1 0-5-1 2 0-2-1 1 0 1 0 1 0 1 0 2 0-6-1 3 0 3 0-9-1 2 0 3 0 2 0 1 0-7-1 2 0 1 0 3 0-3-1 1 0 1 0 1 0-4-1 2 0 1 0-1-1 1 0 1 0 1 0-1-1 1 0 0-1-3-1 2 0 1 0-1-1 1-2-2-1 3-2 0-1 0-1 0-1 10-28-5 11 8 3 0 2-4 1 4 1 1 1-5 1 2 0 2 0 1 1-12 1 1 0 1 0 1 0 7 0-1 1 2 0 1 0-11 1 5 0 1 0 1 0 1 0 3 0-6 1 4 0 1 0 1 0-9 1 1 0 4 0 4 0-11 1 6 0 0 1 5 0-10 1 1 0 1 0 1 0 2 0 1 0 1 0 1 0-10 1 3 0 2 0 3 0 3 0-9 1 1 0 3 0 2 0 2 0-9 1 4 0 3 0 3 0-11 1 3 0 1 0 1 0 2 0 2 0 1 0 1 0-12 1 4 0 6 0-10 1 1 0 5 0 4 0 2 0-12 2 1 0 5 0 1 0 2 0-9 1 2 0 1 0 3 0 5 0-3 1 3 0 1 0-11 1 7 0-5 1 1 0 2 0-5 1 6 0 2 0 2 0-11 1 12 0-12 1 7 0-5 1-1 1 1 0 1 0-1 1 0 2-2 1 3 0 3 0-3 2 7 0 6-10-2-1 1 0 4-5-2-1 1 0-4-2 1 0 4 0-5-1 1 0 7 0-8-1 6 0 1 0-6-1 1 0 8 0-10-1 0-1 1 0 3 0-4-1 3 0 10 0-13-1 2 0 1 0 4 0 2 0-4-1 4 0-7-1 2 0 1 0 2 0 1 0 4 0-7-1 3 0 1 0 2 0 1 0-10-1 1 0 2 0 4 0-7-1 2 0 1 0 1 0 2 0 1 0 1 0-8-1 1 0 1 0 3 0 6 0-11-1 7 0 2 0 1 0-6-1 3 0 2 0-11-1 7 0 1 0 5 0-9-1 2 0 1 0 1 0 2 0-4-1 3 0 1 0-4-1 1 0 4 0 1 0 1 0-5-1 1 0 1 0 1 0-3-1 1 0 1 0 2 0-3-1 3 0 1 0-3-1 3 0-7-1 7 0-5-1 3 0 2 0-1-1 1 0 0-3 0-5-4-7 15-29-5 25 7 1 1 1-2 1 1 0-4 2 3 0-6 1 5 0-7 1 10 0-10 1 4 0 4 0-3 1 3 0-6 1 3 0 3 0 1 0-7 1 4 0 2 0 2 0-9 1 2 0 6 0-11 1 1 0 1 0 6 0 1 0 1 0 1 0 1 0-13 1 3 0 1 0 2 0 2 0 1 0 2 0-10 1 6 0 5 0-6 1 1 0 1 0 2 0 2 0 1 0-11 1 3 0 5 0 3 0-12 1 2 0 1 0 1 0 3 0 4 0 1 0-12 1 1 0 1 0 3 0 2 0-6 1 6 0 2 0 1 0-7 1 5 0 1 0 1 0-9 1 1 0 1 0 2 0 7 0-7 1 3 0-9 1 10 0-6 1 3 0 5 0-12 1 2 0 2 0 1 0 1 0 1 0 1 0 5 0-13 1 1 0 5 0-6 1 9 0 4 0-13 1 5 0 6 0 1 0-10 1 2 0 3 0-1 1 3 0 2 0-10 1 1 0 2 0 3 1-6 1-1 1 5 3 1 4-3 1 18-18-3-3 2 0-4-2 0-1 5-1-5-1 1 0 3 0-5-1-1-1 1 0 1 0 10 0-12-1 1 0 2 0 2 0 1 0 1 0-6-1-1-1 1 0 1 0 6 0 5 0-13-1 3 0 1 0 1 0 2 0-4-1 3 0 2 0 4 0-12-1 13 0-13-1 1 0 5 0 4 0 1 0-7-1 1 0 3 0 4 0-10-1 2 0 2 0 1 0 2 0 4 0-12-1 11 0 1 0-12-1 6 0 2 0 2 0 1 0-9-1 1 0 6 0 1 0-8-1 2 0 2 0 1 0 1 0-8-1 6 0 1 0 2 0 3 0-11-1 1 0 10 0-2-1-7-1 5 0 4 0-13-1 8-1 4 0-8-1 8 0-3-1 2-1 1 0-9-1 9 0 1-1-7-1 5 0-6-1 1 0 2 0 1-1 0-2-2-1 4 0 2 0-1-4 0-1 10-10 5 2-7 2 2 0 2 1 2 0 0 1 1 1-9 1 8 1-6 1 2 0 2 0-4 1 7 0-8 1 7 0-10 1 1 0 6 0 3 0 0 1 1 0-8 1 3 0 4 0-2 1 1 0 1 0-7 2 4 0 4 0-12 1 1 0 4 0 2 0 1 0 1 0 2 0-11 1 2 0 1 0 2 0 3 0-9 1 8 0 1 0 1 0-9 1 1 0 4 0 2 0 1 0 2 0 1 0 1 0-11 1 3 0 1 0 2 0 1 0 2 0 1 0-12 1 4 0 2 0 1 0 1 0 4 0-12 1 1 0 6 0 1 0 1 0-7 1 2 0 3 0 2 0-9 1 1 0 3 0 4 0 4 0-7 1 1 0 7 0-13 1 1 0 1 0 8 0 1 0 1 0-11 1 7 0 2 0-9 1 4 0 2 0-7 1 1 0 1 0 2 0 4 0-6 1 4 0 6 0 1 0-8 1-4 1 1 0 0 1 1 0 1 0 1 0 4 0-3 1-3 1 10 0-13 1 5 0 1 1-5 2 2 0 0 1 11-5 6 0-6-2 3-5 2 0-3-1-1-3-1-1 5 0-5-2 3 0-2-1 3 0-2-1 10 0-12-1 4 0 2 0 1 0 2 0-6-1 7-1-10-1 4 0 6 0 1 0 1 0-11-1 1 0 2 0 0-1 3 0-6-1 2 0 3 0 1 0 3 0 3 0-12-1 4 0 1 0 3 0 3 0-8-1 4 0-8-1 2 0 2 0 3 0 2 0 1 0 1 0-9-1 6 0 2 0 2 0 1 0-9-1 1 0 6 0 1 0-12-1 1 0 1 0 1 0 1 0 3 0 1 0-6-1 1 0 7 0-3-1 4 0 1 0-9-1 2 0 1 0 2 0 2 0 2 0-9-1 1 0 1 0 1 0 1 0 3 0 1 0 1 0-9-1 1 0 4 0 1 0 4 0-11-1 4 0 2 0-2-1 3 0 1 0 1 0 2 0-12-1 3 0 5 0 1 0-3-1 6 0-2-1-5-1 7 0-9-1 0-1 6 0-9-1 6-1 5 0-12-1 5 0 7 0-9-2 8 0-5-2 4-2 2 0-1-4 2-6 7 2 5 0-2 1 3 1-6 1 6 0 0 1 1 0-10 3 6 0 1 0-10 1 7 0 1 0 3 0 1 0 1 0-10 1 9 0-10 1 2 0 4 0 5 0-9 1 2 0 5 0-6 1 2 0 2 0 3 0-7 1 3 0-8 1 7 0 3 0 1 0-9 1 6 0 2 0 1 0-6 1-3 1 9 0 2 0-10 1 2 0 3 0-4 1 5 0 4 0-11 1 7 0 1 0-10 1 3 0 6 0 4 0-12 1 1 0 5 0-6 1 2 0 2 0 3 0 3 0-11 1 2 0 8 0-10 1 5 0 3 0 1 0-8 1 2 0 5 0-8 1 2 0 3 0 2 0 2 0 1 0 2 0-8 1-3 1 1 1 3 0 3 0 1 0 2 0-7 1-4 1 3 0 8 0-8 2 3 0-2 1-3 4 17-9-1-3-2-4 1-1-2-2 1 0 1-1 11-1-10-1 6 0-5-1 4 0-5-1 3 0-6-1 1 0 1-1 1 0 0-1 3 0-2-1 1 0 5 0-10-1 3 0 1 0-4-1 4 0 1 0 1 0 4 0-7-1-1-1 7 0-9-1 1 0 6 0 4 0 1 0-11-1 6 0 2 0 1 0-5-1 1 0-6-1 9 0 1 0-10-1 2 0 6 0 4 0-12-1 2 0 11 0-8-1 1 0 2 0 3 0 2 0-12-1 11 0-5-1 3 0-9-1 6 0 1 0 1 0 1-1 2 0 1 0-10-1 7 0 2 0-4-1-4-1 1 0 2-1 1 0 4 0-10-2 8-3 0-7 3-1 7-1 3 1-3 2 3 1-2 5-4 2 7 0-7 1 2 0-5 1 1 0-1 2 2 1 5 0-7 1 8 0-8 2 3 0 3 1 1 0-7 2 4 1-3 1 9 0-10 1 8 0-4 1-1 1-3 2 1 0 7 0 12-3 3-9-6-5-2-16 26-5-3 2-8 9 12-10 7-3-5-1 5-5-2-1"/></g><line x1="31.0" y1="152.3" x2="176.0" y2="14.8" stroke="#1a1a1a" stroke-width="1.15" stroke-dasharray="4.5 3.8" stroke-dashoffset="0.7"/><rect x="31.0" y="14.8" width="145.0" height="137.5" fill="none" stroke="#4d4d4d" stroke-width="1.1"/><path d="M31.0 152.3v2.4M31.0 152.3h-2.4M43.1 152.3v1.4M31.0 140.8h-1.4M55.2 152.3v2.4M31.0 129.4h-2.4M67.2 152.3v1.4M31.0 117.9h-1.4M79.3 152.3v2.4M31.0 106.5h-2.4M91.4 152.3v1.4M31.0 95.0h-1.4M103.5 152.3v2.4M31.0 83.6h-2.4M115.6 152.3v1.4M31.0 72.1h-1.4M127.7 152.3v2.4M31.0 60.6h-2.4M139.8 152.3v1.4M31.0 49.2h-1.4M151.8 152.3v2.4M31.0 37.7h-2.4M163.9 152.3v1.4M31.0 26.3h-1.4" stroke="#3a3a3a" stroke-width="0.9" fill="none"/><text class="t" x="31.0" y="163" text-anchor="middle">0</text><text class="t" x="27.3" y="155.3" text-anchor="end">0</text><text class="t" x="55.2" y="163" text-anchor="middle">2</text><text class="t" x="27.3" y="132.4" text-anchor="end">2</text><text class="t" x="79.3" y="163" text-anchor="middle">4</text><text class="t" x="27.3" y="109.5" text-anchor="end">4</text><text class="t" x="103.5" y="163" text-anchor="middle">6</text><text class="t" x="27.3" y="86.6" text-anchor="end">6</text><text class="t" x="127.7" y="163" text-anchor="middle">8</text><text class="t" x="27.3" y="63.6" text-anchor="end">8</text><text class="t" x="151.8" y="163" text-anchor="middle">10</text><text class="t" x="27.3" y="40.7" text-anchor="end">10</text><text class="l" x="52.4" y="178.9">Measured ET<tspan font-size="7" dy="2.7">0</tspan><tspan dy="-2.7"> (mm/d)</tspan></text><text class="l" transform="translate(14.9,137.0) rotate(-90)" x="0" y="0">Estimated ET<tspan font-size="7" dy="2.7">0</tspan><tspan dy="-2.7"> (mm/d)</tspan></text><text x="50.5" y="32.8" font-size="11" stroke="#111" stroke-width="0.3">56,778</text><text x="86.6" y="32.8" font-size="11" class="b" stroke="#111" stroke-width="0.25">6</text><circle cx="134.4" cy="115.9" r="1.25" fill="none" stroke="#5a5a5a" stroke-width="1.20"/><text class="g" x="145.9" y="118.6">CLDAS</text><circle cx="134.4" cy="126.2" r="1.25" fill="none" stroke="#f24a4a" stroke-width="1.20"/><text class="g" x="145.9" y="128.9">GPR</text><circle cx="134.4" cy="136.6" r="1.25" fill="none" stroke="#1a73e8" stroke-width="1.20"/><text class="g" x="145.9" y="139.3">XGB</text></g></svg></body></html>
